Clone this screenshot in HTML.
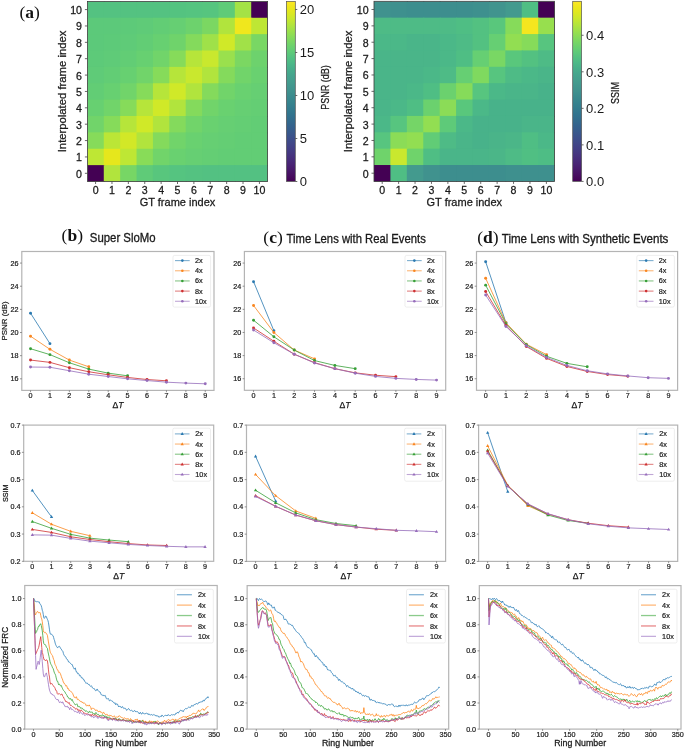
<!DOCTYPE html>
<html><head><meta charset="utf-8"><style>
html,body{margin:0;padding:0;background:#fff;width:685px;height:749px;overflow:hidden;}
svg{display:block;will-change:transform;}
</style></head><body>
<svg width="685" height="749" viewBox="0 0 685 749">
<rect width="685" height="749" fill="#fff"/>
<text x="19.4" y="17.7" font-size="17.5" font-family='"Liberation Serif", serif' fill="#111">(<tspan font-weight="bold">a</tspan>)</text>
<defs><clipPath id="c87"><rect x="87.400" y="1.400" width="180.200" height="180.100"/></clipPath></defs>
<g clip-path="url(#c87)">
<rect x="87.400" y="1.400" width="17.382" height="17.373" fill="#54c281"/>
<rect x="103.782" y="1.400" width="17.382" height="17.373" fill="#54c281"/>
<rect x="120.164" y="1.400" width="17.382" height="17.373" fill="#54c281"/>
<rect x="136.545" y="1.400" width="17.382" height="17.373" fill="#54c281"/>
<rect x="152.927" y="1.400" width="17.382" height="17.373" fill="#54c281"/>
<rect x="169.309" y="1.400" width="17.382" height="17.373" fill="#54c380"/>
<rect x="185.691" y="1.400" width="17.382" height="17.373" fill="#55c480"/>
<rect x="202.073" y="1.400" width="17.382" height="17.373" fill="#56c57f"/>
<rect x="218.455" y="1.400" width="17.382" height="17.373" fill="#5fcb78"/>
<rect x="234.836" y="1.400" width="17.382" height="17.373" fill="#a4e246"/>
<rect x="251.218" y="1.400" width="17.382" height="17.373" fill="#440154"/>
<rect x="87.400" y="17.773" width="17.382" height="17.373" fill="#5cc97a"/>
<rect x="103.782" y="17.773" width="17.382" height="17.373" fill="#5cc97a"/>
<rect x="120.164" y="17.773" width="17.382" height="17.373" fill="#5dca79"/>
<rect x="136.545" y="17.773" width="17.382" height="17.373" fill="#5fcb78"/>
<rect x="152.927" y="17.773" width="17.382" height="17.373" fill="#62cd75"/>
<rect x="169.309" y="17.773" width="17.382" height="17.373" fill="#66cf73"/>
<rect x="185.691" y="17.773" width="17.382" height="17.373" fill="#6dd26d"/>
<rect x="202.073" y="17.773" width="17.382" height="17.373" fill="#7bd762"/>
<rect x="218.455" y="17.773" width="17.382" height="17.373" fill="#b1e43d"/>
<rect x="234.836" y="17.773" width="17.382" height="17.373" fill="#f0e71d"/>
<rect x="251.218" y="17.773" width="17.382" height="17.373" fill="#bee734"/>
<rect x="87.400" y="34.145" width="17.382" height="17.373" fill="#5cc97a"/>
<rect x="103.782" y="34.145" width="17.382" height="17.373" fill="#5dca79"/>
<rect x="120.164" y="34.145" width="17.382" height="17.373" fill="#5fcb78"/>
<rect x="136.545" y="34.145" width="17.382" height="17.373" fill="#62cd75"/>
<rect x="152.927" y="34.145" width="17.382" height="17.373" fill="#67d071"/>
<rect x="169.309" y="34.145" width="17.382" height="17.373" fill="#6fd36b"/>
<rect x="185.691" y="34.145" width="17.382" height="17.373" fill="#84da5c"/>
<rect x="202.073" y="34.145" width="17.382" height="17.373" fill="#9fe149"/>
<rect x="218.455" y="34.145" width="17.382" height="17.373" fill="#d0e928"/>
<rect x="234.836" y="34.145" width="17.382" height="17.373" fill="#a1e148"/>
<rect x="251.218" y="34.145" width="17.382" height="17.373" fill="#79d764"/>
<rect x="87.400" y="50.518" width="17.382" height="17.373" fill="#5dca79"/>
<rect x="103.782" y="50.518" width="17.382" height="17.373" fill="#5fcb78"/>
<rect x="120.164" y="50.518" width="17.382" height="17.373" fill="#62cd75"/>
<rect x="136.545" y="50.518" width="17.382" height="17.373" fill="#67d071"/>
<rect x="152.927" y="50.518" width="17.382" height="17.373" fill="#71d46a"/>
<rect x="169.309" y="50.518" width="17.382" height="17.373" fill="#86db5a"/>
<rect x="185.691" y="50.518" width="17.382" height="17.373" fill="#b6e53a"/>
<rect x="202.073" y="50.518" width="17.382" height="17.373" fill="#c9e82e"/>
<rect x="218.455" y="50.518" width="17.382" height="17.373" fill="#9ae04d"/>
<rect x="234.836" y="50.518" width="17.382" height="17.373" fill="#7bd762"/>
<rect x="251.218" y="50.518" width="17.382" height="17.373" fill="#6dd26d"/>
<rect x="87.400" y="66.891" width="17.382" height="17.373" fill="#5fcb78"/>
<rect x="103.782" y="66.891" width="17.382" height="17.373" fill="#62cd75"/>
<rect x="120.164" y="66.891" width="17.382" height="17.373" fill="#67d071"/>
<rect x="136.545" y="66.891" width="17.382" height="17.373" fill="#71d46a"/>
<rect x="152.927" y="66.891" width="17.382" height="17.373" fill="#86db5a"/>
<rect x="169.309" y="66.891" width="17.382" height="17.373" fill="#b6e53a"/>
<rect x="185.691" y="66.891" width="17.382" height="17.373" fill="#c9e82e"/>
<rect x="202.073" y="66.891" width="17.382" height="17.373" fill="#b1e43d"/>
<rect x="218.455" y="66.891" width="17.382" height="17.373" fill="#84da5c"/>
<rect x="234.836" y="66.891" width="17.382" height="17.373" fill="#71d46a"/>
<rect x="251.218" y="66.891" width="17.382" height="17.373" fill="#69d170"/>
<rect x="87.400" y="83.264" width="17.382" height="17.373" fill="#62cd75"/>
<rect x="103.782" y="83.264" width="17.382" height="17.373" fill="#67d071"/>
<rect x="120.164" y="83.264" width="17.382" height="17.373" fill="#71d46a"/>
<rect x="136.545" y="83.264" width="17.382" height="17.373" fill="#86db5a"/>
<rect x="152.927" y="83.264" width="17.382" height="17.373" fill="#b6e53a"/>
<rect x="169.309" y="83.264" width="17.382" height="17.373" fill="#d0e928"/>
<rect x="185.691" y="83.264" width="17.382" height="17.373" fill="#b1e43d"/>
<rect x="202.073" y="83.264" width="17.382" height="17.373" fill="#84da5c"/>
<rect x="218.455" y="83.264" width="17.382" height="17.373" fill="#71d46a"/>
<rect x="234.836" y="83.264" width="17.382" height="17.373" fill="#69d170"/>
<rect x="251.218" y="83.264" width="17.382" height="17.373" fill="#66cf73"/>
<rect x="87.400" y="99.636" width="17.382" height="17.373" fill="#67d071"/>
<rect x="103.782" y="99.636" width="17.382" height="17.373" fill="#71d46a"/>
<rect x="120.164" y="99.636" width="17.382" height="17.373" fill="#86db5a"/>
<rect x="136.545" y="99.636" width="17.382" height="17.373" fill="#b6e53a"/>
<rect x="152.927" y="99.636" width="17.382" height="17.373" fill="#d0e928"/>
<rect x="169.309" y="99.636" width="17.382" height="17.373" fill="#b1e43d"/>
<rect x="185.691" y="99.636" width="17.382" height="17.373" fill="#84da5c"/>
<rect x="202.073" y="99.636" width="17.382" height="17.373" fill="#71d46a"/>
<rect x="218.455" y="99.636" width="17.382" height="17.373" fill="#69d170"/>
<rect x="234.836" y="99.636" width="17.382" height="17.373" fill="#66cf73"/>
<rect x="251.218" y="99.636" width="17.382" height="17.373" fill="#64ce74"/>
<rect x="87.400" y="116.009" width="17.382" height="17.373" fill="#71d46a"/>
<rect x="103.782" y="116.009" width="17.382" height="17.373" fill="#86db5a"/>
<rect x="120.164" y="116.009" width="17.382" height="17.373" fill="#b6e53a"/>
<rect x="136.545" y="116.009" width="17.382" height="17.373" fill="#d0e928"/>
<rect x="152.927" y="116.009" width="17.382" height="17.373" fill="#b1e43d"/>
<rect x="169.309" y="116.009" width="17.382" height="17.373" fill="#84da5c"/>
<rect x="185.691" y="116.009" width="17.382" height="17.373" fill="#71d46a"/>
<rect x="202.073" y="116.009" width="17.382" height="17.373" fill="#69d170"/>
<rect x="218.455" y="116.009" width="17.382" height="17.373" fill="#66cf73"/>
<rect x="234.836" y="116.009" width="17.382" height="17.373" fill="#64ce74"/>
<rect x="251.218" y="116.009" width="17.382" height="17.373" fill="#62cd75"/>
<rect x="87.400" y="132.382" width="17.382" height="17.373" fill="#86db5a"/>
<rect x="103.782" y="132.382" width="17.382" height="17.373" fill="#bbe636"/>
<rect x="120.164" y="132.382" width="17.382" height="17.373" fill="#d2e827"/>
<rect x="136.545" y="132.382" width="17.382" height="17.373" fill="#b1e43d"/>
<rect x="152.927" y="132.382" width="17.382" height="17.373" fill="#84da5c"/>
<rect x="169.309" y="132.382" width="17.382" height="17.373" fill="#71d46a"/>
<rect x="185.691" y="132.382" width="17.382" height="17.373" fill="#69d170"/>
<rect x="202.073" y="132.382" width="17.382" height="17.373" fill="#66cf73"/>
<rect x="218.455" y="132.382" width="17.382" height="17.373" fill="#64ce74"/>
<rect x="234.836" y="132.382" width="17.382" height="17.373" fill="#62cd75"/>
<rect x="251.218" y="132.382" width="17.382" height="17.373" fill="#62cd75"/>
<rect x="87.400" y="148.755" width="17.382" height="17.373" fill="#bee734"/>
<rect x="103.782" y="148.755" width="17.382" height="17.373" fill="#e6e71c"/>
<rect x="120.164" y="148.755" width="17.382" height="17.373" fill="#bee734"/>
<rect x="136.545" y="148.755" width="17.382" height="17.373" fill="#88dc58"/>
<rect x="152.927" y="148.755" width="17.382" height="17.373" fill="#71d46a"/>
<rect x="169.309" y="148.755" width="17.382" height="17.373" fill="#69d170"/>
<rect x="185.691" y="148.755" width="17.382" height="17.373" fill="#66cf73"/>
<rect x="202.073" y="148.755" width="17.382" height="17.373" fill="#64ce74"/>
<rect x="218.455" y="148.755" width="17.382" height="17.373" fill="#62cd75"/>
<rect x="234.836" y="148.755" width="17.382" height="17.373" fill="#62cd75"/>
<rect x="251.218" y="148.755" width="17.382" height="17.373" fill="#62cd75"/>
<rect x="87.400" y="165.127" width="17.382" height="17.373" fill="#440154"/>
<rect x="103.782" y="165.127" width="17.382" height="17.373" fill="#b1e43d"/>
<rect x="120.164" y="165.127" width="17.382" height="17.373" fill="#77d665"/>
<rect x="136.545" y="165.127" width="17.382" height="17.373" fill="#5fcb78"/>
<rect x="152.927" y="165.127" width="17.382" height="17.373" fill="#58c67d"/>
<rect x="169.309" y="165.127" width="17.382" height="17.373" fill="#55c480"/>
<rect x="185.691" y="165.127" width="17.382" height="17.373" fill="#54c281"/>
<rect x="202.073" y="165.127" width="17.382" height="17.373" fill="#53c182"/>
<rect x="218.455" y="165.127" width="17.382" height="17.373" fill="#53c182"/>
<rect x="234.836" y="165.127" width="17.382" height="17.373" fill="#53c182"/>
<rect x="251.218" y="165.127" width="17.382" height="17.373" fill="#53c182"/>
</g>
<rect x="87.40" y="1.40" width="180.20" height="180.10" fill="none" stroke="#3a3a3a" stroke-width="0.8"/>
<line x1="95.59" y1="181.50" x2="95.59" y2="184.00" stroke="#444" stroke-width="0.8"/>
<text x="95.59" y="194.10" font-size="10.60" text-anchor="middle" fill="#1a1a1a" font-weight="normal" font-family='"Liberation Sans", sans-serif' stroke="#1a1a1a" stroke-width="0.26">0</text>
<line x1="84.90" y1="173.31" x2="87.40" y2="173.31" stroke="#444" stroke-width="0.8"/>
<text x="82.00" y="177.81" font-size="10.60" text-anchor="end" fill="#1a1a1a" font-weight="normal" font-family='"Liberation Sans", sans-serif' stroke="#1a1a1a" stroke-width="0.26">0</text>
<line x1="111.97" y1="181.50" x2="111.97" y2="184.00" stroke="#444" stroke-width="0.8"/>
<text x="111.97" y="194.10" font-size="10.60" text-anchor="middle" fill="#1a1a1a" font-weight="normal" font-family='"Liberation Sans", sans-serif' stroke="#1a1a1a" stroke-width="0.26">1</text>
<line x1="84.90" y1="156.94" x2="87.40" y2="156.94" stroke="#444" stroke-width="0.8"/>
<text x="82.00" y="161.44" font-size="10.60" text-anchor="end" fill="#1a1a1a" font-weight="normal" font-family='"Liberation Sans", sans-serif' stroke="#1a1a1a" stroke-width="0.26">1</text>
<line x1="128.35" y1="181.50" x2="128.35" y2="184.00" stroke="#444" stroke-width="0.8"/>
<text x="128.35" y="194.10" font-size="10.60" text-anchor="middle" fill="#1a1a1a" font-weight="normal" font-family='"Liberation Sans", sans-serif' stroke="#1a1a1a" stroke-width="0.26">2</text>
<line x1="84.90" y1="140.57" x2="87.40" y2="140.57" stroke="#444" stroke-width="0.8"/>
<text x="82.00" y="145.07" font-size="10.60" text-anchor="end" fill="#1a1a1a" font-weight="normal" font-family='"Liberation Sans", sans-serif' stroke="#1a1a1a" stroke-width="0.26">2</text>
<line x1="144.74" y1="181.50" x2="144.74" y2="184.00" stroke="#444" stroke-width="0.8"/>
<text x="144.74" y="194.10" font-size="10.60" text-anchor="middle" fill="#1a1a1a" font-weight="normal" font-family='"Liberation Sans", sans-serif' stroke="#1a1a1a" stroke-width="0.26">3</text>
<line x1="84.90" y1="124.20" x2="87.40" y2="124.20" stroke="#444" stroke-width="0.8"/>
<text x="82.00" y="128.70" font-size="10.60" text-anchor="end" fill="#1a1a1a" font-weight="normal" font-family='"Liberation Sans", sans-serif' stroke="#1a1a1a" stroke-width="0.26">3</text>
<line x1="161.12" y1="181.50" x2="161.12" y2="184.00" stroke="#444" stroke-width="0.8"/>
<text x="161.12" y="194.10" font-size="10.60" text-anchor="middle" fill="#1a1a1a" font-weight="normal" font-family='"Liberation Sans", sans-serif' stroke="#1a1a1a" stroke-width="0.26">4</text>
<line x1="84.90" y1="107.82" x2="87.40" y2="107.82" stroke="#444" stroke-width="0.8"/>
<text x="82.00" y="112.32" font-size="10.60" text-anchor="end" fill="#1a1a1a" font-weight="normal" font-family='"Liberation Sans", sans-serif' stroke="#1a1a1a" stroke-width="0.26">4</text>
<line x1="177.50" y1="181.50" x2="177.50" y2="184.00" stroke="#444" stroke-width="0.8"/>
<text x="177.50" y="194.10" font-size="10.60" text-anchor="middle" fill="#1a1a1a" font-weight="normal" font-family='"Liberation Sans", sans-serif' stroke="#1a1a1a" stroke-width="0.26">5</text>
<line x1="84.90" y1="91.45" x2="87.40" y2="91.45" stroke="#444" stroke-width="0.8"/>
<text x="82.00" y="95.95" font-size="10.60" text-anchor="end" fill="#1a1a1a" font-weight="normal" font-family='"Liberation Sans", sans-serif' stroke="#1a1a1a" stroke-width="0.26">5</text>
<line x1="193.88" y1="181.50" x2="193.88" y2="184.00" stroke="#444" stroke-width="0.8"/>
<text x="193.88" y="194.10" font-size="10.60" text-anchor="middle" fill="#1a1a1a" font-weight="normal" font-family='"Liberation Sans", sans-serif' stroke="#1a1a1a" stroke-width="0.26">6</text>
<line x1="84.90" y1="75.08" x2="87.40" y2="75.08" stroke="#444" stroke-width="0.8"/>
<text x="82.00" y="79.58" font-size="10.60" text-anchor="end" fill="#1a1a1a" font-weight="normal" font-family='"Liberation Sans", sans-serif' stroke="#1a1a1a" stroke-width="0.26">6</text>
<line x1="210.26" y1="181.50" x2="210.26" y2="184.00" stroke="#444" stroke-width="0.8"/>
<text x="210.26" y="194.10" font-size="10.60" text-anchor="middle" fill="#1a1a1a" font-weight="normal" font-family='"Liberation Sans", sans-serif' stroke="#1a1a1a" stroke-width="0.26">7</text>
<line x1="84.90" y1="58.70" x2="87.40" y2="58.70" stroke="#444" stroke-width="0.8"/>
<text x="82.00" y="63.20" font-size="10.60" text-anchor="end" fill="#1a1a1a" font-weight="normal" font-family='"Liberation Sans", sans-serif' stroke="#1a1a1a" stroke-width="0.26">7</text>
<line x1="226.65" y1="181.50" x2="226.65" y2="184.00" stroke="#444" stroke-width="0.8"/>
<text x="226.65" y="194.10" font-size="10.60" text-anchor="middle" fill="#1a1a1a" font-weight="normal" font-family='"Liberation Sans", sans-serif' stroke="#1a1a1a" stroke-width="0.26">8</text>
<line x1="84.90" y1="42.33" x2="87.40" y2="42.33" stroke="#444" stroke-width="0.8"/>
<text x="82.00" y="46.83" font-size="10.60" text-anchor="end" fill="#1a1a1a" font-weight="normal" font-family='"Liberation Sans", sans-serif' stroke="#1a1a1a" stroke-width="0.26">8</text>
<line x1="243.03" y1="181.50" x2="243.03" y2="184.00" stroke="#444" stroke-width="0.8"/>
<text x="243.03" y="194.10" font-size="10.60" text-anchor="middle" fill="#1a1a1a" font-weight="normal" font-family='"Liberation Sans", sans-serif' stroke="#1a1a1a" stroke-width="0.26">9</text>
<line x1="84.90" y1="25.96" x2="87.40" y2="25.96" stroke="#444" stroke-width="0.8"/>
<text x="82.00" y="30.46" font-size="10.60" text-anchor="end" fill="#1a1a1a" font-weight="normal" font-family='"Liberation Sans", sans-serif' stroke="#1a1a1a" stroke-width="0.26">9</text>
<line x1="259.41" y1="181.50" x2="259.41" y2="184.00" stroke="#444" stroke-width="0.8"/>
<text x="259.41" y="194.10" font-size="10.60" text-anchor="middle" fill="#1a1a1a" font-weight="normal" font-family='"Liberation Sans", sans-serif' stroke="#1a1a1a" stroke-width="0.26">10</text>
<line x1="84.90" y1="9.59" x2="87.40" y2="9.59" stroke="#444" stroke-width="0.8"/>
<text x="82.00" y="14.09" font-size="10.60" text-anchor="end" fill="#1a1a1a" font-weight="normal" font-family='"Liberation Sans", sans-serif' stroke="#1a1a1a" stroke-width="0.26">10</text>
<text x="177.50" y="205.80" font-size="11.15" text-anchor="middle" fill="#1a1a1a" font-weight="normal" font-family='"Liberation Sans", sans-serif' textLength="75.60" lengthAdjust="spacingAndGlyphs" stroke="#1a1a1a" stroke-width="0.26">GT frame index</text>
<text x="65.67" y="91.45" font-size="11.30" text-anchor="middle" fill="#1a1a1a" font-weight="normal" font-family='"Liberation Sans", sans-serif' transform="rotate(-90 65.668 91.45)" textLength="121.60" lengthAdjust="spacingAndGlyphs" stroke="#1a1a1a" stroke-width="0.26">Interpolated frame index</text>
<defs><linearGradient id="g87" x1="0" y1="1" x2="0" y2="0">
<stop offset="0.0000" stop-color="#440154"/>
<stop offset="0.0312" stop-color="#470d60"/>
<stop offset="0.0625" stop-color="#48186a"/>
<stop offset="0.0938" stop-color="#482374"/>
<stop offset="0.1250" stop-color="#472d7b"/>
<stop offset="0.1562" stop-color="#453781"/>
<stop offset="0.1875" stop-color="#424086"/>
<stop offset="0.2188" stop-color="#3f4989"/>
<stop offset="0.2500" stop-color="#3b528b"/>
<stop offset="0.2812" stop-color="#375b8c"/>
<stop offset="0.3125" stop-color="#34638d"/>
<stop offset="0.3438" stop-color="#326c8d"/>
<stop offset="0.3750" stop-color="#31748e"/>
<stop offset="0.4062" stop-color="#337c8e"/>
<stop offset="0.4375" stop-color="#36838e"/>
<stop offset="0.4688" stop-color="#3a8a8e"/>
<stop offset="0.5000" stop-color="#3f918e"/>
<stop offset="0.5312" stop-color="#42978e"/>
<stop offset="0.5625" stop-color="#449e8e"/>
<stop offset="0.5938" stop-color="#45a58d"/>
<stop offset="0.6250" stop-color="#47ae8b"/>
<stop offset="0.6562" stop-color="#4cb888"/>
<stop offset="0.6875" stop-color="#53c182"/>
<stop offset="0.7188" stop-color="#5eca79"/>
<stop offset="0.7500" stop-color="#6bd16e"/>
<stop offset="0.7812" stop-color="#7bd762"/>
<stop offset="0.8125" stop-color="#8ddd55"/>
<stop offset="0.8438" stop-color="#a1e148"/>
<stop offset="0.8750" stop-color="#b6e53a"/>
<stop offset="0.9062" stop-color="#cbe82c"/>
<stop offset="0.9375" stop-color="#dee820"/>
<stop offset="0.9688" stop-color="#eee71d"/>
<stop offset="1.0000" stop-color="#fde725"/>
</linearGradient></defs>
<rect x="286.40" y="1.40" width="8.90" height="180.10" fill="url(#g87)" stroke="#555" stroke-width="0.7"/>
<line x1="295.30" y1="181.50" x2="297.30" y2="181.50" stroke="#444" stroke-width="0.8"/>
<text x="299.80" y="186.20" font-size="13.00" text-anchor="start" fill="#1a1a1a" font-weight="normal" font-family='"Liberation Sans", sans-serif'>0</text>
<line x1="295.30" y1="138.50" x2="297.30" y2="138.50" stroke="#444" stroke-width="0.8"/>
<text x="299.80" y="143.20" font-size="13.00" text-anchor="start" fill="#1a1a1a" font-weight="normal" font-family='"Liberation Sans", sans-serif'>5</text>
<line x1="295.30" y1="95.49" x2="297.30" y2="95.49" stroke="#444" stroke-width="0.8"/>
<text x="299.80" y="100.19" font-size="13.00" text-anchor="start" fill="#1a1a1a" font-weight="normal" font-family='"Liberation Sans", sans-serif'>10</text>
<line x1="295.30" y1="52.49" x2="297.30" y2="52.49" stroke="#444" stroke-width="0.8"/>
<text x="299.80" y="57.19" font-size="13.00" text-anchor="start" fill="#1a1a1a" font-weight="normal" font-family='"Liberation Sans", sans-serif'>15</text>
<line x1="295.30" y1="9.48" x2="297.30" y2="9.48" stroke="#444" stroke-width="0.8"/>
<text x="299.80" y="14.18" font-size="13.00" text-anchor="start" fill="#1a1a1a" font-weight="normal" font-family='"Liberation Sans", sans-serif'>20</text>
<text x="328.60" y="87.45" font-size="10.00" text-anchor="middle" fill="#1a1a1a" font-weight="normal" font-family='"Liberation Sans", sans-serif' transform="rotate(-90 328.6 87.45)" textLength="44.60" lengthAdjust="spacingAndGlyphs" stroke="#1a1a1a" stroke-width="0.26">PSNR (dB)</text>
<defs><clipPath id="c374"><rect x="374.000" y="1.300" width="180.600" height="180.100"/></clipPath></defs>
<g clip-path="url(#c374)">
<rect x="374.000" y="1.300" width="17.418" height="17.373" fill="#40928e"/>
<rect x="390.418" y="1.300" width="17.418" height="17.373" fill="#3e908e"/>
<rect x="406.836" y="1.300" width="17.418" height="17.373" fill="#3d8e8e"/>
<rect x="423.255" y="1.300" width="17.418" height="17.373" fill="#3d8e8e"/>
<rect x="439.673" y="1.300" width="17.418" height="17.373" fill="#3d8e8e"/>
<rect x="456.091" y="1.300" width="17.418" height="17.373" fill="#3d8e8e"/>
<rect x="472.509" y="1.300" width="17.418" height="17.373" fill="#3e908e"/>
<rect x="488.927" y="1.300" width="17.418" height="17.373" fill="#41948e"/>
<rect x="505.345" y="1.300" width="17.418" height="17.373" fill="#439a8e"/>
<rect x="521.764" y="1.300" width="17.418" height="17.373" fill="#4fbe84"/>
<rect x="538.182" y="1.300" width="17.418" height="17.373" fill="#440154"/>
<rect x="374.000" y="17.673" width="17.418" height="17.373" fill="#4ebb86"/>
<rect x="390.418" y="17.673" width="17.418" height="17.373" fill="#4ebb86"/>
<rect x="406.836" y="17.673" width="17.418" height="17.373" fill="#4ebb86"/>
<rect x="423.255" y="17.673" width="17.418" height="17.373" fill="#4ebb86"/>
<rect x="439.673" y="17.673" width="17.418" height="17.373" fill="#4ebb86"/>
<rect x="456.091" y="17.673" width="17.418" height="17.373" fill="#4fbe84"/>
<rect x="472.509" y="17.673" width="17.418" height="17.373" fill="#53c181"/>
<rect x="488.927" y="17.673" width="17.418" height="17.373" fill="#59c77c"/>
<rect x="505.345" y="17.673" width="17.418" height="17.373" fill="#86db5a"/>
<rect x="521.764" y="17.673" width="17.418" height="17.373" fill="#f4e61f"/>
<rect x="538.182" y="17.673" width="17.418" height="17.373" fill="#97df4e"/>
<rect x="374.000" y="34.045" width="17.418" height="17.373" fill="#4bb888"/>
<rect x="390.418" y="34.045" width="17.418" height="17.373" fill="#4bb888"/>
<rect x="406.836" y="34.045" width="17.418" height="17.373" fill="#4ab589"/>
<rect x="423.255" y="34.045" width="17.418" height="17.373" fill="#4ab589"/>
<rect x="439.673" y="34.045" width="17.418" height="17.373" fill="#4bb888"/>
<rect x="456.091" y="34.045" width="17.418" height="17.373" fill="#4ebb86"/>
<rect x="472.509" y="34.045" width="17.418" height="17.373" fill="#53c181"/>
<rect x="488.927" y="34.045" width="17.418" height="17.373" fill="#66cf73"/>
<rect x="505.345" y="34.045" width="17.418" height="17.373" fill="#92de52"/>
<rect x="521.764" y="34.045" width="17.418" height="17.373" fill="#86db5a"/>
<rect x="538.182" y="34.045" width="17.418" height="17.373" fill="#57c57f"/>
<rect x="374.000" y="50.418" width="17.418" height="17.373" fill="#4ab589"/>
<rect x="390.418" y="50.418" width="17.418" height="17.373" fill="#4ab589"/>
<rect x="406.836" y="50.418" width="17.418" height="17.373" fill="#4ab589"/>
<rect x="423.255" y="50.418" width="17.418" height="17.373" fill="#4ab589"/>
<rect x="439.673" y="50.418" width="17.418" height="17.373" fill="#4bb888"/>
<rect x="456.091" y="50.418" width="17.418" height="17.373" fill="#4fbe84"/>
<rect x="472.509" y="50.418" width="17.418" height="17.373" fill="#66cf73"/>
<rect x="488.927" y="50.418" width="17.418" height="17.373" fill="#79d764"/>
<rect x="505.345" y="50.418" width="17.418" height="17.373" fill="#59c77c"/>
<rect x="521.764" y="50.418" width="17.418" height="17.373" fill="#53c181"/>
<rect x="538.182" y="50.418" width="17.418" height="17.373" fill="#4ebb86"/>
<rect x="374.000" y="66.791" width="17.418" height="17.373" fill="#4ab589"/>
<rect x="390.418" y="66.791" width="17.418" height="17.373" fill="#4ab589"/>
<rect x="406.836" y="66.791" width="17.418" height="17.373" fill="#4ab589"/>
<rect x="423.255" y="66.791" width="17.418" height="17.373" fill="#4bb888"/>
<rect x="439.673" y="66.791" width="17.418" height="17.373" fill="#4ebb86"/>
<rect x="456.091" y="66.791" width="17.418" height="17.373" fill="#66cf73"/>
<rect x="472.509" y="66.791" width="17.418" height="17.373" fill="#7fd95f"/>
<rect x="488.927" y="66.791" width="17.418" height="17.373" fill="#57c57f"/>
<rect x="505.345" y="66.791" width="17.418" height="17.373" fill="#4ebb86"/>
<rect x="521.764" y="66.791" width="17.418" height="17.373" fill="#4bb888"/>
<rect x="538.182" y="66.791" width="17.418" height="17.373" fill="#4ab589"/>
<rect x="374.000" y="83.164" width="17.418" height="17.373" fill="#4ab589"/>
<rect x="390.418" y="83.164" width="17.418" height="17.373" fill="#4ab589"/>
<rect x="406.836" y="83.164" width="17.418" height="17.373" fill="#4bb888"/>
<rect x="423.255" y="83.164" width="17.418" height="17.373" fill="#4fbe84"/>
<rect x="439.673" y="83.164" width="17.418" height="17.373" fill="#6bd16e"/>
<rect x="456.091" y="83.164" width="17.418" height="17.373" fill="#86db5a"/>
<rect x="472.509" y="83.164" width="17.418" height="17.373" fill="#57c57f"/>
<rect x="488.927" y="83.164" width="17.418" height="17.373" fill="#4bb888"/>
<rect x="505.345" y="83.164" width="17.418" height="17.373" fill="#4ab589"/>
<rect x="521.764" y="83.164" width="17.418" height="17.373" fill="#4ab589"/>
<rect x="538.182" y="83.164" width="17.418" height="17.373" fill="#48b28a"/>
<rect x="374.000" y="99.536" width="17.418" height="17.373" fill="#4ab589"/>
<rect x="390.418" y="99.536" width="17.418" height="17.373" fill="#4bb888"/>
<rect x="406.836" y="99.536" width="17.418" height="17.373" fill="#4fbe84"/>
<rect x="423.255" y="99.536" width="17.418" height="17.373" fill="#6bd16e"/>
<rect x="439.673" y="99.536" width="17.418" height="17.373" fill="#8bdc57"/>
<rect x="456.091" y="99.536" width="17.418" height="17.373" fill="#59c77c"/>
<rect x="472.509" y="99.536" width="17.418" height="17.373" fill="#4bb888"/>
<rect x="488.927" y="99.536" width="17.418" height="17.373" fill="#48b28a"/>
<rect x="505.345" y="99.536" width="17.418" height="17.373" fill="#48b28a"/>
<rect x="521.764" y="99.536" width="17.418" height="17.373" fill="#48b28a"/>
<rect x="538.182" y="99.536" width="17.418" height="17.373" fill="#48b28a"/>
<rect x="374.000" y="115.909" width="17.418" height="17.373" fill="#4bb888"/>
<rect x="390.418" y="115.909" width="17.418" height="17.373" fill="#57c57f"/>
<rect x="406.836" y="115.909" width="17.418" height="17.373" fill="#75d567"/>
<rect x="423.255" y="115.909" width="17.418" height="17.373" fill="#92de52"/>
<rect x="439.673" y="115.909" width="17.418" height="17.373" fill="#5eca79"/>
<rect x="456.091" y="115.909" width="17.418" height="17.373" fill="#4bb888"/>
<rect x="472.509" y="115.909" width="17.418" height="17.373" fill="#48b28a"/>
<rect x="488.927" y="115.909" width="17.418" height="17.373" fill="#48b28a"/>
<rect x="505.345" y="115.909" width="17.418" height="17.373" fill="#48b28a"/>
<rect x="521.764" y="115.909" width="17.418" height="17.373" fill="#4ab589"/>
<rect x="538.182" y="115.909" width="17.418" height="17.373" fill="#4ab589"/>
<rect x="374.000" y="132.282" width="17.418" height="17.373" fill="#57c57f"/>
<rect x="390.418" y="132.282" width="17.418" height="17.373" fill="#8bdc57"/>
<rect x="406.836" y="132.282" width="17.418" height="17.373" fill="#92de52"/>
<rect x="423.255" y="132.282" width="17.418" height="17.373" fill="#61cc76"/>
<rect x="439.673" y="132.282" width="17.418" height="17.373" fill="#4ebb86"/>
<rect x="456.091" y="132.282" width="17.418" height="17.373" fill="#4ab589"/>
<rect x="472.509" y="132.282" width="17.418" height="17.373" fill="#48b28a"/>
<rect x="488.927" y="132.282" width="17.418" height="17.373" fill="#4ab489"/>
<rect x="505.345" y="132.282" width="17.418" height="17.373" fill="#4bb688"/>
<rect x="521.764" y="132.282" width="17.418" height="17.373" fill="#4fbe84"/>
<rect x="538.182" y="132.282" width="17.418" height="17.373" fill="#4bb888"/>
<rect x="374.000" y="148.655" width="17.418" height="17.373" fill="#6fd36b"/>
<rect x="390.418" y="148.655" width="17.418" height="17.373" fill="#c9e82e"/>
<rect x="406.836" y="148.655" width="17.418" height="17.373" fill="#6fd36b"/>
<rect x="423.255" y="148.655" width="17.418" height="17.373" fill="#4fbe84"/>
<rect x="439.673" y="148.655" width="17.418" height="17.373" fill="#4ab589"/>
<rect x="456.091" y="148.655" width="17.418" height="17.373" fill="#4ab589"/>
<rect x="472.509" y="148.655" width="17.418" height="17.373" fill="#4ab589"/>
<rect x="488.927" y="148.655" width="17.418" height="17.373" fill="#4bb688"/>
<rect x="505.345" y="148.655" width="17.418" height="17.373" fill="#4ebb86"/>
<rect x="521.764" y="148.655" width="17.418" height="17.373" fill="#50bf83"/>
<rect x="538.182" y="148.655" width="17.418" height="17.373" fill="#4ebd85"/>
<rect x="374.000" y="165.027" width="17.418" height="17.373" fill="#440154"/>
<rect x="390.418" y="165.027" width="17.418" height="17.373" fill="#4fbe84"/>
<rect x="406.836" y="165.027" width="17.418" height="17.373" fill="#439a8e"/>
<rect x="423.255" y="165.027" width="17.418" height="17.373" fill="#40928e"/>
<rect x="439.673" y="165.027" width="17.418" height="17.373" fill="#3d8e8e"/>
<rect x="456.091" y="165.027" width="17.418" height="17.373" fill="#3d8e8e"/>
<rect x="472.509" y="165.027" width="17.418" height="17.373" fill="#3d8e8e"/>
<rect x="488.927" y="165.027" width="17.418" height="17.373" fill="#3d8e8e"/>
<rect x="505.345" y="165.027" width="17.418" height="17.373" fill="#3e908e"/>
<rect x="521.764" y="165.027" width="17.418" height="17.373" fill="#3e908e"/>
<rect x="538.182" y="165.027" width="17.418" height="17.373" fill="#3e908e"/>
</g>
<rect x="374.00" y="1.30" width="180.60" height="180.10" fill="none" stroke="#3a3a3a" stroke-width="0.8"/>
<line x1="382.21" y1="181.40" x2="382.21" y2="183.90" stroke="#444" stroke-width="0.8"/>
<text x="382.21" y="194.00" font-size="10.60" text-anchor="middle" fill="#1a1a1a" font-weight="normal" font-family='"Liberation Sans", sans-serif' stroke="#1a1a1a" stroke-width="0.26">0</text>
<line x1="371.50" y1="173.21" x2="374.00" y2="173.21" stroke="#444" stroke-width="0.8"/>
<text x="368.60" y="177.71" font-size="10.60" text-anchor="end" fill="#1a1a1a" font-weight="normal" font-family='"Liberation Sans", sans-serif' stroke="#1a1a1a" stroke-width="0.26">0</text>
<line x1="398.63" y1="181.40" x2="398.63" y2="183.90" stroke="#444" stroke-width="0.8"/>
<text x="398.63" y="194.00" font-size="10.60" text-anchor="middle" fill="#1a1a1a" font-weight="normal" font-family='"Liberation Sans", sans-serif' stroke="#1a1a1a" stroke-width="0.26">1</text>
<line x1="371.50" y1="156.84" x2="374.00" y2="156.84" stroke="#444" stroke-width="0.8"/>
<text x="368.60" y="161.34" font-size="10.60" text-anchor="end" fill="#1a1a1a" font-weight="normal" font-family='"Liberation Sans", sans-serif' stroke="#1a1a1a" stroke-width="0.26">1</text>
<line x1="415.05" y1="181.40" x2="415.05" y2="183.90" stroke="#444" stroke-width="0.8"/>
<text x="415.05" y="194.00" font-size="10.60" text-anchor="middle" fill="#1a1a1a" font-weight="normal" font-family='"Liberation Sans", sans-serif' stroke="#1a1a1a" stroke-width="0.26">2</text>
<line x1="371.50" y1="140.47" x2="374.00" y2="140.47" stroke="#444" stroke-width="0.8"/>
<text x="368.60" y="144.97" font-size="10.60" text-anchor="end" fill="#1a1a1a" font-weight="normal" font-family='"Liberation Sans", sans-serif' stroke="#1a1a1a" stroke-width="0.26">2</text>
<line x1="431.46" y1="181.40" x2="431.46" y2="183.90" stroke="#444" stroke-width="0.8"/>
<text x="431.46" y="194.00" font-size="10.60" text-anchor="middle" fill="#1a1a1a" font-weight="normal" font-family='"Liberation Sans", sans-serif' stroke="#1a1a1a" stroke-width="0.26">3</text>
<line x1="371.50" y1="124.10" x2="374.00" y2="124.10" stroke="#444" stroke-width="0.8"/>
<text x="368.60" y="128.60" font-size="10.60" text-anchor="end" fill="#1a1a1a" font-weight="normal" font-family='"Liberation Sans", sans-serif' stroke="#1a1a1a" stroke-width="0.26">3</text>
<line x1="447.88" y1="181.40" x2="447.88" y2="183.90" stroke="#444" stroke-width="0.8"/>
<text x="447.88" y="194.00" font-size="10.60" text-anchor="middle" fill="#1a1a1a" font-weight="normal" font-family='"Liberation Sans", sans-serif' stroke="#1a1a1a" stroke-width="0.26">4</text>
<line x1="371.50" y1="107.72" x2="374.00" y2="107.72" stroke="#444" stroke-width="0.8"/>
<text x="368.60" y="112.22" font-size="10.60" text-anchor="end" fill="#1a1a1a" font-weight="normal" font-family='"Liberation Sans", sans-serif' stroke="#1a1a1a" stroke-width="0.26">4</text>
<line x1="464.30" y1="181.40" x2="464.30" y2="183.90" stroke="#444" stroke-width="0.8"/>
<text x="464.30" y="194.00" font-size="10.60" text-anchor="middle" fill="#1a1a1a" font-weight="normal" font-family='"Liberation Sans", sans-serif' stroke="#1a1a1a" stroke-width="0.26">5</text>
<line x1="371.50" y1="91.35" x2="374.00" y2="91.35" stroke="#444" stroke-width="0.8"/>
<text x="368.60" y="95.85" font-size="10.60" text-anchor="end" fill="#1a1a1a" font-weight="normal" font-family='"Liberation Sans", sans-serif' stroke="#1a1a1a" stroke-width="0.26">5</text>
<line x1="480.72" y1="181.40" x2="480.72" y2="183.90" stroke="#444" stroke-width="0.8"/>
<text x="480.72" y="194.00" font-size="10.60" text-anchor="middle" fill="#1a1a1a" font-weight="normal" font-family='"Liberation Sans", sans-serif' stroke="#1a1a1a" stroke-width="0.26">6</text>
<line x1="371.50" y1="74.98" x2="374.00" y2="74.98" stroke="#444" stroke-width="0.8"/>
<text x="368.60" y="79.48" font-size="10.60" text-anchor="end" fill="#1a1a1a" font-weight="normal" font-family='"Liberation Sans", sans-serif' stroke="#1a1a1a" stroke-width="0.26">6</text>
<line x1="497.14" y1="181.40" x2="497.14" y2="183.90" stroke="#444" stroke-width="0.8"/>
<text x="497.14" y="194.00" font-size="10.60" text-anchor="middle" fill="#1a1a1a" font-weight="normal" font-family='"Liberation Sans", sans-serif' stroke="#1a1a1a" stroke-width="0.26">7</text>
<line x1="371.50" y1="58.60" x2="374.00" y2="58.60" stroke="#444" stroke-width="0.8"/>
<text x="368.60" y="63.10" font-size="10.60" text-anchor="end" fill="#1a1a1a" font-weight="normal" font-family='"Liberation Sans", sans-serif' stroke="#1a1a1a" stroke-width="0.26">7</text>
<line x1="513.55" y1="181.40" x2="513.55" y2="183.90" stroke="#444" stroke-width="0.8"/>
<text x="513.55" y="194.00" font-size="10.60" text-anchor="middle" fill="#1a1a1a" font-weight="normal" font-family='"Liberation Sans", sans-serif' stroke="#1a1a1a" stroke-width="0.26">8</text>
<line x1="371.50" y1="42.23" x2="374.00" y2="42.23" stroke="#444" stroke-width="0.8"/>
<text x="368.60" y="46.73" font-size="10.60" text-anchor="end" fill="#1a1a1a" font-weight="normal" font-family='"Liberation Sans", sans-serif' stroke="#1a1a1a" stroke-width="0.26">8</text>
<line x1="529.97" y1="181.40" x2="529.97" y2="183.90" stroke="#444" stroke-width="0.8"/>
<text x="529.97" y="194.00" font-size="10.60" text-anchor="middle" fill="#1a1a1a" font-weight="normal" font-family='"Liberation Sans", sans-serif' stroke="#1a1a1a" stroke-width="0.26">9</text>
<line x1="371.50" y1="25.86" x2="374.00" y2="25.86" stroke="#444" stroke-width="0.8"/>
<text x="368.60" y="30.36" font-size="10.60" text-anchor="end" fill="#1a1a1a" font-weight="normal" font-family='"Liberation Sans", sans-serif' stroke="#1a1a1a" stroke-width="0.26">9</text>
<line x1="546.39" y1="181.40" x2="546.39" y2="183.90" stroke="#444" stroke-width="0.8"/>
<text x="546.39" y="194.00" font-size="10.60" text-anchor="middle" fill="#1a1a1a" font-weight="normal" font-family='"Liberation Sans", sans-serif' stroke="#1a1a1a" stroke-width="0.26">10</text>
<line x1="371.50" y1="9.49" x2="374.00" y2="9.49" stroke="#444" stroke-width="0.8"/>
<text x="368.60" y="13.99" font-size="10.60" text-anchor="end" fill="#1a1a1a" font-weight="normal" font-family='"Liberation Sans", sans-serif' stroke="#1a1a1a" stroke-width="0.26">10</text>
<text x="464.30" y="205.70" font-size="11.15" text-anchor="middle" fill="#1a1a1a" font-weight="normal" font-family='"Liberation Sans", sans-serif' textLength="75.60" lengthAdjust="spacingAndGlyphs" stroke="#1a1a1a" stroke-width="0.26">GT frame index</text>
<text x="351.57" y="91.35" font-size="11.30" text-anchor="middle" fill="#1a1a1a" font-weight="normal" font-family='"Liberation Sans", sans-serif' transform="rotate(-90 351.568 91.35)" textLength="121.60" lengthAdjust="spacingAndGlyphs" stroke="#1a1a1a" stroke-width="0.26">Interpolated frame index</text>
<defs><linearGradient id="g374" x1="0" y1="1" x2="0" y2="0">
<stop offset="0.0000" stop-color="#440154"/>
<stop offset="0.0312" stop-color="#470d60"/>
<stop offset="0.0625" stop-color="#48186a"/>
<stop offset="0.0938" stop-color="#482374"/>
<stop offset="0.1250" stop-color="#472d7b"/>
<stop offset="0.1562" stop-color="#453781"/>
<stop offset="0.1875" stop-color="#424086"/>
<stop offset="0.2188" stop-color="#3f4989"/>
<stop offset="0.2500" stop-color="#3b528b"/>
<stop offset="0.2812" stop-color="#375b8c"/>
<stop offset="0.3125" stop-color="#34638d"/>
<stop offset="0.3438" stop-color="#326c8d"/>
<stop offset="0.3750" stop-color="#31748e"/>
<stop offset="0.4062" stop-color="#337c8e"/>
<stop offset="0.4375" stop-color="#36838e"/>
<stop offset="0.4688" stop-color="#3a8a8e"/>
<stop offset="0.5000" stop-color="#3f918e"/>
<stop offset="0.5312" stop-color="#42978e"/>
<stop offset="0.5625" stop-color="#449e8e"/>
<stop offset="0.5938" stop-color="#45a58d"/>
<stop offset="0.6250" stop-color="#47ae8b"/>
<stop offset="0.6562" stop-color="#4cb888"/>
<stop offset="0.6875" stop-color="#53c182"/>
<stop offset="0.7188" stop-color="#5eca79"/>
<stop offset="0.7500" stop-color="#6bd16e"/>
<stop offset="0.7812" stop-color="#7bd762"/>
<stop offset="0.8125" stop-color="#8ddd55"/>
<stop offset="0.8438" stop-color="#a1e148"/>
<stop offset="0.8750" stop-color="#b6e53a"/>
<stop offset="0.9062" stop-color="#cbe82c"/>
<stop offset="0.9375" stop-color="#dee820"/>
<stop offset="0.9688" stop-color="#eee71d"/>
<stop offset="1.0000" stop-color="#fde725"/>
</linearGradient></defs>
<rect x="572.70" y="1.30" width="8.90" height="180.10" fill="url(#g374)" stroke="#555" stroke-width="0.7"/>
<line x1="581.60" y1="181.40" x2="583.60" y2="181.40" stroke="#444" stroke-width="0.8"/>
<text x="586.10" y="186.10" font-size="13.00" text-anchor="start" fill="#1a1a1a" font-weight="normal" font-family='"Liberation Sans", sans-serif'>0.0</text>
<line x1="581.60" y1="144.87" x2="583.60" y2="144.87" stroke="#444" stroke-width="0.8"/>
<text x="586.10" y="149.57" font-size="13.00" text-anchor="start" fill="#1a1a1a" font-weight="normal" font-family='"Liberation Sans", sans-serif'>0.1</text>
<line x1="581.60" y1="108.34" x2="583.60" y2="108.34" stroke="#444" stroke-width="0.8"/>
<text x="586.10" y="113.04" font-size="13.00" text-anchor="start" fill="#1a1a1a" font-weight="normal" font-family='"Liberation Sans", sans-serif'>0.2</text>
<line x1="581.60" y1="71.81" x2="583.60" y2="71.81" stroke="#444" stroke-width="0.8"/>
<text x="586.10" y="76.51" font-size="13.00" text-anchor="start" fill="#1a1a1a" font-weight="normal" font-family='"Liberation Sans", sans-serif'>0.3</text>
<line x1="581.60" y1="35.27" x2="583.60" y2="35.27" stroke="#444" stroke-width="0.8"/>
<text x="586.10" y="39.97" font-size="13.00" text-anchor="start" fill="#1a1a1a" font-weight="normal" font-family='"Liberation Sans", sans-serif'>0.4</text>
<text x="619.10" y="93.10" font-size="10.00" text-anchor="middle" fill="#1a1a1a" font-weight="normal" font-family='"Liberation Sans", sans-serif' transform="rotate(-90 619.1 93.1)" textLength="22.00" lengthAdjust="spacingAndGlyphs" stroke="#1a1a1a" stroke-width="0.26">SSIM</text>
<text x="61.60" y="241.00" font-size="17.5" font-family='"Liberation Serif", serif' fill="#111">(<tspan font-weight="bold">b</tspan>)</text>
<text x="89.80" y="241.60" font-size="12.20" text-anchor="start" fill="#1a1a1a" font-weight="normal" font-family='"Liberation Sans", sans-serif' stroke="#1a1a1a" stroke-width="0.3" textLength="65.80" lengthAdjust="spacingAndGlyphs">Super SloMo</text>
<text x="263.30" y="242.60" font-size="17.5" font-family='"Liberation Serif", serif' fill="#111">(<tspan font-weight="bold">c</tspan>)</text>
<text x="286.60" y="242.80" font-size="12.20" text-anchor="start" fill="#1a1a1a" font-weight="normal" font-family='"Liberation Sans", sans-serif' stroke="#1a1a1a" stroke-width="0.3" textLength="139.20" lengthAdjust="spacingAndGlyphs">Time Lens with Real Events</text>
<text x="477.20" y="242.80" font-size="17.5" font-family='"Liberation Serif", serif' fill="#111">(<tspan font-weight="bold">d</tspan>)</text>
<text x="501.80" y="242.80" font-size="12.20" text-anchor="start" fill="#1a1a1a" font-weight="normal" font-family='"Liberation Sans", sans-serif' stroke="#1a1a1a" stroke-width="0.3" textLength="166.60" lengthAdjust="spacingAndGlyphs">Time Lens with Synthetic Events</text>
<rect x="21.80" y="251.50" width="192.20" height="138.90" fill="none" stroke="#b4b4b4" stroke-width="1.2"/>
<line x1="30.54" y1="390.40" x2="30.54" y2="392.20" stroke="#666" stroke-width="0.7"/>
<text x="30.54" y="398.30" font-size="7.20" text-anchor="middle" fill="#1a1a1a" font-weight="normal" font-family='"Liberation Sans", sans-serif' stroke="#1a1a1a" stroke-width="0.20">0</text>
<line x1="49.95" y1="390.40" x2="49.95" y2="392.20" stroke="#666" stroke-width="0.7"/>
<text x="49.95" y="398.30" font-size="7.20" text-anchor="middle" fill="#1a1a1a" font-weight="normal" font-family='"Liberation Sans", sans-serif' stroke="#1a1a1a" stroke-width="0.20">1</text>
<line x1="69.36" y1="390.40" x2="69.36" y2="392.20" stroke="#666" stroke-width="0.7"/>
<text x="69.36" y="398.30" font-size="7.20" text-anchor="middle" fill="#1a1a1a" font-weight="normal" font-family='"Liberation Sans", sans-serif' stroke="#1a1a1a" stroke-width="0.20">2</text>
<line x1="88.78" y1="390.40" x2="88.78" y2="392.20" stroke="#666" stroke-width="0.7"/>
<text x="88.78" y="398.30" font-size="7.20" text-anchor="middle" fill="#1a1a1a" font-weight="normal" font-family='"Liberation Sans", sans-serif' stroke="#1a1a1a" stroke-width="0.20">3</text>
<line x1="108.19" y1="390.40" x2="108.19" y2="392.20" stroke="#666" stroke-width="0.7"/>
<text x="108.19" y="398.30" font-size="7.20" text-anchor="middle" fill="#1a1a1a" font-weight="normal" font-family='"Liberation Sans", sans-serif' stroke="#1a1a1a" stroke-width="0.20">4</text>
<line x1="127.61" y1="390.40" x2="127.61" y2="392.20" stroke="#666" stroke-width="0.7"/>
<text x="127.61" y="398.30" font-size="7.20" text-anchor="middle" fill="#1a1a1a" font-weight="normal" font-family='"Liberation Sans", sans-serif' stroke="#1a1a1a" stroke-width="0.20">5</text>
<line x1="147.02" y1="390.40" x2="147.02" y2="392.20" stroke="#666" stroke-width="0.7"/>
<text x="147.02" y="398.30" font-size="7.20" text-anchor="middle" fill="#1a1a1a" font-weight="normal" font-family='"Liberation Sans", sans-serif' stroke="#1a1a1a" stroke-width="0.20">6</text>
<line x1="166.44" y1="390.40" x2="166.44" y2="392.20" stroke="#666" stroke-width="0.7"/>
<text x="166.44" y="398.30" font-size="7.20" text-anchor="middle" fill="#1a1a1a" font-weight="normal" font-family='"Liberation Sans", sans-serif' stroke="#1a1a1a" stroke-width="0.20">7</text>
<line x1="185.85" y1="390.40" x2="185.85" y2="392.20" stroke="#666" stroke-width="0.7"/>
<text x="185.85" y="398.30" font-size="7.20" text-anchor="middle" fill="#1a1a1a" font-weight="normal" font-family='"Liberation Sans", sans-serif' stroke="#1a1a1a" stroke-width="0.20">8</text>
<line x1="205.26" y1="390.40" x2="205.26" y2="392.20" stroke="#666" stroke-width="0.7"/>
<text x="205.26" y="398.30" font-size="7.20" text-anchor="middle" fill="#1a1a1a" font-weight="normal" font-family='"Liberation Sans", sans-serif' stroke="#1a1a1a" stroke-width="0.20">9</text>
<line x1="20.00" y1="378.82" x2="21.80" y2="378.82" stroke="#666" stroke-width="0.7"/>
<text x="18.60" y="381.38" font-size="7.20" text-anchor="end" fill="#1a1a1a" font-weight="normal" font-family='"Liberation Sans", sans-serif' stroke="#1a1a1a" stroke-width="0.20">16</text>
<line x1="20.00" y1="355.67" x2="21.80" y2="355.67" stroke="#666" stroke-width="0.7"/>
<text x="18.60" y="358.22" font-size="7.20" text-anchor="end" fill="#1a1a1a" font-weight="normal" font-family='"Liberation Sans", sans-serif' stroke="#1a1a1a" stroke-width="0.20">18</text>
<line x1="20.00" y1="332.52" x2="21.80" y2="332.52" stroke="#666" stroke-width="0.7"/>
<text x="18.60" y="335.07" font-size="7.20" text-anchor="end" fill="#1a1a1a" font-weight="normal" font-family='"Liberation Sans", sans-serif' stroke="#1a1a1a" stroke-width="0.20">20</text>
<line x1="20.00" y1="309.38" x2="21.80" y2="309.38" stroke="#666" stroke-width="0.7"/>
<text x="18.60" y="311.93" font-size="7.20" text-anchor="end" fill="#1a1a1a" font-weight="normal" font-family='"Liberation Sans", sans-serif' stroke="#1a1a1a" stroke-width="0.20">22</text>
<line x1="20.00" y1="286.23" x2="21.80" y2="286.23" stroke="#666" stroke-width="0.7"/>
<text x="18.60" y="288.78" font-size="7.20" text-anchor="end" fill="#1a1a1a" font-weight="normal" font-family='"Liberation Sans", sans-serif' stroke="#1a1a1a" stroke-width="0.20">24</text>
<line x1="20.00" y1="263.07" x2="21.80" y2="263.07" stroke="#666" stroke-width="0.7"/>
<text x="18.60" y="265.62" font-size="7.20" text-anchor="end" fill="#1a1a1a" font-weight="normal" font-family='"Liberation Sans", sans-serif' stroke="#1a1a1a" stroke-width="0.20">26</text>
<polyline points="30.54,313.19 49.95,343.64" fill="none" stroke="#2a79b0" stroke-width="0.8" stroke-linejoin="round"/>
<circle cx="30.54" cy="313.19" r="1.45" fill="#2a79b0"/>
<circle cx="49.95" cy="343.64" r="1.45" fill="#2a79b0"/>
<polyline points="30.54,336.23 49.95,349.31 69.36,360.07 88.78,366.79" fill="none" stroke="#f98620" stroke-width="0.8" stroke-linejoin="round"/>
<circle cx="30.54" cy="336.23" r="1.45" fill="#f98620"/>
<circle cx="49.95" cy="349.31" r="1.45" fill="#f98620"/>
<circle cx="69.36" cy="360.07" r="1.45" fill="#f98620"/>
<circle cx="88.78" cy="366.79" r="1.45" fill="#f98620"/>
<polyline points="30.54,348.73 49.95,354.63 69.36,362.74 88.78,369.10 108.19,373.15 127.61,375.82" fill="none" stroke="#379f37" stroke-width="0.8" stroke-linejoin="round"/>
<circle cx="30.54" cy="348.73" r="1.45" fill="#379f37"/>
<circle cx="49.95" cy="354.63" r="1.45" fill="#379f37"/>
<circle cx="69.36" cy="362.74" r="1.45" fill="#379f37"/>
<circle cx="88.78" cy="369.10" r="1.45" fill="#379f37"/>
<circle cx="108.19" cy="373.15" r="1.45" fill="#379f37"/>
<circle cx="127.61" cy="375.82" r="1.45" fill="#379f37"/>
<polyline points="30.54,360.07 49.95,362.39 69.36,367.71 88.78,371.76 108.19,374.77 127.61,377.44 147.02,379.52 166.44,380.79" fill="none" stroke="#ce3031" stroke-width="0.8" stroke-linejoin="round"/>
<circle cx="30.54" cy="360.07" r="1.45" fill="#ce3031"/>
<circle cx="49.95" cy="362.39" r="1.45" fill="#ce3031"/>
<circle cx="69.36" cy="367.71" r="1.45" fill="#ce3031"/>
<circle cx="88.78" cy="371.76" r="1.45" fill="#ce3031"/>
<circle cx="108.19" cy="374.77" r="1.45" fill="#ce3031"/>
<circle cx="127.61" cy="377.44" r="1.45" fill="#ce3031"/>
<circle cx="147.02" cy="379.52" r="1.45" fill="#ce3031"/>
<circle cx="166.44" cy="380.79" r="1.45" fill="#ce3031"/>
<polyline points="30.54,367.02 49.95,367.25 69.36,370.72 88.78,374.19 108.19,376.51 127.61,378.82 147.02,380.56 166.44,382.18 185.85,383.11 205.26,383.80" fill="none" stroke="#966dbb" stroke-width="0.8" stroke-linejoin="round"/>
<circle cx="30.54" cy="367.02" r="1.45" fill="#966dbb"/>
<circle cx="49.95" cy="367.25" r="1.45" fill="#966dbb"/>
<circle cx="69.36" cy="370.72" r="1.45" fill="#966dbb"/>
<circle cx="88.78" cy="374.19" r="1.45" fill="#966dbb"/>
<circle cx="108.19" cy="376.51" r="1.45" fill="#966dbb"/>
<circle cx="127.61" cy="378.82" r="1.45" fill="#966dbb"/>
<circle cx="147.02" cy="380.56" r="1.45" fill="#966dbb"/>
<circle cx="166.44" cy="382.18" r="1.45" fill="#966dbb"/>
<circle cx="185.85" cy="383.11" r="1.45" fill="#966dbb"/>
<circle cx="205.26" cy="383.80" r="1.45" fill="#966dbb"/>
<text x="117.90" y="407.60" font-size="8.6" text-anchor="middle" fill="#1a1a1a" stroke="#1a1a1a" stroke-width="0.25" font-family='"Liberation Sans", sans-serif'>&#916;<tspan font-style="italic">T</tspan></text>
<text x="6.84" y="320.95" font-size="7.90" text-anchor="middle" fill="#1a1a1a" font-weight="normal" font-family='"Liberation Sans", sans-serif' transform="rotate(-90 6.844 320.95)" stroke="#1a1a1a" stroke-width="0.20">PSNR (dB)</text>
<rect x="173.00" y="255.40" width="37.60" height="51.70" rx="1.6" fill="#fff" fill-opacity="0.85" stroke="#e2e2e2" stroke-width="0.6"/>
<line x1="175.00" y1="260.60" x2="189.70" y2="260.60" stroke="#2a79b0" stroke-width="1.1" stroke-opacity="0.6"/>
<circle cx="182.35" cy="260.60" r="1.3" fill="#2a79b0"/>
<text x="195.00" y="263.15" font-size="7.30" text-anchor="start" fill="#1a1a1a" font-weight="normal" font-family='"Liberation Sans", sans-serif' stroke="#1a1a1a" stroke-width="0.20">2x</text>
<line x1="175.00" y1="270.77" x2="189.70" y2="270.77" stroke="#f98620" stroke-width="1.1" stroke-opacity="0.6"/>
<circle cx="182.35" cy="270.77" r="1.3" fill="#f98620"/>
<text x="195.00" y="273.32" font-size="7.30" text-anchor="start" fill="#1a1a1a" font-weight="normal" font-family='"Liberation Sans", sans-serif' stroke="#1a1a1a" stroke-width="0.20">4x</text>
<line x1="175.00" y1="280.94" x2="189.70" y2="280.94" stroke="#379f37" stroke-width="1.1" stroke-opacity="0.6"/>
<circle cx="182.35" cy="280.94" r="1.3" fill="#379f37"/>
<text x="195.00" y="283.49" font-size="7.30" text-anchor="start" fill="#1a1a1a" font-weight="normal" font-family='"Liberation Sans", sans-serif' stroke="#1a1a1a" stroke-width="0.20">6x</text>
<line x1="175.00" y1="291.11" x2="189.70" y2="291.11" stroke="#ce3031" stroke-width="1.1" stroke-opacity="0.6"/>
<circle cx="182.35" cy="291.11" r="1.3" fill="#ce3031"/>
<text x="195.00" y="293.66" font-size="7.30" text-anchor="start" fill="#1a1a1a" font-weight="normal" font-family='"Liberation Sans", sans-serif' stroke="#1a1a1a" stroke-width="0.20">8x</text>
<line x1="175.00" y1="301.28" x2="189.70" y2="301.28" stroke="#966dbb" stroke-width="1.1" stroke-opacity="0.6"/>
<circle cx="182.35" cy="301.28" r="1.3" fill="#966dbb"/>
<text x="195.00" y="303.83" font-size="7.30" text-anchor="start" fill="#1a1a1a" font-weight="normal" font-family='"Liberation Sans", sans-serif' stroke="#1a1a1a" stroke-width="0.20">10x</text>
<rect x="244.40" y="251.50" width="201.30" height="138.80" fill="none" stroke="#b4b4b4" stroke-width="1.2"/>
<line x1="253.55" y1="390.30" x2="253.55" y2="392.10" stroke="#666" stroke-width="0.7"/>
<text x="253.55" y="398.20" font-size="7.20" text-anchor="middle" fill="#1a1a1a" font-weight="normal" font-family='"Liberation Sans", sans-serif' stroke="#1a1a1a" stroke-width="0.20">0</text>
<line x1="273.88" y1="390.30" x2="273.88" y2="392.10" stroke="#666" stroke-width="0.7"/>
<text x="273.88" y="398.20" font-size="7.20" text-anchor="middle" fill="#1a1a1a" font-weight="normal" font-family='"Liberation Sans", sans-serif' stroke="#1a1a1a" stroke-width="0.20">1</text>
<line x1="294.22" y1="390.30" x2="294.22" y2="392.10" stroke="#666" stroke-width="0.7"/>
<text x="294.22" y="398.20" font-size="7.20" text-anchor="middle" fill="#1a1a1a" font-weight="normal" font-family='"Liberation Sans", sans-serif' stroke="#1a1a1a" stroke-width="0.20">2</text>
<line x1="314.55" y1="390.30" x2="314.55" y2="392.10" stroke="#666" stroke-width="0.7"/>
<text x="314.55" y="398.20" font-size="7.20" text-anchor="middle" fill="#1a1a1a" font-weight="normal" font-family='"Liberation Sans", sans-serif' stroke="#1a1a1a" stroke-width="0.20">3</text>
<line x1="334.88" y1="390.30" x2="334.88" y2="392.10" stroke="#666" stroke-width="0.7"/>
<text x="334.88" y="398.20" font-size="7.20" text-anchor="middle" fill="#1a1a1a" font-weight="normal" font-family='"Liberation Sans", sans-serif' stroke="#1a1a1a" stroke-width="0.20">4</text>
<line x1="355.22" y1="390.30" x2="355.22" y2="392.10" stroke="#666" stroke-width="0.7"/>
<text x="355.22" y="398.20" font-size="7.20" text-anchor="middle" fill="#1a1a1a" font-weight="normal" font-family='"Liberation Sans", sans-serif' stroke="#1a1a1a" stroke-width="0.20">5</text>
<line x1="375.55" y1="390.30" x2="375.55" y2="392.10" stroke="#666" stroke-width="0.7"/>
<text x="375.55" y="398.20" font-size="7.20" text-anchor="middle" fill="#1a1a1a" font-weight="normal" font-family='"Liberation Sans", sans-serif' stroke="#1a1a1a" stroke-width="0.20">6</text>
<line x1="395.88" y1="390.30" x2="395.88" y2="392.10" stroke="#666" stroke-width="0.7"/>
<text x="395.88" y="398.20" font-size="7.20" text-anchor="middle" fill="#1a1a1a" font-weight="normal" font-family='"Liberation Sans", sans-serif' stroke="#1a1a1a" stroke-width="0.20">7</text>
<line x1="416.22" y1="390.30" x2="416.22" y2="392.10" stroke="#666" stroke-width="0.7"/>
<text x="416.22" y="398.20" font-size="7.20" text-anchor="middle" fill="#1a1a1a" font-weight="normal" font-family='"Liberation Sans", sans-serif' stroke="#1a1a1a" stroke-width="0.20">8</text>
<line x1="436.55" y1="390.30" x2="436.55" y2="392.10" stroke="#666" stroke-width="0.7"/>
<text x="436.55" y="398.20" font-size="7.20" text-anchor="middle" fill="#1a1a1a" font-weight="normal" font-family='"Liberation Sans", sans-serif' stroke="#1a1a1a" stroke-width="0.20">9</text>
<line x1="242.60" y1="378.73" x2="244.40" y2="378.73" stroke="#666" stroke-width="0.7"/>
<text x="241.20" y="381.28" font-size="7.20" text-anchor="end" fill="#1a1a1a" font-weight="normal" font-family='"Liberation Sans", sans-serif' stroke="#1a1a1a" stroke-width="0.20">16</text>
<line x1="242.60" y1="355.60" x2="244.40" y2="355.60" stroke="#666" stroke-width="0.7"/>
<text x="241.20" y="358.15" font-size="7.20" text-anchor="end" fill="#1a1a1a" font-weight="normal" font-family='"Liberation Sans", sans-serif' stroke="#1a1a1a" stroke-width="0.20">18</text>
<line x1="242.60" y1="332.47" x2="244.40" y2="332.47" stroke="#666" stroke-width="0.7"/>
<text x="241.20" y="335.02" font-size="7.20" text-anchor="end" fill="#1a1a1a" font-weight="normal" font-family='"Liberation Sans", sans-serif' stroke="#1a1a1a" stroke-width="0.20">20</text>
<line x1="242.60" y1="309.33" x2="244.40" y2="309.33" stroke="#666" stroke-width="0.7"/>
<text x="241.20" y="311.88" font-size="7.20" text-anchor="end" fill="#1a1a1a" font-weight="normal" font-family='"Liberation Sans", sans-serif' stroke="#1a1a1a" stroke-width="0.20">22</text>
<line x1="242.60" y1="286.20" x2="244.40" y2="286.20" stroke="#666" stroke-width="0.7"/>
<text x="241.20" y="288.75" font-size="7.20" text-anchor="end" fill="#1a1a1a" font-weight="normal" font-family='"Liberation Sans", sans-serif' stroke="#1a1a1a" stroke-width="0.20">24</text>
<line x1="242.60" y1="263.07" x2="244.40" y2="263.07" stroke="#666" stroke-width="0.7"/>
<text x="241.20" y="265.62" font-size="7.20" text-anchor="end" fill="#1a1a1a" font-weight="normal" font-family='"Liberation Sans", sans-serif' stroke="#1a1a1a" stroke-width="0.20">26</text>
<polyline points="253.55,281.69 273.88,330.73" fill="none" stroke="#2a79b0" stroke-width="0.8" stroke-linejoin="round"/>
<circle cx="253.55" cy="281.69" r="1.45" fill="#2a79b0"/>
<circle cx="273.88" cy="330.73" r="1.45" fill="#2a79b0"/>
<polyline points="253.55,305.52 273.88,332.47 294.22,350.05 314.55,358.84" fill="none" stroke="#f98620" stroke-width="0.8" stroke-linejoin="round"/>
<circle cx="253.55" cy="305.52" r="1.45" fill="#f98620"/>
<circle cx="273.88" cy="332.47" r="1.45" fill="#f98620"/>
<circle cx="294.22" cy="350.05" r="1.45" fill="#f98620"/>
<circle cx="314.55" cy="358.84" r="1.45" fill="#f98620"/>
<polyline points="253.55,320.21 273.88,336.75 294.22,350.05 314.55,360.57 334.88,365.43 355.22,368.67" fill="none" stroke="#379f37" stroke-width="0.8" stroke-linejoin="round"/>
<circle cx="253.55" cy="320.21" r="1.45" fill="#379f37"/>
<circle cx="273.88" cy="336.75" r="1.45" fill="#379f37"/>
<circle cx="294.22" cy="350.05" r="1.45" fill="#379f37"/>
<circle cx="314.55" cy="360.57" r="1.45" fill="#379f37"/>
<circle cx="334.88" cy="365.43" r="1.45" fill="#379f37"/>
<circle cx="355.22" cy="368.67" r="1.45" fill="#379f37"/>
<polyline points="253.55,327.96 273.88,341.26 294.22,354.21 314.55,362.66 334.88,368.67 355.22,372.83 375.55,375.26 395.88,376.65" fill="none" stroke="#ce3031" stroke-width="0.8" stroke-linejoin="round"/>
<circle cx="253.55" cy="327.96" r="1.45" fill="#ce3031"/>
<circle cx="273.88" cy="341.26" r="1.45" fill="#ce3031"/>
<circle cx="294.22" cy="354.21" r="1.45" fill="#ce3031"/>
<circle cx="314.55" cy="362.66" r="1.45" fill="#ce3031"/>
<circle cx="334.88" cy="368.67" r="1.45" fill="#ce3031"/>
<circle cx="355.22" cy="372.83" r="1.45" fill="#ce3031"/>
<circle cx="375.55" cy="375.26" r="1.45" fill="#ce3031"/>
<circle cx="395.88" cy="376.65" r="1.45" fill="#ce3031"/>
<polyline points="253.55,330.04 273.88,342.76 294.22,354.21 314.55,363.00 334.88,368.67 355.22,373.18 375.55,376.42 395.88,378.39 416.22,379.43 436.55,380.12" fill="none" stroke="#966dbb" stroke-width="0.8" stroke-linejoin="round"/>
<circle cx="253.55" cy="330.04" r="1.45" fill="#966dbb"/>
<circle cx="273.88" cy="342.76" r="1.45" fill="#966dbb"/>
<circle cx="294.22" cy="354.21" r="1.45" fill="#966dbb"/>
<circle cx="314.55" cy="363.00" r="1.45" fill="#966dbb"/>
<circle cx="334.88" cy="368.67" r="1.45" fill="#966dbb"/>
<circle cx="355.22" cy="373.18" r="1.45" fill="#966dbb"/>
<circle cx="375.55" cy="376.42" r="1.45" fill="#966dbb"/>
<circle cx="395.88" cy="378.39" r="1.45" fill="#966dbb"/>
<circle cx="416.22" cy="379.43" r="1.45" fill="#966dbb"/>
<circle cx="436.55" cy="380.12" r="1.45" fill="#966dbb"/>
<text x="345.05" y="407.50" font-size="8.6" text-anchor="middle" fill="#1a1a1a" stroke="#1a1a1a" stroke-width="0.25" font-family='"Liberation Sans", sans-serif'>&#916;<tspan font-style="italic">T</tspan></text>
<rect x="405.00" y="255.40" width="37.60" height="51.70" rx="1.6" fill="#fff" fill-opacity="0.85" stroke="#e2e2e2" stroke-width="0.6"/>
<line x1="407.00" y1="260.60" x2="421.70" y2="260.60" stroke="#2a79b0" stroke-width="1.1" stroke-opacity="0.6"/>
<circle cx="414.35" cy="260.60" r="1.3" fill="#2a79b0"/>
<text x="427.00" y="263.15" font-size="7.30" text-anchor="start" fill="#1a1a1a" font-weight="normal" font-family='"Liberation Sans", sans-serif' stroke="#1a1a1a" stroke-width="0.20">2x</text>
<line x1="407.00" y1="270.77" x2="421.70" y2="270.77" stroke="#f98620" stroke-width="1.1" stroke-opacity="0.6"/>
<circle cx="414.35" cy="270.77" r="1.3" fill="#f98620"/>
<text x="427.00" y="273.32" font-size="7.30" text-anchor="start" fill="#1a1a1a" font-weight="normal" font-family='"Liberation Sans", sans-serif' stroke="#1a1a1a" stroke-width="0.20">4x</text>
<line x1="407.00" y1="280.94" x2="421.70" y2="280.94" stroke="#379f37" stroke-width="1.1" stroke-opacity="0.6"/>
<circle cx="414.35" cy="280.94" r="1.3" fill="#379f37"/>
<text x="427.00" y="283.49" font-size="7.30" text-anchor="start" fill="#1a1a1a" font-weight="normal" font-family='"Liberation Sans", sans-serif' stroke="#1a1a1a" stroke-width="0.20">6x</text>
<line x1="407.00" y1="291.11" x2="421.70" y2="291.11" stroke="#ce3031" stroke-width="1.1" stroke-opacity="0.6"/>
<circle cx="414.35" cy="291.11" r="1.3" fill="#ce3031"/>
<text x="427.00" y="293.66" font-size="7.30" text-anchor="start" fill="#1a1a1a" font-weight="normal" font-family='"Liberation Sans", sans-serif' stroke="#1a1a1a" stroke-width="0.20">8x</text>
<line x1="407.00" y1="301.28" x2="421.70" y2="301.28" stroke="#966dbb" stroke-width="1.1" stroke-opacity="0.6"/>
<circle cx="414.35" cy="301.28" r="1.3" fill="#966dbb"/>
<text x="427.00" y="303.83" font-size="7.30" text-anchor="start" fill="#1a1a1a" font-weight="normal" font-family='"Liberation Sans", sans-serif' stroke="#1a1a1a" stroke-width="0.20">10x</text>
<rect x="476.50" y="251.50" width="201.10" height="138.80" fill="none" stroke="#b4b4b4" stroke-width="1.2"/>
<line x1="485.64" y1="390.30" x2="485.64" y2="392.10" stroke="#666" stroke-width="0.7"/>
<text x="485.64" y="398.20" font-size="7.20" text-anchor="middle" fill="#1a1a1a" font-weight="normal" font-family='"Liberation Sans", sans-serif' stroke="#1a1a1a" stroke-width="0.20">0</text>
<line x1="505.95" y1="390.30" x2="505.95" y2="392.10" stroke="#666" stroke-width="0.7"/>
<text x="505.95" y="398.20" font-size="7.20" text-anchor="middle" fill="#1a1a1a" font-weight="normal" font-family='"Liberation Sans", sans-serif' stroke="#1a1a1a" stroke-width="0.20">1</text>
<line x1="526.27" y1="390.30" x2="526.27" y2="392.10" stroke="#666" stroke-width="0.7"/>
<text x="526.27" y="398.20" font-size="7.20" text-anchor="middle" fill="#1a1a1a" font-weight="normal" font-family='"Liberation Sans", sans-serif' stroke="#1a1a1a" stroke-width="0.20">2</text>
<line x1="546.58" y1="390.30" x2="546.58" y2="392.10" stroke="#666" stroke-width="0.7"/>
<text x="546.58" y="398.20" font-size="7.20" text-anchor="middle" fill="#1a1a1a" font-weight="normal" font-family='"Liberation Sans", sans-serif' stroke="#1a1a1a" stroke-width="0.20">3</text>
<line x1="566.89" y1="390.30" x2="566.89" y2="392.10" stroke="#666" stroke-width="0.7"/>
<text x="566.89" y="398.20" font-size="7.20" text-anchor="middle" fill="#1a1a1a" font-weight="normal" font-family='"Liberation Sans", sans-serif' stroke="#1a1a1a" stroke-width="0.20">4</text>
<line x1="587.21" y1="390.30" x2="587.21" y2="392.10" stroke="#666" stroke-width="0.7"/>
<text x="587.21" y="398.20" font-size="7.20" text-anchor="middle" fill="#1a1a1a" font-weight="normal" font-family='"Liberation Sans", sans-serif' stroke="#1a1a1a" stroke-width="0.20">5</text>
<line x1="607.52" y1="390.30" x2="607.52" y2="392.10" stroke="#666" stroke-width="0.7"/>
<text x="607.52" y="398.20" font-size="7.20" text-anchor="middle" fill="#1a1a1a" font-weight="normal" font-family='"Liberation Sans", sans-serif' stroke="#1a1a1a" stroke-width="0.20">6</text>
<line x1="627.83" y1="390.30" x2="627.83" y2="392.10" stroke="#666" stroke-width="0.7"/>
<text x="627.83" y="398.20" font-size="7.20" text-anchor="middle" fill="#1a1a1a" font-weight="normal" font-family='"Liberation Sans", sans-serif' stroke="#1a1a1a" stroke-width="0.20">7</text>
<line x1="648.15" y1="390.30" x2="648.15" y2="392.10" stroke="#666" stroke-width="0.7"/>
<text x="648.15" y="398.20" font-size="7.20" text-anchor="middle" fill="#1a1a1a" font-weight="normal" font-family='"Liberation Sans", sans-serif' stroke="#1a1a1a" stroke-width="0.20">8</text>
<line x1="668.46" y1="390.30" x2="668.46" y2="392.10" stroke="#666" stroke-width="0.7"/>
<text x="668.46" y="398.20" font-size="7.20" text-anchor="middle" fill="#1a1a1a" font-weight="normal" font-family='"Liberation Sans", sans-serif' stroke="#1a1a1a" stroke-width="0.20">9</text>
<line x1="474.70" y1="378.73" x2="476.50" y2="378.73" stroke="#666" stroke-width="0.7"/>
<text x="473.30" y="381.28" font-size="7.20" text-anchor="end" fill="#1a1a1a" font-weight="normal" font-family='"Liberation Sans", sans-serif' stroke="#1a1a1a" stroke-width="0.20">16</text>
<line x1="474.70" y1="355.60" x2="476.50" y2="355.60" stroke="#666" stroke-width="0.7"/>
<text x="473.30" y="358.15" font-size="7.20" text-anchor="end" fill="#1a1a1a" font-weight="normal" font-family='"Liberation Sans", sans-serif' stroke="#1a1a1a" stroke-width="0.20">18</text>
<line x1="474.70" y1="332.47" x2="476.50" y2="332.47" stroke="#666" stroke-width="0.7"/>
<text x="473.30" y="335.02" font-size="7.20" text-anchor="end" fill="#1a1a1a" font-weight="normal" font-family='"Liberation Sans", sans-serif' stroke="#1a1a1a" stroke-width="0.20">20</text>
<line x1="474.70" y1="309.33" x2="476.50" y2="309.33" stroke="#666" stroke-width="0.7"/>
<text x="473.30" y="311.88" font-size="7.20" text-anchor="end" fill="#1a1a1a" font-weight="normal" font-family='"Liberation Sans", sans-serif' stroke="#1a1a1a" stroke-width="0.20">22</text>
<line x1="474.70" y1="286.20" x2="476.50" y2="286.20" stroke="#666" stroke-width="0.7"/>
<text x="473.30" y="288.75" font-size="7.20" text-anchor="end" fill="#1a1a1a" font-weight="normal" font-family='"Liberation Sans", sans-serif' stroke="#1a1a1a" stroke-width="0.20">24</text>
<line x1="474.70" y1="263.07" x2="476.50" y2="263.07" stroke="#666" stroke-width="0.7"/>
<text x="473.30" y="265.62" font-size="7.20" text-anchor="end" fill="#1a1a1a" font-weight="normal" font-family='"Liberation Sans", sans-serif' stroke="#1a1a1a" stroke-width="0.20">26</text>
<polyline points="485.64,261.68 505.95,322.75" fill="none" stroke="#2a79b0" stroke-width="0.8" stroke-linejoin="round"/>
<circle cx="485.64" cy="261.68" r="1.45" fill="#2a79b0"/>
<circle cx="505.95" cy="322.75" r="1.45" fill="#2a79b0"/>
<polyline points="485.64,278.22 505.95,322.75 526.27,344.15 546.58,354.67" fill="none" stroke="#f98620" stroke-width="0.8" stroke-linejoin="round"/>
<circle cx="485.64" cy="278.22" r="1.45" fill="#f98620"/>
<circle cx="505.95" cy="322.75" r="1.45" fill="#f98620"/>
<circle cx="526.27" cy="344.15" r="1.45" fill="#f98620"/>
<circle cx="546.58" cy="354.67" r="1.45" fill="#f98620"/>
<polyline points="485.64,285.16 505.95,323.68 526.27,344.61 546.58,356.29 566.89,363.35 587.21,366.82" fill="none" stroke="#379f37" stroke-width="0.8" stroke-linejoin="round"/>
<circle cx="485.64" cy="285.16" r="1.45" fill="#379f37"/>
<circle cx="505.95" cy="323.68" r="1.45" fill="#379f37"/>
<circle cx="526.27" cy="344.61" r="1.45" fill="#379f37"/>
<circle cx="546.58" cy="356.29" r="1.45" fill="#379f37"/>
<circle cx="566.89" cy="363.35" r="1.45" fill="#379f37"/>
<circle cx="587.21" cy="366.82" r="1.45" fill="#379f37"/>
<polyline points="485.64,291.52 505.95,325.53 526.27,346.46 546.58,358.38 566.89,366.47 587.21,371.45 607.52,374.57 627.83,376.30" fill="none" stroke="#ce3031" stroke-width="0.8" stroke-linejoin="round"/>
<circle cx="485.64" cy="291.52" r="1.45" fill="#ce3031"/>
<circle cx="505.95" cy="325.53" r="1.45" fill="#ce3031"/>
<circle cx="526.27" cy="346.46" r="1.45" fill="#ce3031"/>
<circle cx="546.58" cy="358.38" r="1.45" fill="#ce3031"/>
<circle cx="566.89" cy="366.47" r="1.45" fill="#ce3031"/>
<circle cx="587.21" cy="371.45" r="1.45" fill="#ce3031"/>
<circle cx="607.52" cy="374.57" r="1.45" fill="#ce3031"/>
<circle cx="627.83" cy="376.30" r="1.45" fill="#ce3031"/>
<polyline points="485.64,294.99 505.95,326.45 526.27,345.77 546.58,357.45 566.89,365.43 587.21,370.75 607.52,373.88 627.83,375.96 648.15,377.69 668.46,378.39" fill="none" stroke="#966dbb" stroke-width="0.8" stroke-linejoin="round"/>
<circle cx="485.64" cy="294.99" r="1.45" fill="#966dbb"/>
<circle cx="505.95" cy="326.45" r="1.45" fill="#966dbb"/>
<circle cx="526.27" cy="345.77" r="1.45" fill="#966dbb"/>
<circle cx="546.58" cy="357.45" r="1.45" fill="#966dbb"/>
<circle cx="566.89" cy="365.43" r="1.45" fill="#966dbb"/>
<circle cx="587.21" cy="370.75" r="1.45" fill="#966dbb"/>
<circle cx="607.52" cy="373.88" r="1.45" fill="#966dbb"/>
<circle cx="627.83" cy="375.96" r="1.45" fill="#966dbb"/>
<circle cx="648.15" cy="377.69" r="1.45" fill="#966dbb"/>
<circle cx="668.46" cy="378.39" r="1.45" fill="#966dbb"/>
<text x="577.05" y="407.50" font-size="8.6" text-anchor="middle" fill="#1a1a1a" stroke="#1a1a1a" stroke-width="0.25" font-family='"Liberation Sans", sans-serif'>&#916;<tspan font-style="italic">T</tspan></text>
<rect x="636.80" y="255.40" width="37.60" height="51.70" rx="1.6" fill="#fff" fill-opacity="0.85" stroke="#e2e2e2" stroke-width="0.6"/>
<line x1="638.80" y1="260.60" x2="653.50" y2="260.60" stroke="#2a79b0" stroke-width="1.1" stroke-opacity="0.6"/>
<circle cx="646.15" cy="260.60" r="1.3" fill="#2a79b0"/>
<text x="658.80" y="263.15" font-size="7.30" text-anchor="start" fill="#1a1a1a" font-weight="normal" font-family='"Liberation Sans", sans-serif' stroke="#1a1a1a" stroke-width="0.20">2x</text>
<line x1="638.80" y1="270.77" x2="653.50" y2="270.77" stroke="#f98620" stroke-width="1.1" stroke-opacity="0.6"/>
<circle cx="646.15" cy="270.77" r="1.3" fill="#f98620"/>
<text x="658.80" y="273.32" font-size="7.30" text-anchor="start" fill="#1a1a1a" font-weight="normal" font-family='"Liberation Sans", sans-serif' stroke="#1a1a1a" stroke-width="0.20">4x</text>
<line x1="638.80" y1="280.94" x2="653.50" y2="280.94" stroke="#379f37" stroke-width="1.1" stroke-opacity="0.6"/>
<circle cx="646.15" cy="280.94" r="1.3" fill="#379f37"/>
<text x="658.80" y="283.49" font-size="7.30" text-anchor="start" fill="#1a1a1a" font-weight="normal" font-family='"Liberation Sans", sans-serif' stroke="#1a1a1a" stroke-width="0.20">6x</text>
<line x1="638.80" y1="291.11" x2="653.50" y2="291.11" stroke="#ce3031" stroke-width="1.1" stroke-opacity="0.6"/>
<circle cx="646.15" cy="291.11" r="1.3" fill="#ce3031"/>
<text x="658.80" y="293.66" font-size="7.30" text-anchor="start" fill="#1a1a1a" font-weight="normal" font-family='"Liberation Sans", sans-serif' stroke="#1a1a1a" stroke-width="0.20">8x</text>
<line x1="638.80" y1="301.28" x2="653.50" y2="301.28" stroke="#966dbb" stroke-width="1.1" stroke-opacity="0.6"/>
<circle cx="646.15" cy="301.28" r="1.3" fill="#966dbb"/>
<text x="658.80" y="303.83" font-size="7.30" text-anchor="start" fill="#1a1a1a" font-weight="normal" font-family='"Liberation Sans", sans-serif' stroke="#1a1a1a" stroke-width="0.20">10x</text>
<rect x="23.70" y="425.10" width="190.00" height="136.20" fill="none" stroke="#b4b4b4" stroke-width="1.2"/>
<line x1="32.34" y1="561.30" x2="32.34" y2="563.10" stroke="#666" stroke-width="0.7"/>
<text x="32.34" y="569.20" font-size="7.20" text-anchor="middle" fill="#1a1a1a" font-weight="normal" font-family='"Liberation Sans", sans-serif' stroke="#1a1a1a" stroke-width="0.20">0</text>
<line x1="51.53" y1="561.30" x2="51.53" y2="563.10" stroke="#666" stroke-width="0.7"/>
<text x="51.53" y="569.20" font-size="7.20" text-anchor="middle" fill="#1a1a1a" font-weight="normal" font-family='"Liberation Sans", sans-serif' stroke="#1a1a1a" stroke-width="0.20">1</text>
<line x1="70.72" y1="561.30" x2="70.72" y2="563.10" stroke="#666" stroke-width="0.7"/>
<text x="70.72" y="569.20" font-size="7.20" text-anchor="middle" fill="#1a1a1a" font-weight="normal" font-family='"Liberation Sans", sans-serif' stroke="#1a1a1a" stroke-width="0.20">2</text>
<line x1="89.91" y1="561.30" x2="89.91" y2="563.10" stroke="#666" stroke-width="0.7"/>
<text x="89.91" y="569.20" font-size="7.20" text-anchor="middle" fill="#1a1a1a" font-weight="normal" font-family='"Liberation Sans", sans-serif' stroke="#1a1a1a" stroke-width="0.20">3</text>
<line x1="109.10" y1="561.30" x2="109.10" y2="563.10" stroke="#666" stroke-width="0.7"/>
<text x="109.10" y="569.20" font-size="7.20" text-anchor="middle" fill="#1a1a1a" font-weight="normal" font-family='"Liberation Sans", sans-serif' stroke="#1a1a1a" stroke-width="0.20">4</text>
<line x1="128.30" y1="561.30" x2="128.30" y2="563.10" stroke="#666" stroke-width="0.7"/>
<text x="128.30" y="569.20" font-size="7.20" text-anchor="middle" fill="#1a1a1a" font-weight="normal" font-family='"Liberation Sans", sans-serif' stroke="#1a1a1a" stroke-width="0.20">5</text>
<line x1="147.49" y1="561.30" x2="147.49" y2="563.10" stroke="#666" stroke-width="0.7"/>
<text x="147.49" y="569.20" font-size="7.20" text-anchor="middle" fill="#1a1a1a" font-weight="normal" font-family='"Liberation Sans", sans-serif' stroke="#1a1a1a" stroke-width="0.20">6</text>
<line x1="166.68" y1="561.30" x2="166.68" y2="563.10" stroke="#666" stroke-width="0.7"/>
<text x="166.68" y="569.20" font-size="7.20" text-anchor="middle" fill="#1a1a1a" font-weight="normal" font-family='"Liberation Sans", sans-serif' stroke="#1a1a1a" stroke-width="0.20">7</text>
<line x1="185.87" y1="561.30" x2="185.87" y2="563.10" stroke="#666" stroke-width="0.7"/>
<text x="185.87" y="569.20" font-size="7.20" text-anchor="middle" fill="#1a1a1a" font-weight="normal" font-family='"Liberation Sans", sans-serif' stroke="#1a1a1a" stroke-width="0.20">8</text>
<line x1="205.06" y1="561.30" x2="205.06" y2="563.10" stroke="#666" stroke-width="0.7"/>
<text x="205.06" y="569.20" font-size="7.20" text-anchor="middle" fill="#1a1a1a" font-weight="normal" font-family='"Liberation Sans", sans-serif' stroke="#1a1a1a" stroke-width="0.20">9</text>
<line x1="21.90" y1="561.30" x2="23.70" y2="561.30" stroke="#666" stroke-width="0.7"/>
<text x="20.50" y="563.85" font-size="7.20" text-anchor="end" fill="#1a1a1a" font-weight="normal" font-family='"Liberation Sans", sans-serif' stroke="#1a1a1a" stroke-width="0.20">0.2</text>
<line x1="21.90" y1="534.06" x2="23.70" y2="534.06" stroke="#666" stroke-width="0.7"/>
<text x="20.50" y="536.61" font-size="7.20" text-anchor="end" fill="#1a1a1a" font-weight="normal" font-family='"Liberation Sans", sans-serif' stroke="#1a1a1a" stroke-width="0.20">0.3</text>
<line x1="21.90" y1="506.82" x2="23.70" y2="506.82" stroke="#666" stroke-width="0.7"/>
<text x="20.50" y="509.37" font-size="7.20" text-anchor="end" fill="#1a1a1a" font-weight="normal" font-family='"Liberation Sans", sans-serif' stroke="#1a1a1a" stroke-width="0.20">0.4</text>
<line x1="21.90" y1="479.58" x2="23.70" y2="479.58" stroke="#666" stroke-width="0.7"/>
<text x="20.50" y="482.13" font-size="7.20" text-anchor="end" fill="#1a1a1a" font-weight="normal" font-family='"Liberation Sans", sans-serif' stroke="#1a1a1a" stroke-width="0.20">0.5</text>
<line x1="21.90" y1="452.34" x2="23.70" y2="452.34" stroke="#666" stroke-width="0.7"/>
<text x="20.50" y="454.89" font-size="7.20" text-anchor="end" fill="#1a1a1a" font-weight="normal" font-family='"Liberation Sans", sans-serif' stroke="#1a1a1a" stroke-width="0.20">0.6</text>
<line x1="21.90" y1="425.10" x2="23.70" y2="425.10" stroke="#666" stroke-width="0.7"/>
<text x="20.50" y="427.65" font-size="7.20" text-anchor="end" fill="#1a1a1a" font-weight="normal" font-family='"Liberation Sans", sans-serif' stroke="#1a1a1a" stroke-width="0.20">0.7</text>
<polyline points="32.34,490.48 51.53,516.90" fill="none" stroke="#2a79b0" stroke-width="0.8" stroke-linejoin="round"/>
<path d="M32.34 488.68L33.99 491.58L30.69 491.58Z" fill="#2a79b0"/>
<path d="M51.53 515.10L53.18 518.00L49.88 518.00Z" fill="#2a79b0"/>
<polyline points="32.34,512.81 51.53,524.25 70.72,531.34 89.91,535.69" fill="none" stroke="#f98620" stroke-width="0.8" stroke-linejoin="round"/>
<path d="M32.34 511.01L33.99 513.91L30.69 513.91Z" fill="#f98620"/>
<path d="M51.53 522.45L53.18 525.35L49.88 525.35Z" fill="#f98620"/>
<path d="M70.72 529.54L72.37 532.44L69.07 532.44Z" fill="#f98620"/>
<path d="M89.91 533.89L91.56 536.79L88.26 536.79Z" fill="#f98620"/>
<polyline points="32.34,521.53 51.53,528.34 70.72,534.33 89.91,538.15 109.10,540.05 128.30,541.69" fill="none" stroke="#379f37" stroke-width="0.8" stroke-linejoin="round"/>
<path d="M32.34 519.73L33.99 522.63L30.69 522.63Z" fill="#379f37"/>
<path d="M51.53 526.54L53.18 529.44L49.88 529.44Z" fill="#379f37"/>
<path d="M70.72 532.53L72.37 535.43L69.07 535.43Z" fill="#379f37"/>
<path d="M89.91 536.35L91.56 539.25L88.26 539.25Z" fill="#379f37"/>
<path d="M109.10 538.25L110.75 541.15L107.45 541.15Z" fill="#379f37"/>
<path d="M128.30 539.89L129.95 542.79L126.65 542.79Z" fill="#379f37"/>
<polyline points="32.34,529.43 51.53,532.43 70.72,536.78 89.91,539.51 109.10,541.69 128.30,543.59 147.49,544.96 166.68,545.50" fill="none" stroke="#ce3031" stroke-width="0.8" stroke-linejoin="round"/>
<path d="M32.34 527.63L33.99 530.53L30.69 530.53Z" fill="#ce3031"/>
<path d="M51.53 530.63L53.18 533.53L49.88 533.53Z" fill="#ce3031"/>
<path d="M70.72 534.98L72.37 537.88L69.07 537.88Z" fill="#ce3031"/>
<path d="M89.91 537.71L91.56 540.61L88.26 540.61Z" fill="#ce3031"/>
<path d="M109.10 539.89L110.75 542.79L107.45 542.79Z" fill="#ce3031"/>
<path d="M128.30 541.79L129.95 544.69L126.65 544.69Z" fill="#ce3031"/>
<path d="M147.49 543.16L149.14 546.06L145.84 546.06Z" fill="#ce3031"/>
<path d="M166.68 543.70L168.33 546.60L165.03 546.60Z" fill="#ce3031"/>
<polyline points="32.34,534.88 51.53,535.15 70.72,538.42 89.91,541.14 109.10,542.78 128.30,544.41 147.49,545.50 166.68,546.32 185.87,546.86 205.06,546.86" fill="none" stroke="#966dbb" stroke-width="0.8" stroke-linejoin="round"/>
<path d="M32.34 533.08L33.99 535.98L30.69 535.98Z" fill="#966dbb"/>
<path d="M51.53 533.35L53.18 536.25L49.88 536.25Z" fill="#966dbb"/>
<path d="M70.72 536.62L72.37 539.52L69.07 539.52Z" fill="#966dbb"/>
<path d="M89.91 539.34L91.56 542.24L88.26 542.24Z" fill="#966dbb"/>
<path d="M109.10 540.98L110.75 543.88L107.45 543.88Z" fill="#966dbb"/>
<path d="M128.30 542.61L129.95 545.51L126.65 545.51Z" fill="#966dbb"/>
<path d="M147.49 543.70L149.14 546.60L145.84 546.60Z" fill="#966dbb"/>
<path d="M166.68 544.52L168.33 547.42L165.03 547.42Z" fill="#966dbb"/>
<path d="M185.87 545.06L187.52 547.96L184.22 547.96Z" fill="#966dbb"/>
<path d="M205.06 545.06L206.71 547.96L203.41 547.96Z" fill="#966dbb"/>
<text x="118.70" y="578.50" font-size="8.6" text-anchor="middle" fill="#1a1a1a" stroke="#1a1a1a" stroke-width="0.25" font-family='"Liberation Sans", sans-serif'>&#916;<tspan font-style="italic">T</tspan></text>
<text x="7.88" y="493.20" font-size="8.00" text-anchor="middle" fill="#1a1a1a" font-weight="normal" font-family='"Liberation Sans", sans-serif' transform="rotate(-90 7.88 493.2)" textLength="17.60" lengthAdjust="spacingAndGlyphs" stroke="#1a1a1a" stroke-width="0.26">SSIM</text>
<rect x="172.80" y="428.20" width="37.70" height="53.00" rx="1.6" fill="#fff" fill-opacity="0.85" stroke="#e2e2e2" stroke-width="0.6"/>
<line x1="174.90" y1="433.90" x2="189.50" y2="433.90" stroke="#2a79b0" stroke-width="1.1" stroke-opacity="0.6"/>
<path d="M182.20 432.10L183.85 435.00L180.55 435.00Z" fill="#2a79b0"/>
<text x="195.30" y="436.45" font-size="7.30" text-anchor="start" fill="#1a1a1a" font-weight="normal" font-family='"Liberation Sans", sans-serif' stroke="#1a1a1a" stroke-width="0.20">2x</text>
<line x1="174.90" y1="444.05" x2="189.50" y2="444.05" stroke="#f98620" stroke-width="1.1" stroke-opacity="0.6"/>
<path d="M182.20 442.25L183.85 445.15L180.55 445.15Z" fill="#f98620"/>
<text x="195.30" y="446.60" font-size="7.30" text-anchor="start" fill="#1a1a1a" font-weight="normal" font-family='"Liberation Sans", sans-serif' stroke="#1a1a1a" stroke-width="0.20">4x</text>
<line x1="174.90" y1="454.20" x2="189.50" y2="454.20" stroke="#379f37" stroke-width="1.1" stroke-opacity="0.6"/>
<path d="M182.20 452.40L183.85 455.30L180.55 455.30Z" fill="#379f37"/>
<text x="195.30" y="456.75" font-size="7.30" text-anchor="start" fill="#1a1a1a" font-weight="normal" font-family='"Liberation Sans", sans-serif' stroke="#1a1a1a" stroke-width="0.20">6x</text>
<line x1="174.90" y1="464.35" x2="189.50" y2="464.35" stroke="#ce3031" stroke-width="1.1" stroke-opacity="0.6"/>
<path d="M182.20 462.55L183.85 465.45L180.55 465.45Z" fill="#ce3031"/>
<text x="195.30" y="466.90" font-size="7.30" text-anchor="start" fill="#1a1a1a" font-weight="normal" font-family='"Liberation Sans", sans-serif' stroke="#1a1a1a" stroke-width="0.20">8x</text>
<line x1="174.90" y1="474.50" x2="189.50" y2="474.50" stroke="#966dbb" stroke-width="1.1" stroke-opacity="0.6"/>
<path d="M182.20 472.70L183.85 475.60L180.55 475.60Z" fill="#966dbb"/>
<text x="195.30" y="477.05" font-size="7.30" text-anchor="start" fill="#1a1a1a" font-weight="normal" font-family='"Liberation Sans", sans-serif' stroke="#1a1a1a" stroke-width="0.20">10x</text>
<rect x="246.50" y="425.10" width="199.10" height="136.30" fill="none" stroke="#b4b4b4" stroke-width="1.2"/>
<line x1="255.55" y1="561.40" x2="255.55" y2="563.20" stroke="#666" stroke-width="0.7"/>
<text x="255.55" y="569.30" font-size="7.20" text-anchor="middle" fill="#1a1a1a" font-weight="normal" font-family='"Liberation Sans", sans-serif' stroke="#1a1a1a" stroke-width="0.20">0</text>
<line x1="275.66" y1="561.40" x2="275.66" y2="563.20" stroke="#666" stroke-width="0.7"/>
<text x="275.66" y="569.30" font-size="7.20" text-anchor="middle" fill="#1a1a1a" font-weight="normal" font-family='"Liberation Sans", sans-serif' stroke="#1a1a1a" stroke-width="0.20">1</text>
<line x1="295.77" y1="561.40" x2="295.77" y2="563.20" stroke="#666" stroke-width="0.7"/>
<text x="295.77" y="569.30" font-size="7.20" text-anchor="middle" fill="#1a1a1a" font-weight="normal" font-family='"Liberation Sans", sans-serif' stroke="#1a1a1a" stroke-width="0.20">2</text>
<line x1="315.88" y1="561.40" x2="315.88" y2="563.20" stroke="#666" stroke-width="0.7"/>
<text x="315.88" y="569.30" font-size="7.20" text-anchor="middle" fill="#1a1a1a" font-weight="normal" font-family='"Liberation Sans", sans-serif' stroke="#1a1a1a" stroke-width="0.20">3</text>
<line x1="335.99" y1="561.40" x2="335.99" y2="563.20" stroke="#666" stroke-width="0.7"/>
<text x="335.99" y="569.30" font-size="7.20" text-anchor="middle" fill="#1a1a1a" font-weight="normal" font-family='"Liberation Sans", sans-serif' stroke="#1a1a1a" stroke-width="0.20">4</text>
<line x1="356.11" y1="561.40" x2="356.11" y2="563.20" stroke="#666" stroke-width="0.7"/>
<text x="356.11" y="569.30" font-size="7.20" text-anchor="middle" fill="#1a1a1a" font-weight="normal" font-family='"Liberation Sans", sans-serif' stroke="#1a1a1a" stroke-width="0.20">5</text>
<line x1="376.22" y1="561.40" x2="376.22" y2="563.20" stroke="#666" stroke-width="0.7"/>
<text x="376.22" y="569.30" font-size="7.20" text-anchor="middle" fill="#1a1a1a" font-weight="normal" font-family='"Liberation Sans", sans-serif' stroke="#1a1a1a" stroke-width="0.20">6</text>
<line x1="396.33" y1="561.40" x2="396.33" y2="563.20" stroke="#666" stroke-width="0.7"/>
<text x="396.33" y="569.30" font-size="7.20" text-anchor="middle" fill="#1a1a1a" font-weight="normal" font-family='"Liberation Sans", sans-serif' stroke="#1a1a1a" stroke-width="0.20">7</text>
<line x1="416.44" y1="561.40" x2="416.44" y2="563.20" stroke="#666" stroke-width="0.7"/>
<text x="416.44" y="569.30" font-size="7.20" text-anchor="middle" fill="#1a1a1a" font-weight="normal" font-family='"Liberation Sans", sans-serif' stroke="#1a1a1a" stroke-width="0.20">8</text>
<line x1="436.55" y1="561.40" x2="436.55" y2="563.20" stroke="#666" stroke-width="0.7"/>
<text x="436.55" y="569.30" font-size="7.20" text-anchor="middle" fill="#1a1a1a" font-weight="normal" font-family='"Liberation Sans", sans-serif' stroke="#1a1a1a" stroke-width="0.20">9</text>
<line x1="244.70" y1="561.40" x2="246.50" y2="561.40" stroke="#666" stroke-width="0.7"/>
<text x="243.30" y="563.95" font-size="7.20" text-anchor="end" fill="#1a1a1a" font-weight="normal" font-family='"Liberation Sans", sans-serif' stroke="#1a1a1a" stroke-width="0.20">0.2</text>
<line x1="244.70" y1="534.14" x2="246.50" y2="534.14" stroke="#666" stroke-width="0.7"/>
<text x="243.30" y="536.69" font-size="7.20" text-anchor="end" fill="#1a1a1a" font-weight="normal" font-family='"Liberation Sans", sans-serif' stroke="#1a1a1a" stroke-width="0.20">0.3</text>
<line x1="244.70" y1="506.88" x2="246.50" y2="506.88" stroke="#666" stroke-width="0.7"/>
<text x="243.30" y="509.43" font-size="7.20" text-anchor="end" fill="#1a1a1a" font-weight="normal" font-family='"Liberation Sans", sans-serif' stroke="#1a1a1a" stroke-width="0.20">0.4</text>
<line x1="244.70" y1="479.62" x2="246.50" y2="479.62" stroke="#666" stroke-width="0.7"/>
<text x="243.30" y="482.17" font-size="7.20" text-anchor="end" fill="#1a1a1a" font-weight="normal" font-family='"Liberation Sans", sans-serif' stroke="#1a1a1a" stroke-width="0.20">0.5</text>
<line x1="244.70" y1="452.36" x2="246.50" y2="452.36" stroke="#666" stroke-width="0.7"/>
<text x="243.30" y="454.91" font-size="7.20" text-anchor="end" fill="#1a1a1a" font-weight="normal" font-family='"Liberation Sans", sans-serif' stroke="#1a1a1a" stroke-width="0.20">0.6</text>
<line x1="244.70" y1="425.10" x2="246.50" y2="425.10" stroke="#666" stroke-width="0.7"/>
<text x="243.30" y="427.65" font-size="7.20" text-anchor="end" fill="#1a1a1a" font-weight="normal" font-family='"Liberation Sans", sans-serif' stroke="#1a1a1a" stroke-width="0.20">0.7</text>
<polyline points="255.55,456.31 275.66,501.16" fill="none" stroke="#2a79b0" stroke-width="0.8" stroke-linejoin="round"/>
<path d="M255.55 454.51L257.20 457.41L253.90 457.41Z" fill="#2a79b0"/>
<path d="M275.66 499.36L277.31 502.26L274.01 502.26Z" fill="#2a79b0"/>
<polyline points="255.55,474.44 275.66,495.70 295.77,510.97 315.88,518.33" fill="none" stroke="#f98620" stroke-width="0.8" stroke-linejoin="round"/>
<path d="M255.55 472.64L257.20 475.54L253.90 475.54Z" fill="#f98620"/>
<path d="M275.66 493.90L277.31 496.80L274.01 496.80Z" fill="#f98620"/>
<path d="M295.77 509.17L297.42 512.07L294.12 512.07Z" fill="#f98620"/>
<path d="M315.88 516.53L317.53 519.43L314.23 519.43Z" fill="#f98620"/>
<polyline points="255.55,490.25 275.66,502.79 295.77,512.88 315.88,519.69 335.99,523.51 356.11,525.69" fill="none" stroke="#379f37" stroke-width="0.8" stroke-linejoin="round"/>
<path d="M255.55 488.45L257.20 491.35L253.90 491.35Z" fill="#379f37"/>
<path d="M275.66 500.99L277.31 503.89L274.01 503.89Z" fill="#379f37"/>
<path d="M295.77 511.08L297.42 513.98L294.12 513.98Z" fill="#379f37"/>
<path d="M315.88 517.89L317.53 520.79L314.23 520.79Z" fill="#379f37"/>
<path d="M335.99 521.71L337.64 524.61L334.34 524.61Z" fill="#379f37"/>
<path d="M356.11 523.89L357.76 526.79L354.46 526.79Z" fill="#379f37"/>
<polyline points="255.55,495.70 275.66,506.33 295.77,515.06 315.88,520.78 335.99,524.60 356.11,527.05 376.22,529.23 396.33,530.32" fill="none" stroke="#ce3031" stroke-width="0.8" stroke-linejoin="round"/>
<path d="M255.55 493.90L257.20 496.80L253.90 496.80Z" fill="#ce3031"/>
<path d="M275.66 504.53L277.31 507.43L274.01 507.43Z" fill="#ce3031"/>
<path d="M295.77 513.26L297.42 516.16L294.12 516.16Z" fill="#ce3031"/>
<path d="M315.88 518.98L317.53 521.88L314.23 521.88Z" fill="#ce3031"/>
<path d="M335.99 522.80L337.64 525.70L334.34 525.70Z" fill="#ce3031"/>
<path d="M356.11 525.25L357.76 528.15L354.46 528.15Z" fill="#ce3031"/>
<path d="M376.22 527.43L377.87 530.33L374.57 530.33Z" fill="#ce3031"/>
<path d="M396.33 528.52L397.98 531.42L394.68 531.42Z" fill="#ce3031"/>
<polyline points="255.55,496.52 275.66,506.33 295.77,515.06 315.88,520.78 335.99,524.60 356.11,527.05 376.22,528.69 396.33,530.32 416.44,530.87 436.55,531.69" fill="none" stroke="#966dbb" stroke-width="0.8" stroke-linejoin="round"/>
<path d="M255.55 494.72L257.20 497.62L253.90 497.62Z" fill="#966dbb"/>
<path d="M275.66 504.53L277.31 507.43L274.01 507.43Z" fill="#966dbb"/>
<path d="M295.77 513.26L297.42 516.16L294.12 516.16Z" fill="#966dbb"/>
<path d="M315.88 518.98L317.53 521.88L314.23 521.88Z" fill="#966dbb"/>
<path d="M335.99 522.80L337.64 525.70L334.34 525.70Z" fill="#966dbb"/>
<path d="M356.11 525.25L357.76 528.15L354.46 528.15Z" fill="#966dbb"/>
<path d="M376.22 526.89L377.87 529.79L374.57 529.79Z" fill="#966dbb"/>
<path d="M396.33 528.52L397.98 531.42L394.68 531.42Z" fill="#966dbb"/>
<path d="M416.44 529.07L418.09 531.97L414.79 531.97Z" fill="#966dbb"/>
<path d="M436.55 529.89L438.20 532.79L434.90 532.79Z" fill="#966dbb"/>
<text x="346.05" y="578.60" font-size="8.6" text-anchor="middle" fill="#1a1a1a" stroke="#1a1a1a" stroke-width="0.25" font-family='"Liberation Sans", sans-serif'>&#916;<tspan font-style="italic">T</tspan></text>
<rect x="404.60" y="428.20" width="37.70" height="53.00" rx="1.6" fill="#fff" fill-opacity="0.85" stroke="#e2e2e2" stroke-width="0.6"/>
<line x1="406.70" y1="433.90" x2="421.30" y2="433.90" stroke="#2a79b0" stroke-width="1.1" stroke-opacity="0.6"/>
<path d="M414.00 432.10L415.65 435.00L412.35 435.00Z" fill="#2a79b0"/>
<text x="427.10" y="436.45" font-size="7.30" text-anchor="start" fill="#1a1a1a" font-weight="normal" font-family='"Liberation Sans", sans-serif' stroke="#1a1a1a" stroke-width="0.20">2x</text>
<line x1="406.70" y1="444.05" x2="421.30" y2="444.05" stroke="#f98620" stroke-width="1.1" stroke-opacity="0.6"/>
<path d="M414.00 442.25L415.65 445.15L412.35 445.15Z" fill="#f98620"/>
<text x="427.10" y="446.60" font-size="7.30" text-anchor="start" fill="#1a1a1a" font-weight="normal" font-family='"Liberation Sans", sans-serif' stroke="#1a1a1a" stroke-width="0.20">4x</text>
<line x1="406.70" y1="454.20" x2="421.30" y2="454.20" stroke="#379f37" stroke-width="1.1" stroke-opacity="0.6"/>
<path d="M414.00 452.40L415.65 455.30L412.35 455.30Z" fill="#379f37"/>
<text x="427.10" y="456.75" font-size="7.30" text-anchor="start" fill="#1a1a1a" font-weight="normal" font-family='"Liberation Sans", sans-serif' stroke="#1a1a1a" stroke-width="0.20">6x</text>
<line x1="406.70" y1="464.35" x2="421.30" y2="464.35" stroke="#ce3031" stroke-width="1.1" stroke-opacity="0.6"/>
<path d="M414.00 462.55L415.65 465.45L412.35 465.45Z" fill="#ce3031"/>
<text x="427.10" y="466.90" font-size="7.30" text-anchor="start" fill="#1a1a1a" font-weight="normal" font-family='"Liberation Sans", sans-serif' stroke="#1a1a1a" stroke-width="0.20">8x</text>
<line x1="406.70" y1="474.50" x2="421.30" y2="474.50" stroke="#966dbb" stroke-width="1.1" stroke-opacity="0.6"/>
<path d="M414.00 472.70L415.65 475.60L412.35 475.60Z" fill="#966dbb"/>
<text x="427.10" y="477.05" font-size="7.30" text-anchor="start" fill="#1a1a1a" font-weight="normal" font-family='"Liberation Sans", sans-serif' stroke="#1a1a1a" stroke-width="0.20">10x</text>
<rect x="478.60" y="425.10" width="199.10" height="136.30" fill="none" stroke="#b4b4b4" stroke-width="1.2"/>
<line x1="487.65" y1="561.40" x2="487.65" y2="563.20" stroke="#666" stroke-width="0.7"/>
<text x="487.65" y="569.30" font-size="7.20" text-anchor="middle" fill="#1a1a1a" font-weight="normal" font-family='"Liberation Sans", sans-serif' stroke="#1a1a1a" stroke-width="0.20">0</text>
<line x1="507.76" y1="561.40" x2="507.76" y2="563.20" stroke="#666" stroke-width="0.7"/>
<text x="507.76" y="569.30" font-size="7.20" text-anchor="middle" fill="#1a1a1a" font-weight="normal" font-family='"Liberation Sans", sans-serif' stroke="#1a1a1a" stroke-width="0.20">1</text>
<line x1="527.87" y1="561.40" x2="527.87" y2="563.20" stroke="#666" stroke-width="0.7"/>
<text x="527.87" y="569.30" font-size="7.20" text-anchor="middle" fill="#1a1a1a" font-weight="normal" font-family='"Liberation Sans", sans-serif' stroke="#1a1a1a" stroke-width="0.20">2</text>
<line x1="547.98" y1="561.40" x2="547.98" y2="563.20" stroke="#666" stroke-width="0.7"/>
<text x="547.98" y="569.30" font-size="7.20" text-anchor="middle" fill="#1a1a1a" font-weight="normal" font-family='"Liberation Sans", sans-serif' stroke="#1a1a1a" stroke-width="0.20">3</text>
<line x1="568.09" y1="561.40" x2="568.09" y2="563.20" stroke="#666" stroke-width="0.7"/>
<text x="568.09" y="569.30" font-size="7.20" text-anchor="middle" fill="#1a1a1a" font-weight="normal" font-family='"Liberation Sans", sans-serif' stroke="#1a1a1a" stroke-width="0.20">4</text>
<line x1="588.21" y1="561.40" x2="588.21" y2="563.20" stroke="#666" stroke-width="0.7"/>
<text x="588.21" y="569.30" font-size="7.20" text-anchor="middle" fill="#1a1a1a" font-weight="normal" font-family='"Liberation Sans", sans-serif' stroke="#1a1a1a" stroke-width="0.20">5</text>
<line x1="608.32" y1="561.40" x2="608.32" y2="563.20" stroke="#666" stroke-width="0.7"/>
<text x="608.32" y="569.30" font-size="7.20" text-anchor="middle" fill="#1a1a1a" font-weight="normal" font-family='"Liberation Sans", sans-serif' stroke="#1a1a1a" stroke-width="0.20">6</text>
<line x1="628.43" y1="561.40" x2="628.43" y2="563.20" stroke="#666" stroke-width="0.7"/>
<text x="628.43" y="569.30" font-size="7.20" text-anchor="middle" fill="#1a1a1a" font-weight="normal" font-family='"Liberation Sans", sans-serif' stroke="#1a1a1a" stroke-width="0.20">7</text>
<line x1="648.54" y1="561.40" x2="648.54" y2="563.20" stroke="#666" stroke-width="0.7"/>
<text x="648.54" y="569.30" font-size="7.20" text-anchor="middle" fill="#1a1a1a" font-weight="normal" font-family='"Liberation Sans", sans-serif' stroke="#1a1a1a" stroke-width="0.20">8</text>
<line x1="668.65" y1="561.40" x2="668.65" y2="563.20" stroke="#666" stroke-width="0.7"/>
<text x="668.65" y="569.30" font-size="7.20" text-anchor="middle" fill="#1a1a1a" font-weight="normal" font-family='"Liberation Sans", sans-serif' stroke="#1a1a1a" stroke-width="0.20">9</text>
<line x1="476.80" y1="561.40" x2="478.60" y2="561.40" stroke="#666" stroke-width="0.7"/>
<text x="475.40" y="563.95" font-size="7.20" text-anchor="end" fill="#1a1a1a" font-weight="normal" font-family='"Liberation Sans", sans-serif' stroke="#1a1a1a" stroke-width="0.20">0.2</text>
<line x1="476.80" y1="534.14" x2="478.60" y2="534.14" stroke="#666" stroke-width="0.7"/>
<text x="475.40" y="536.69" font-size="7.20" text-anchor="end" fill="#1a1a1a" font-weight="normal" font-family='"Liberation Sans", sans-serif' stroke="#1a1a1a" stroke-width="0.20">0.3</text>
<line x1="476.80" y1="506.88" x2="478.60" y2="506.88" stroke="#666" stroke-width="0.7"/>
<text x="475.40" y="509.43" font-size="7.20" text-anchor="end" fill="#1a1a1a" font-weight="normal" font-family='"Liberation Sans", sans-serif' stroke="#1a1a1a" stroke-width="0.20">0.4</text>
<line x1="476.80" y1="479.62" x2="478.60" y2="479.62" stroke="#666" stroke-width="0.7"/>
<text x="475.40" y="482.17" font-size="7.20" text-anchor="end" fill="#1a1a1a" font-weight="normal" font-family='"Liberation Sans", sans-serif' stroke="#1a1a1a" stroke-width="0.20">0.5</text>
<line x1="476.80" y1="452.36" x2="478.60" y2="452.36" stroke="#666" stroke-width="0.7"/>
<text x="475.40" y="454.91" font-size="7.20" text-anchor="end" fill="#1a1a1a" font-weight="normal" font-family='"Liberation Sans", sans-serif' stroke="#1a1a1a" stroke-width="0.20">0.6</text>
<line x1="476.80" y1="425.10" x2="478.60" y2="425.10" stroke="#666" stroke-width="0.7"/>
<text x="475.40" y="427.65" font-size="7.20" text-anchor="end" fill="#1a1a1a" font-weight="normal" font-family='"Liberation Sans", sans-serif' stroke="#1a1a1a" stroke-width="0.20">0.7</text>
<polyline points="487.65,432.73 507.76,491.61" fill="none" stroke="#2a79b0" stroke-width="0.8" stroke-linejoin="round"/>
<path d="M487.65 430.93L489.30 433.83L486.00 433.83Z" fill="#2a79b0"/>
<path d="M507.76 489.81L509.41 492.71L506.11 492.71Z" fill="#2a79b0"/>
<polyline points="487.65,445.82 507.76,485.34 527.87,505.79 547.98,514.51" fill="none" stroke="#f98620" stroke-width="0.8" stroke-linejoin="round"/>
<path d="M487.65 444.02L489.30 446.92L486.00 446.92Z" fill="#f98620"/>
<path d="M507.76 483.54L509.41 486.44L506.11 486.44Z" fill="#f98620"/>
<path d="M527.87 503.99L529.52 506.89L526.22 506.89Z" fill="#f98620"/>
<path d="M547.98 512.71L549.63 515.61L546.33 515.61Z" fill="#f98620"/>
<polyline points="487.65,450.18 507.76,485.89 527.87,504.70 547.98,515.06 568.09,520.51 588.21,523.24" fill="none" stroke="#379f37" stroke-width="0.8" stroke-linejoin="round"/>
<path d="M487.65 448.38L489.30 451.28L486.00 451.28Z" fill="#379f37"/>
<path d="M507.76 484.09L509.41 486.99L506.11 486.99Z" fill="#379f37"/>
<path d="M527.87 502.90L529.52 505.80L526.22 505.80Z" fill="#379f37"/>
<path d="M547.98 513.26L549.63 516.16L546.33 516.16Z" fill="#379f37"/>
<path d="M568.09 518.71L569.74 521.61L566.44 521.61Z" fill="#379f37"/>
<path d="M588.21 521.44L589.86 524.34L586.56 524.34Z" fill="#379f37"/>
<polyline points="487.65,451.27 507.76,485.89 527.87,504.15 547.98,513.97 568.09,519.69 588.21,523.24 608.32,525.69 628.43,527.05" fill="none" stroke="#ce3031" stroke-width="0.8" stroke-linejoin="round"/>
<path d="M487.65 449.47L489.30 452.37L486.00 452.37Z" fill="#ce3031"/>
<path d="M507.76 484.09L509.41 486.99L506.11 486.99Z" fill="#ce3031"/>
<path d="M527.87 502.35L529.52 505.25L526.22 505.25Z" fill="#ce3031"/>
<path d="M547.98 512.17L549.63 515.07L546.33 515.07Z" fill="#ce3031"/>
<path d="M568.09 517.89L569.74 520.79L566.44 520.79Z" fill="#ce3031"/>
<path d="M588.21 521.44L589.86 524.34L586.56 524.34Z" fill="#ce3031"/>
<path d="M608.32 523.89L609.97 526.79L606.67 526.79Z" fill="#ce3031"/>
<path d="M628.43 525.25L630.08 528.15L626.78 528.15Z" fill="#ce3031"/>
<polyline points="487.65,453.18 507.76,486.44 527.87,503.88 547.98,513.69 568.09,519.69 588.21,523.78 608.32,526.23 628.43,527.87 648.54,528.69 668.65,529.51" fill="none" stroke="#966dbb" stroke-width="0.8" stroke-linejoin="round"/>
<path d="M487.65 451.38L489.30 454.28L486.00 454.28Z" fill="#966dbb"/>
<path d="M507.76 484.63L509.41 487.54L506.11 487.54Z" fill="#966dbb"/>
<path d="M527.87 502.08L529.52 504.98L526.22 504.98Z" fill="#966dbb"/>
<path d="M547.98 511.89L549.63 514.79L546.33 514.79Z" fill="#966dbb"/>
<path d="M568.09 517.89L569.74 520.79L566.44 520.79Z" fill="#966dbb"/>
<path d="M588.21 521.98L589.86 524.88L586.56 524.88Z" fill="#966dbb"/>
<path d="M608.32 524.43L609.97 527.33L606.67 527.33Z" fill="#966dbb"/>
<path d="M628.43 526.07L630.08 528.97L626.78 528.97Z" fill="#966dbb"/>
<path d="M648.54 526.89L650.19 529.79L646.89 529.79Z" fill="#966dbb"/>
<path d="M668.65 527.71L670.30 530.61L667.00 530.61Z" fill="#966dbb"/>
<text x="578.15" y="578.60" font-size="8.6" text-anchor="middle" fill="#1a1a1a" stroke="#1a1a1a" stroke-width="0.25" font-family='"Liberation Sans", sans-serif'>&#916;<tspan font-style="italic">T</tspan></text>
<rect x="636.70" y="428.20" width="37.70" height="53.00" rx="1.6" fill="#fff" fill-opacity="0.85" stroke="#e2e2e2" stroke-width="0.6"/>
<line x1="638.80" y1="433.90" x2="653.40" y2="433.90" stroke="#2a79b0" stroke-width="1.1" stroke-opacity="0.6"/>
<path d="M646.10 432.10L647.75 435.00L644.45 435.00Z" fill="#2a79b0"/>
<text x="659.20" y="436.45" font-size="7.30" text-anchor="start" fill="#1a1a1a" font-weight="normal" font-family='"Liberation Sans", sans-serif' stroke="#1a1a1a" stroke-width="0.20">2x</text>
<line x1="638.80" y1="444.05" x2="653.40" y2="444.05" stroke="#f98620" stroke-width="1.1" stroke-opacity="0.6"/>
<path d="M646.10 442.25L647.75 445.15L644.45 445.15Z" fill="#f98620"/>
<text x="659.20" y="446.60" font-size="7.30" text-anchor="start" fill="#1a1a1a" font-weight="normal" font-family='"Liberation Sans", sans-serif' stroke="#1a1a1a" stroke-width="0.20">4x</text>
<line x1="638.80" y1="454.20" x2="653.40" y2="454.20" stroke="#379f37" stroke-width="1.1" stroke-opacity="0.6"/>
<path d="M646.10 452.40L647.75 455.30L644.45 455.30Z" fill="#379f37"/>
<text x="659.20" y="456.75" font-size="7.30" text-anchor="start" fill="#1a1a1a" font-weight="normal" font-family='"Liberation Sans", sans-serif' stroke="#1a1a1a" stroke-width="0.20">6x</text>
<line x1="638.80" y1="464.35" x2="653.40" y2="464.35" stroke="#ce3031" stroke-width="1.1" stroke-opacity="0.6"/>
<path d="M646.10 462.55L647.75 465.45L644.45 465.45Z" fill="#ce3031"/>
<text x="659.20" y="466.90" font-size="7.30" text-anchor="start" fill="#1a1a1a" font-weight="normal" font-family='"Liberation Sans", sans-serif' stroke="#1a1a1a" stroke-width="0.20">8x</text>
<line x1="638.80" y1="474.50" x2="653.40" y2="474.50" stroke="#966dbb" stroke-width="1.1" stroke-opacity="0.6"/>
<path d="M646.10 472.70L647.75 475.60L644.45 475.60Z" fill="#966dbb"/>
<text x="659.20" y="477.05" font-size="7.30" text-anchor="start" fill="#1a1a1a" font-weight="normal" font-family='"Liberation Sans", sans-serif' stroke="#1a1a1a" stroke-width="0.20">10x</text>
<rect x="24.75" y="585.50" width="192.45" height="143.60" fill="none" stroke="#b4b4b4" stroke-width="1.2"/>
<line x1="33.50" y1="729.10" x2="33.50" y2="730.90" stroke="#666" stroke-width="0.7"/>
<text x="33.50" y="737.00" font-size="7.20" text-anchor="middle" fill="#1a1a1a" font-weight="normal" font-family='"Liberation Sans", sans-serif' stroke="#1a1a1a" stroke-width="0.20">0</text>
<line x1="59.30" y1="729.10" x2="59.30" y2="730.90" stroke="#666" stroke-width="0.7"/>
<text x="59.30" y="737.00" font-size="7.20" text-anchor="middle" fill="#1a1a1a" font-weight="normal" font-family='"Liberation Sans", sans-serif' stroke="#1a1a1a" stroke-width="0.20">50</text>
<line x1="85.11" y1="729.10" x2="85.11" y2="730.90" stroke="#666" stroke-width="0.7"/>
<text x="85.11" y="737.00" font-size="7.20" text-anchor="middle" fill="#1a1a1a" font-weight="normal" font-family='"Liberation Sans", sans-serif' stroke="#1a1a1a" stroke-width="0.20">100</text>
<line x1="110.91" y1="729.10" x2="110.91" y2="730.90" stroke="#666" stroke-width="0.7"/>
<text x="110.91" y="737.00" font-size="7.20" text-anchor="middle" fill="#1a1a1a" font-weight="normal" font-family='"Liberation Sans", sans-serif' stroke="#1a1a1a" stroke-width="0.20">150</text>
<line x1="136.72" y1="729.10" x2="136.72" y2="730.90" stroke="#666" stroke-width="0.7"/>
<text x="136.72" y="737.00" font-size="7.20" text-anchor="middle" fill="#1a1a1a" font-weight="normal" font-family='"Liberation Sans", sans-serif' stroke="#1a1a1a" stroke-width="0.20">200</text>
<line x1="162.52" y1="729.10" x2="162.52" y2="730.90" stroke="#666" stroke-width="0.7"/>
<text x="162.52" y="737.00" font-size="7.20" text-anchor="middle" fill="#1a1a1a" font-weight="normal" font-family='"Liberation Sans", sans-serif' stroke="#1a1a1a" stroke-width="0.20">250</text>
<line x1="188.32" y1="729.10" x2="188.32" y2="730.90" stroke="#666" stroke-width="0.7"/>
<text x="188.32" y="737.00" font-size="7.20" text-anchor="middle" fill="#1a1a1a" font-weight="normal" font-family='"Liberation Sans", sans-serif' stroke="#1a1a1a" stroke-width="0.20">300</text>
<line x1="214.13" y1="729.10" x2="214.13" y2="730.90" stroke="#666" stroke-width="0.7"/>
<text x="214.13" y="737.00" font-size="7.20" text-anchor="middle" fill="#1a1a1a" font-weight="normal" font-family='"Liberation Sans", sans-serif' stroke="#1a1a1a" stroke-width="0.20">350</text>
<line x1="22.95" y1="729.10" x2="24.75" y2="729.10" stroke="#666" stroke-width="0.7"/>
<text x="21.55" y="731.65" font-size="7.20" text-anchor="end" fill="#1a1a1a" font-weight="normal" font-family='"Liberation Sans", sans-serif' stroke="#1a1a1a" stroke-width="0.20">0.0</text>
<line x1="22.95" y1="702.99" x2="24.75" y2="702.99" stroke="#666" stroke-width="0.7"/>
<text x="21.55" y="705.54" font-size="7.20" text-anchor="end" fill="#1a1a1a" font-weight="normal" font-family='"Liberation Sans", sans-serif' stroke="#1a1a1a" stroke-width="0.20">0.2</text>
<line x1="22.95" y1="676.88" x2="24.75" y2="676.88" stroke="#666" stroke-width="0.7"/>
<text x="21.55" y="679.43" font-size="7.20" text-anchor="end" fill="#1a1a1a" font-weight="normal" font-family='"Liberation Sans", sans-serif' stroke="#1a1a1a" stroke-width="0.20">0.4</text>
<line x1="22.95" y1="650.77" x2="24.75" y2="650.77" stroke="#666" stroke-width="0.7"/>
<text x="21.55" y="653.32" font-size="7.20" text-anchor="end" fill="#1a1a1a" font-weight="normal" font-family='"Liberation Sans", sans-serif' stroke="#1a1a1a" stroke-width="0.20">0.6</text>
<line x1="22.95" y1="624.66" x2="24.75" y2="624.66" stroke="#666" stroke-width="0.7"/>
<text x="21.55" y="627.21" font-size="7.20" text-anchor="end" fill="#1a1a1a" font-weight="normal" font-family='"Liberation Sans", sans-serif' stroke="#1a1a1a" stroke-width="0.20">0.8</text>
<line x1="22.95" y1="598.55" x2="24.75" y2="598.55" stroke="#666" stroke-width="0.7"/>
<text x="21.55" y="601.10" font-size="7.20" text-anchor="end" fill="#1a1a1a" font-weight="normal" font-family='"Liberation Sans", sans-serif' stroke="#1a1a1a" stroke-width="0.20">1.0</text>
<polyline points="33.50,598.55 34.01,598.41 34.53,600.52 35.05,601.64 35.56,600.97 36.08,601.43 36.59,601.72 37.11,601.46 37.63,601.71 38.14,601.97 38.66,601.90 39.17,601.78 39.69,603.30 40.21,604.27 40.72,604.61 41.24,605.76 41.76,607.60 42.27,610.28 42.79,611.63 43.30,614.72 43.82,617.74 44.34,618.38 44.85,617.68 45.37,616.13 45.88,616.07 46.40,616.73 46.92,618.22 47.43,619.37 47.95,620.56 48.46,622.64 48.98,625.97 49.50,629.84 50.01,632.99 50.53,634.21 51.04,634.04 51.56,634.09 52.08,634.87 52.59,635.48 53.11,635.81 53.63,637.56 54.14,639.41 54.66,640.80 55.17,643.11 55.69,644.74 56.21,645.78 56.72,646.69 57.24,647.53 57.75,647.72 58.27,646.81 58.79,646.52 59.30,646.30 59.82,646.68 60.33,647.94 60.85,648.79 61.37,649.19 61.88,650.45 62.40,650.78 62.91,651.48 63.43,653.53 63.95,654.88 64.46,655.71 64.98,656.54 65.50,656.69 66.01,657.55 66.53,658.87 67.04,659.54 67.56,659.67 68.08,660.72 68.59,662.02 69.11,662.07 69.62,662.41 70.14,662.79 70.66,663.68 71.17,664.09 71.69,664.50 72.20,664.47 72.72,665.95 73.24,667.44 73.75,667.88 74.27,669.17 74.78,668.44 75.30,667.94 75.82,670.35 76.33,671.91 76.85,671.75 77.37,673.28 77.88,673.93 78.40,673.43 78.91,673.97 79.43,675.71 79.95,675.97 80.46,675.60 80.98,676.79 81.49,677.90 82.01,678.15 82.53,677.88 83.04,678.93 83.56,679.81 84.07,679.71 84.59,681.15 85.11,681.97 85.62,682.45 86.14,683.43 86.66,682.84 87.17,682.99 87.69,683.88 88.20,684.45 88.72,684.38 89.24,684.43 89.75,685.57 90.27,686.13 90.78,686.35 91.30,685.76 91.82,686.25 92.33,687.86 92.85,688.05 93.36,688.48 93.88,688.63 94.40,688.67 94.91,689.85 95.43,690.60 95.94,690.84 96.46,690.38 96.98,689.02 97.49,689.32 98.01,690.66 98.53,691.20 99.04,691.67 99.56,691.78 100.07,691.95 100.59,693.21 101.11,694.43 101.62,695.01 102.14,694.75 102.65,695.41 103.17,696.06 103.69,695.28 104.20,695.57 104.72,695.67 105.23,695.42 105.75,696.86 106.27,698.54 106.78,698.82 107.30,698.82 107.81,699.02 108.33,698.46 108.85,699.55 109.36,700.86 109.88,700.50 110.40,700.09 110.91,700.30 111.43,700.91 111.94,700.82 112.46,701.07 112.98,702.07 113.49,702.56 114.01,703.06 114.52,703.12 115.04,702.65 115.56,704.55 116.07,704.71 116.59,703.66 117.10,704.29 117.62,704.25 118.14,705.79 118.65,706.93 119.17,706.31 119.68,706.41 120.20,706.42 120.72,706.58 121.23,707.77 121.75,707.54 122.27,706.55 122.78,706.85 123.30,707.97 123.81,708.63 124.33,708.34 124.85,708.23 125.36,708.31 125.88,708.89 126.39,710.13 126.91,710.43 127.43,709.66 127.94,709.14 128.46,708.49 128.97,708.91 129.49,709.94 130.01,710.20 130.52,710.62 131.04,710.31 131.55,710.09 132.07,710.67 132.59,711.45 133.10,711.54 133.62,711.35 134.14,710.85 134.65,710.36 135.17,711.53 135.68,711.56 136.20,711.48 136.72,712.08 137.23,711.39 137.75,712.05 138.26,712.65 138.78,712.83 139.30,713.91 139.81,713.07 140.33,712.30 140.84,713.25 141.36,714.12 141.88,714.02 142.39,712.76 142.91,712.48 143.42,713.35 143.94,713.92 144.46,713.79 144.97,714.27 145.49,713.79 146.01,712.94 146.52,713.09 147.04,713.66 147.55,713.90 148.07,713.41 148.59,714.59 149.10,714.92 149.62,714.16 150.13,714.57 150.65,714.97 151.17,714.59 151.68,714.53 152.20,715.27 152.71,715.07 153.23,714.59 153.75,714.83 154.26,714.97 154.78,714.96 155.29,715.22 155.81,715.91 156.33,716.20 156.84,715.38 157.36,716.05 157.88,716.39 158.39,716.21 158.91,717.28 159.42,717.17 159.94,716.63 160.46,715.92 160.97,716.66 161.49,716.32 162.00,714.94 162.52,715.70 163.04,716.30 163.55,716.61 164.07,716.14 164.58,715.60 165.10,715.16 165.62,715.44 166.13,715.76 166.65,715.40 167.17,715.97 167.68,715.02 168.20,714.44 168.71,714.95 169.23,715.50 169.75,716.05 170.26,715.46 170.78,715.32 171.29,715.02 171.81,714.49 172.33,715.05 172.84,715.10 173.36,714.67 173.87,714.65 174.39,714.94 174.91,715.01 175.42,714.16 175.94,713.08 176.45,713.38 176.97,713.05 177.49,712.29 178.00,713.19 178.52,712.89 179.04,711.67 179.55,711.46 180.07,710.57 180.58,710.32 181.10,710.74 181.62,710.64 182.13,710.36 182.65,711.23 183.16,711.83 183.68,710.67 184.20,709.81 184.71,709.32 185.23,708.82 185.74,708.51 186.26,708.68 186.78,708.67 187.29,708.46 187.81,707.77 188.32,707.27 188.84,707.01 189.36,707.23 189.87,707.71 190.39,707.56 190.91,706.83 191.42,705.63 191.94,705.42 192.45,705.69 192.97,706.30 193.49,705.05 194.00,704.54 194.52,704.68 195.03,704.18 195.55,704.32 196.07,703.44 196.58,703.60 197.10,703.79 197.61,704.00 198.13,703.70 198.65,702.51 199.16,702.04 199.68,702.67 200.19,702.04 200.71,701.91 201.23,702.07 201.74,701.65 202.26,701.83 202.78,700.65 203.29,700.23 203.81,701.14 204.32,700.90 204.84,699.58 205.36,699.40 205.87,698.91 206.39,697.84 206.90,698.09 207.42,697.74 207.94,696.64 208.45,698.09" fill="none" stroke="#1f77b4" stroke-width="0.75" stroke-linejoin="round"/>
<polyline points="33.50,598.55 34.01,602.63 34.53,608.40 35.05,614.23 35.56,614.94 36.08,613.17 36.59,612.71 37.11,611.71 37.63,611.42 38.14,612.19 38.66,612.94 39.17,612.81 39.69,612.24 40.21,612.81 40.72,615.37 41.24,617.79 41.76,618.94 42.27,621.52 42.79,625.68 43.30,630.53 43.82,632.10 44.34,632.31 44.85,632.85 45.37,632.38 45.88,632.80 46.40,633.85 46.92,634.18 47.43,635.42 47.95,638.90 48.46,641.93 48.98,645.00 49.50,648.02 50.01,651.08 50.53,652.67 51.04,653.59 51.56,654.42 52.08,655.37 52.59,655.80 53.11,657.83 53.63,659.44 54.14,660.40 54.66,663.12 55.17,664.65 55.69,665.60 56.21,666.59 56.72,668.59 57.24,669.66 57.75,669.80 58.27,671.34 58.79,672.61 59.30,672.25 59.82,672.50 60.33,673.59 60.85,674.97 61.37,676.59 61.88,678.08 62.40,679.01 62.91,680.76 63.43,682.42 63.95,682.62 64.46,684.05 64.98,684.39 65.50,684.81 66.01,686.21 66.53,685.63 67.04,686.72 67.56,688.58 68.08,688.13 68.59,689.02 69.11,690.57 69.62,690.48 70.14,690.71 70.66,691.32 71.17,692.00 71.69,692.29 72.20,692.64 72.72,693.62 73.24,695.03 73.75,696.27 74.27,697.47 74.78,697.30 75.30,697.65 75.82,697.95 76.33,696.67 76.85,697.95 77.37,699.50 77.88,699.62 78.40,699.32 78.91,699.89 79.43,700.73 79.95,700.96 80.46,701.41 80.98,700.97 81.49,701.69 82.01,702.61 82.53,702.37 83.04,702.33 83.56,703.36 84.07,703.56 84.59,703.11 85.11,703.54 85.62,704.03 86.14,705.50 86.66,706.15 87.17,705.35 87.69,705.36 88.20,706.07 88.72,705.59 89.24,704.89 89.75,706.00 90.27,706.38 90.78,707.54 91.30,709.62 91.82,708.57 92.33,708.01 92.85,708.41 93.36,708.31 93.88,708.88 94.40,709.06 94.91,709.22 95.43,710.49 95.94,710.72 96.46,710.19 96.98,709.72 97.49,710.58 98.01,711.67 98.53,711.61 99.04,711.89 99.56,711.13 100.07,711.08 100.59,712.25 101.11,712.54 101.62,712.17 102.14,712.89 102.65,713.55 103.17,712.59 103.69,712.27 104.20,713.19 104.72,713.99 105.23,714.23 105.75,714.91 106.27,714.61 106.78,713.93 107.30,714.49 107.81,715.44 108.33,716.02 108.85,715.38 109.36,715.13 109.88,715.70 110.40,715.68 110.91,715.12 111.43,715.75 111.94,716.51 112.46,716.69 112.98,717.06 113.49,716.39 114.01,715.72 114.52,716.02 115.04,716.88 115.56,717.61 116.07,717.19 116.59,716.99 117.10,717.00 117.62,717.22 118.14,717.06 118.65,716.01 119.17,715.70 119.68,715.87 120.20,716.64 120.72,717.04 121.23,717.34 121.75,717.43 122.27,717.52 122.78,718.26 123.30,718.47 123.81,718.02 124.33,717.69 124.85,718.01 125.36,718.75 125.88,718.86 126.39,719.09 126.91,718.57 127.43,718.06 127.94,718.74 128.46,718.81 128.97,719.72 129.49,720.39 130.01,719.77 130.52,718.55 131.04,719.14 131.55,720.23 132.07,719.83 132.59,720.37 133.10,721.22 133.62,720.72 134.14,720.06 134.65,720.14 135.17,719.51 135.68,719.50 136.20,720.12 136.72,719.41 137.23,718.89 137.75,720.43 138.26,721.47 138.78,720.31 139.30,720.86 139.81,721.90 140.33,721.95 140.84,722.24 141.36,722.26 141.88,721.59 142.39,720.52 142.91,719.92 143.42,720.52 143.94,722.14 144.46,722.20 144.97,721.48 145.49,721.31 146.01,721.24 146.52,722.25 147.04,722.02 147.55,722.17 148.07,722.70 148.59,721.63 149.10,721.18 149.62,720.63 150.13,721.89 150.65,722.48 151.17,721.11 151.68,721.44 152.20,721.48 152.71,721.86 153.23,721.88 153.75,721.15 154.26,721.92 154.78,722.50 155.29,722.16 155.81,722.18 156.33,721.64 156.84,721.28 157.36,721.18 157.88,720.75 158.39,721.34 158.91,721.99 159.42,722.48 159.94,722.78 160.46,722.74 160.97,722.23 161.49,722.30 162.00,722.33 162.52,721.75 163.04,721.92 163.55,722.01 164.07,721.03 164.58,720.12 165.10,721.05 165.62,721.79 166.13,721.51 166.65,721.46 167.17,720.50 167.68,719.97 168.20,720.01 168.71,719.42 169.23,720.11 169.75,720.92 170.26,720.61 170.78,719.97 171.29,719.94 171.81,720.03 172.33,719.36 172.84,719.04 173.36,719.28 173.87,720.08 174.39,720.91 174.91,719.95 175.42,718.94 175.94,719.79 176.45,720.14 176.97,719.80 177.49,720.17 178.00,719.70 178.52,719.13 179.04,719.23 179.55,718.37 180.07,718.12 180.58,718.06 181.10,717.66 181.62,717.74 182.13,717.75 182.65,716.76 183.16,716.70 183.68,716.65 184.20,716.83 184.71,717.09 185.23,716.43 185.74,716.94 186.26,718.07 186.78,716.85 187.29,716.01 187.81,717.03 188.32,716.28 188.84,715.66 189.36,715.43 189.87,715.37 190.39,715.94 190.91,715.19 191.42,714.68 191.94,714.74 192.45,713.82 192.97,713.15 193.49,713.27 194.00,713.71 194.52,713.48 195.03,713.95 195.55,713.95 196.07,713.32 196.58,713.27 197.10,712.49 197.61,711.87 198.13,710.98 198.65,709.92 199.16,711.27 199.68,711.66 200.19,711.01 200.71,710.58 201.23,709.81 201.74,709.40 202.26,709.09 202.78,708.93 203.29,708.97 203.81,710.23 204.32,710.39 204.84,709.40 205.36,708.84 205.87,708.68 206.39,707.47 206.90,706.85 207.42,706.76 207.94,706.60 208.45,706.44" fill="none" stroke="#ff7f0e" stroke-width="0.75" stroke-linejoin="round"/>
<polyline points="33.50,598.55 34.01,607.27 34.53,615.99 35.05,625.07 35.56,633.45 36.08,632.38 36.59,631.72 37.11,630.07 37.63,629.44 38.14,627.11 38.66,626.15 39.17,626.37 39.69,624.73 40.21,624.63 40.72,623.65 41.24,625.35 41.76,628.04 42.27,630.94 42.79,635.23 43.30,640.86 43.82,643.60 44.34,644.36 44.85,644.56 45.37,644.65 45.88,645.74 46.40,647.26 46.92,647.77 47.43,648.38 47.95,651.59 48.46,654.04 48.98,656.24 49.50,658.92 50.01,661.55 50.53,663.28 51.04,664.46 51.56,665.22 52.08,666.52 52.59,667.85 53.11,668.54 53.63,670.13 54.14,672.03 54.66,673.38 55.17,674.12 55.69,675.54 56.21,677.92 56.72,679.94 57.24,681.46 57.75,681.39 58.27,683.43 58.79,684.86 59.30,683.97 59.82,684.47 60.33,685.76 60.85,685.84 61.37,685.51 61.88,687.15 62.40,688.27 62.91,689.42 63.43,690.33 63.95,690.92 64.46,691.36 64.98,691.98 65.50,693.30 66.01,694.01 66.53,694.57 67.04,695.55 67.56,697.00 68.08,697.13 68.59,697.46 69.11,698.88 69.62,698.90 70.14,698.70 70.66,698.50 71.17,700.00 71.69,700.47 72.20,699.44 72.72,700.82 73.24,702.15 73.75,702.70 74.27,703.38 74.78,704.13 75.30,705.00 75.82,704.84 76.33,704.32 76.85,703.75 77.37,704.69 77.88,706.85 78.40,706.69 78.91,706.31 79.43,706.58 79.95,706.92 80.46,708.02 80.98,708.52 81.49,707.94 82.01,707.84 82.53,708.93 83.04,708.94 83.56,709.45 84.07,710.38 84.59,709.91 85.11,710.58 85.62,711.50 86.14,711.15 86.66,710.93 87.17,711.34 87.69,711.85 88.20,712.52 88.72,712.91 89.24,711.30 89.75,711.37 90.27,712.18 90.78,712.28 91.30,712.45 91.82,711.73 92.33,712.25 92.85,713.22 93.36,714.16 93.88,713.54 94.40,713.60 94.91,714.73 95.43,713.56 95.94,712.42 96.46,713.21 96.98,714.10 97.49,714.53 98.01,714.36 98.53,714.39 99.04,715.40 99.56,715.70 100.07,715.07 100.59,715.62 101.11,716.36 101.62,715.75 102.14,714.70 102.65,714.85 103.17,715.78 103.69,715.16 104.20,715.83 104.72,717.22 105.23,716.53 105.75,715.87 106.27,716.22 106.78,718.09 107.30,718.13 107.81,716.80 108.33,717.29 108.85,717.47 109.36,717.02 109.88,717.39 110.40,718.53 110.91,719.46 111.43,719.07 111.94,718.62 112.46,718.97 112.98,719.23 113.49,718.92 114.01,718.13 114.52,718.12 115.04,719.04 115.56,718.90 116.07,718.31 116.59,719.92 117.10,719.86 117.62,719.72 118.14,720.58 118.65,719.23 119.17,718.48 119.68,719.32 120.20,720.09 120.72,719.70 121.23,720.19 121.75,720.23 122.27,719.60 122.78,719.52 123.30,719.51 123.81,720.41 124.33,720.33 124.85,720.06 125.36,720.87 125.88,721.31 126.39,721.18 126.91,720.70 127.43,719.95 127.94,720.06 128.46,721.02 128.97,721.25 129.49,720.51 130.01,719.91 130.52,720.66 131.04,721.09 131.55,720.91 132.07,722.09 132.59,722.57 133.10,721.91 133.62,721.62 134.14,721.61 134.65,721.72 135.17,721.44 135.68,721.67 136.20,722.63 136.72,722.03 137.23,721.61 137.75,721.52 138.26,721.65 138.78,721.45 139.30,721.67 139.81,722.86 140.33,722.01 140.84,720.68 141.36,721.40 141.88,721.53 142.39,720.50 142.91,720.90 143.42,721.73 143.94,723.12 144.46,723.77 144.97,723.18 145.49,722.27 146.01,722.02 146.52,722.59 147.04,722.50 147.55,722.99 148.07,722.89 148.59,722.60 149.10,722.23 149.62,721.76 150.13,722.73 150.65,723.08 151.17,723.50 151.68,723.21 152.20,722.98 152.71,723.14 153.23,722.19 153.75,722.02 154.26,722.36 154.78,721.34 155.29,721.28 155.81,722.01 156.33,722.48 156.84,723.57 157.36,723.39 157.88,723.41 158.39,724.92 158.91,724.16 159.42,722.66 159.94,723.46 160.46,723.06 160.97,722.64 161.49,723.48 162.00,723.84 162.52,723.04 163.04,722.76 163.55,723.47 164.07,723.43 164.58,723.51 165.10,724.02 165.62,723.95 166.13,723.53 166.65,722.83 167.17,722.98 167.68,722.94 168.20,722.52 168.71,723.16 169.23,722.96 169.75,722.52 170.26,722.34 170.78,722.05 171.29,721.95 171.81,722.87 172.33,723.24 172.84,721.74 173.36,721.43 173.87,723.19 174.39,723.01 174.91,721.12 175.42,720.61 175.94,721.24 176.45,721.56 176.97,721.17 177.49,721.22 178.00,721.62 178.52,720.68 179.04,720.52 179.55,720.69 180.07,721.11 180.58,721.81 181.10,721.50 181.62,720.83 182.13,720.47 182.65,720.84 183.16,720.85 183.68,720.37 184.20,719.38 184.71,719.60 185.23,719.65 185.74,719.27 186.26,719.71 186.78,719.43 187.29,718.41 187.81,719.64 188.32,719.81 188.84,717.70 189.36,717.98 189.87,718.29 190.39,717.59 190.91,717.53 191.42,717.70 191.94,717.17 192.45,716.61 192.97,716.95 193.49,716.99 194.00,717.32 194.52,717.52 195.03,716.88 195.55,716.66 196.07,716.86 196.58,716.09 197.10,715.46 197.61,715.53 198.13,716.11 198.65,716.52 199.16,716.07 199.68,715.75 200.19,714.50 200.71,713.09 201.23,713.59 201.74,714.41 202.26,714.42 202.78,714.67 203.29,714.01 203.81,713.78 204.32,714.49 204.84,713.85 205.36,713.27 205.87,713.25 206.39,712.86 206.90,712.39 207.42,712.08 207.94,711.93 208.45,712.26" fill="none" stroke="#2ca02c" stroke-width="0.75" stroke-linejoin="round"/>
<polyline points="33.50,598.55 34.01,612.73 34.53,626.62 35.05,640.96 35.56,654.52 36.08,653.29 36.59,652.09 37.11,650.75 37.63,649.50 38.14,648.81 38.66,647.42 39.17,645.11 39.69,642.07 40.21,639.19 40.72,636.61 41.24,641.34 41.76,647.50 42.27,652.47 42.79,653.91 43.30,656.56 43.82,658.94 44.34,660.03 44.85,659.80 45.37,660.50 45.88,660.66 46.40,659.71 46.92,660.04 47.43,660.99 47.95,664.55 48.46,669.88 48.98,674.46 49.50,677.03 50.01,681.71 50.53,684.13 51.04,683.89 51.56,683.60 52.08,683.66 52.59,684.73 53.11,685.68 53.63,686.00 54.14,686.85 54.66,687.43 55.17,688.49 55.69,690.24 56.21,690.30 56.72,691.22 57.24,693.57 57.75,694.22 58.27,694.00 58.79,693.80 59.30,693.62 59.82,694.22 60.33,694.73 60.85,694.94 61.37,694.33 61.88,693.85 62.40,695.18 62.91,696.52 63.43,697.01 63.95,698.19 64.46,699.27 64.98,699.94 65.50,701.26 66.01,702.07 66.53,701.67 67.04,701.53 67.56,702.23 68.08,703.22 68.59,703.22 69.11,702.51 69.62,703.62 70.14,705.31 70.66,705.48 71.17,705.27 71.69,705.86 72.20,706.30 72.72,706.63 73.24,706.98 73.75,707.19 74.27,708.04 74.78,707.82 75.30,708.42 75.82,709.40 76.33,708.78 76.85,708.34 77.37,708.83 77.88,710.44 78.40,710.46 78.91,709.56 79.43,710.30 79.95,711.60 80.46,711.32 80.98,709.89 81.49,710.29 82.01,710.72 82.53,711.44 83.04,712.16 83.56,712.36 84.07,713.15 84.59,713.21 85.11,713.31 85.62,713.69 86.14,713.82 86.66,713.87 87.17,713.84 87.69,713.79 88.20,714.43 88.72,714.54 89.24,714.99 89.75,715.23 90.27,714.47 90.78,715.66 91.30,715.95 91.82,714.49 92.33,714.23 92.85,715.06 93.36,715.62 93.88,715.36 94.40,715.14 94.91,715.00 95.43,715.11 95.94,715.17 96.46,715.15 96.98,716.02 97.49,716.77 98.01,716.76 98.53,716.21 99.04,716.48 99.56,716.38 100.07,716.80 100.59,717.45 101.11,717.29 101.62,717.14 102.14,716.77 102.65,717.10 103.17,717.85 103.69,718.30 104.20,718.16 104.72,717.42 105.23,717.53 105.75,717.87 106.27,717.27 106.78,718.01 107.30,718.78 107.81,719.52 108.33,719.59 108.85,718.37 109.36,718.74 109.88,718.98 110.40,718.24 110.91,718.30 111.43,718.92 111.94,719.04 112.46,719.20 112.98,719.56 113.49,718.22 114.01,718.32 114.52,719.78 115.04,719.54 115.56,719.16 116.07,718.94 116.59,719.48 117.10,720.36 117.62,720.52 118.14,719.76 118.65,718.88 119.17,719.63 119.68,720.41 120.20,720.14 120.72,720.40 121.23,720.68 121.75,719.87 122.27,720.26 122.78,720.58 123.30,719.54 123.81,720.26 124.33,720.36 124.85,719.92 125.36,720.73 125.88,720.39 126.39,720.17 126.91,720.74 127.43,721.10 127.94,721.43 128.46,721.48 128.97,721.26 129.49,720.72 130.01,720.79 130.52,721.06 131.04,721.18 131.55,721.16 132.07,721.07 132.59,720.77 133.10,720.68 133.62,722.08 134.14,722.31 134.65,721.81 135.17,721.38 135.68,721.23 136.20,721.33 136.72,721.06 137.23,721.78 137.75,722.29 138.26,722.00 138.78,722.38 139.30,720.87 139.81,720.17 140.33,722.34 140.84,723.26 141.36,722.65 141.88,722.21 142.39,723.00 142.91,723.64 143.42,722.96 143.94,722.41 144.46,722.27 144.97,722.14 145.49,721.85 146.01,722.66 146.52,722.92 147.04,722.48 147.55,723.22 148.07,722.44 148.59,722.92 149.10,723.43 149.62,722.74 150.13,722.19 150.65,722.72 151.17,723.13 151.68,722.28 152.20,722.48 152.71,722.68 153.23,722.77 153.75,723.52 154.26,723.72 154.78,723.96 155.29,723.32 155.81,722.03 156.33,723.14 156.84,723.05 157.36,722.52 157.88,723.79 158.39,724.08 158.91,723.15 159.42,722.89 159.94,723.68 160.46,723.36 160.97,723.00 161.49,723.56 162.00,724.00 162.52,723.49 163.04,722.50 163.55,723.17 164.07,723.66 164.58,723.26 165.10,723.02 165.62,723.35 166.13,722.47 166.65,721.81 167.17,722.28 167.68,722.51 168.20,721.92 168.71,721.53 169.23,723.27 169.75,722.98 170.26,722.14 170.78,723.04 171.29,723.01 171.81,722.89 172.33,722.51 172.84,721.78 173.36,722.69 173.87,722.63 174.39,721.48 174.91,722.88 175.42,722.73 175.94,721.16 176.45,721.27 176.97,720.80 177.49,721.08 178.00,722.00 178.52,721.69 179.04,721.25 179.55,721.10 180.07,721.97 180.58,722.24 181.10,719.88 181.62,719.40 182.13,720.00 182.65,719.90 183.16,720.40 183.68,720.05 184.20,719.43 184.71,719.86 185.23,720.17 185.74,719.58 186.26,719.74 186.78,720.31 187.29,719.29 187.81,718.26 188.32,718.77 188.84,718.46 189.36,717.86 189.87,718.24 190.39,718.69 190.91,718.36 191.42,718.20 191.94,718.42 192.45,718.29 192.97,717.53 193.49,717.02 194.00,717.39 194.52,716.98 195.03,715.68 195.55,715.34 196.07,717.01 196.58,717.32 197.10,716.39 197.61,716.49 198.13,716.81 198.65,715.60 199.16,714.64 199.68,714.82 200.19,714.83 200.71,714.70 201.23,714.47 201.74,714.61 202.26,714.75 202.78,715.11 203.29,715.19 203.81,714.60 204.32,714.51 204.84,714.17 205.36,714.00 205.87,713.63 206.39,713.69 206.90,713.73 207.42,712.35 207.94,711.93 208.45,712.75" fill="none" stroke="#d62728" stroke-width="0.75" stroke-linejoin="round"/>
<polyline points="33.50,598.55 34.01,611.80 34.53,626.43 35.05,640.49 35.56,655.48 36.08,669.38 36.59,667.10 37.11,665.02 37.63,662.55 38.14,661.17 38.66,662.51 39.17,664.52 39.69,661.98 40.21,657.64 40.72,653.17 41.24,650.13 41.76,655.75 42.27,661.75 42.79,668.29 43.30,673.95 43.82,676.36 44.34,677.09 44.85,676.26 45.37,674.41 45.88,673.48 46.40,672.88 46.92,675.28 47.43,677.50 47.95,680.98 48.46,684.30 48.98,687.50 49.50,690.17 50.01,691.52 50.53,692.80 51.04,693.88 51.56,693.79 52.08,693.98 52.59,694.99 53.11,695.33 53.63,695.02 54.14,695.65 54.66,696.59 55.17,697.47 55.69,698.76 56.21,699.01 56.72,699.63 57.24,699.87 57.75,699.18 58.27,699.92 58.79,701.26 59.30,702.43 59.82,702.72 60.33,701.99 60.85,701.66 61.37,702.32 61.88,703.07 62.40,701.92 62.91,702.00 63.43,704.22 63.95,704.52 64.46,704.85 64.98,706.67 65.50,706.60 66.01,706.29 66.53,706.79 67.04,706.02 67.56,706.26 68.08,707.74 68.59,707.30 69.11,708.14 69.62,709.68 70.14,708.33 70.66,707.36 71.17,708.39 71.69,709.69 72.20,709.68 72.72,709.48 73.24,709.82 73.75,710.45 74.27,711.38 74.78,711.71 75.30,711.51 75.82,711.57 76.33,711.89 76.85,711.97 77.37,712.69 77.88,712.41 78.40,711.16 78.91,712.05 79.43,713.50 79.95,713.26 80.46,712.58 80.98,713.00 81.49,712.98 82.01,713.33 82.53,714.40 83.04,713.57 83.56,713.42 84.07,714.42 84.59,715.38 85.11,715.48 85.62,714.83 86.14,714.80 86.66,714.32 87.17,714.35 87.69,715.32 88.20,715.05 88.72,714.47 89.24,714.82 89.75,715.13 90.27,715.45 90.78,716.15 91.30,717.00 91.82,716.78 92.33,716.50 92.85,716.21 93.36,717.51 93.88,717.98 94.40,716.96 94.91,716.30 95.43,716.29 95.94,717.14 96.46,716.96 96.98,716.62 97.49,717.65 98.01,718.54 98.53,717.45 99.04,716.85 99.56,717.25 100.07,716.80 100.59,717.62 101.11,718.39 101.62,718.01 102.14,718.03 102.65,718.23 103.17,718.34 103.69,716.92 104.20,716.86 104.72,718.03 105.23,717.67 105.75,717.56 106.27,717.39 106.78,718.19 107.30,719.78 107.81,720.42 108.33,720.46 108.85,720.51 109.36,719.49 109.88,718.61 110.40,719.11 110.91,719.14 111.43,719.45 111.94,719.70 112.46,720.44 112.98,719.69 113.49,719.23 114.01,719.17 114.52,718.74 115.04,720.25 115.56,720.81 116.07,720.44 116.59,720.59 117.10,720.75 117.62,720.59 118.14,720.67 118.65,721.05 119.17,720.78 119.68,720.49 120.20,720.83 120.72,720.71 121.23,720.73 121.75,720.80 122.27,720.66 122.78,720.37 123.30,721.26 123.81,721.05 124.33,720.48 124.85,720.78 125.36,720.91 125.88,721.61 126.39,721.20 126.91,721.37 127.43,721.88 127.94,721.85 128.46,720.98 128.97,721.76 129.49,722.54 130.01,721.13 130.52,721.30 131.04,721.29 131.55,722.26 132.07,723.66 132.59,722.93 133.10,722.76 133.62,722.92 134.14,722.31 134.65,722.56 135.17,722.76 135.68,722.17 136.20,722.46 136.72,721.64 137.23,721.75 137.75,721.78 138.26,721.93 138.78,722.69 139.30,722.26 139.81,722.88 140.33,722.72 140.84,721.78 141.36,721.82 141.88,722.40 142.39,722.11 142.91,721.82 143.42,722.30 143.94,724.03 144.46,724.34 144.97,722.62 145.49,723.12 146.01,724.98 146.52,724.89 147.04,723.61 147.55,724.03 148.07,724.19 148.59,723.29 149.10,723.56 149.62,724.01 150.13,722.95 150.65,722.75 151.17,723.93 151.68,723.70 152.20,722.90 152.71,723.08 153.23,723.42 153.75,723.83 154.26,722.51 154.78,722.61 155.29,723.85 155.81,723.17 156.33,722.72 156.84,723.15 157.36,723.54 157.88,723.65 158.39,723.63 158.91,724.25 159.42,723.87 159.94,722.87 160.46,723.14 160.97,723.41 161.49,724.74 162.00,725.08 162.52,724.24 163.04,723.09 163.55,722.96 164.07,723.09 164.58,722.97 165.10,723.78 165.62,723.97 166.13,723.33 166.65,722.78 167.17,723.36 167.68,723.59 168.20,723.10 168.71,722.76 169.23,722.19 169.75,723.10 170.26,724.04 170.78,724.27 171.29,723.01 171.81,722.04 172.33,723.56 172.84,722.58 173.36,721.92 173.87,722.82 174.39,722.55 174.91,722.21 175.42,723.20 175.94,723.52 176.45,722.15 176.97,721.78 177.49,722.09 178.00,722.44 178.52,723.00 179.04,724.05 179.55,724.07 180.07,722.34 180.58,721.30 181.10,721.67 181.62,721.58 182.13,720.31 182.65,720.24 183.16,721.20 183.68,719.71 184.20,719.30 184.71,720.85 185.23,720.17 185.74,720.10 186.26,720.59 186.78,720.00 187.29,719.22 187.81,719.58 188.32,719.79 188.84,720.03 189.36,720.33 189.87,719.46 190.39,719.09 190.91,718.00 191.42,718.07 191.94,718.97 192.45,718.91 192.97,718.83 193.49,718.28 194.00,717.87 194.52,717.40 195.03,717.55 195.55,717.60 196.07,716.99 196.58,717.10 197.10,716.99 197.61,716.79 198.13,716.92 198.65,716.96 199.16,717.46 199.68,717.77 200.19,716.99 200.71,716.12 201.23,715.68 201.74,715.87 202.26,716.33 202.78,715.96 203.29,715.48 203.81,715.93 204.32,715.42 204.84,714.28 205.36,714.47 205.87,715.48 206.39,715.33 206.90,714.45 207.42,714.88 207.94,714.53 208.45,713.90" fill="none" stroke="#9467bd" stroke-width="0.75" stroke-linejoin="round"/>
<text x="120.97" y="745.70" font-size="8.80" text-anchor="middle" fill="#1a1a1a" font-weight="normal" font-family='"Liberation Sans", sans-serif' stroke="#1a1a1a" stroke-width="0.26">Ring Number</text>
<text x="8.37" y="657.30" font-size="8.25" text-anchor="middle" fill="#1a1a1a" font-weight="normal" font-family='"Liberation Sans", sans-serif' transform="rotate(-90 8.37 657.3)" stroke="#1a1a1a" stroke-width="0.26">Normalized FRC</text>
<rect x="174.50" y="589.25" width="38.80" height="53.75" rx="1.6" fill="#fff" fill-opacity="0.85" stroke="#e2e2e2" stroke-width="0.6"/>
<line x1="176.90" y1="594.70" x2="191.90" y2="594.70" stroke="#1f77b4" stroke-width="1.3" stroke-opacity="0.55"/>
<text x="198.00" y="597.25" font-size="7.30" text-anchor="start" fill="#1a1a1a" font-weight="normal" font-family='"Liberation Sans", sans-serif' stroke="#1a1a1a" stroke-width="0.20">2x</text>
<line x1="176.90" y1="605.12" x2="191.90" y2="605.12" stroke="#ff7f0e" stroke-width="1.3" stroke-opacity="0.55"/>
<text x="198.00" y="607.67" font-size="7.30" text-anchor="start" fill="#1a1a1a" font-weight="normal" font-family='"Liberation Sans", sans-serif' stroke="#1a1a1a" stroke-width="0.20">4x</text>
<line x1="176.90" y1="615.54" x2="191.90" y2="615.54" stroke="#2ca02c" stroke-width="1.3" stroke-opacity="0.55"/>
<text x="198.00" y="618.09" font-size="7.30" text-anchor="start" fill="#1a1a1a" font-weight="normal" font-family='"Liberation Sans", sans-serif' stroke="#1a1a1a" stroke-width="0.20">6x</text>
<line x1="176.90" y1="625.96" x2="191.90" y2="625.96" stroke="#d62728" stroke-width="1.3" stroke-opacity="0.55"/>
<text x="198.00" y="628.51" font-size="7.30" text-anchor="start" fill="#1a1a1a" font-weight="normal" font-family='"Liberation Sans", sans-serif' stroke="#1a1a1a" stroke-width="0.20">8x</text>
<line x1="176.90" y1="636.38" x2="191.90" y2="636.38" stroke="#9467bd" stroke-width="1.3" stroke-opacity="0.55"/>
<text x="198.00" y="638.93" font-size="7.30" text-anchor="start" fill="#1a1a1a" font-weight="normal" font-family='"Liberation Sans", sans-serif' stroke="#1a1a1a" stroke-width="0.20">10x</text>
<rect x="247.14" y="585.60" width="201.56" height="143.50" fill="none" stroke="#b4b4b4" stroke-width="1.2"/>
<line x1="256.30" y1="729.10" x2="256.30" y2="730.90" stroke="#666" stroke-width="0.7"/>
<text x="256.30" y="737.00" font-size="7.20" text-anchor="middle" fill="#1a1a1a" font-weight="normal" font-family='"Liberation Sans", sans-serif' stroke="#1a1a1a" stroke-width="0.20">0</text>
<line x1="283.33" y1="729.10" x2="283.33" y2="730.90" stroke="#666" stroke-width="0.7"/>
<text x="283.33" y="737.00" font-size="7.20" text-anchor="middle" fill="#1a1a1a" font-weight="normal" font-family='"Liberation Sans", sans-serif' stroke="#1a1a1a" stroke-width="0.20">50</text>
<line x1="310.35" y1="729.10" x2="310.35" y2="730.90" stroke="#666" stroke-width="0.7"/>
<text x="310.35" y="737.00" font-size="7.20" text-anchor="middle" fill="#1a1a1a" font-weight="normal" font-family='"Liberation Sans", sans-serif' stroke="#1a1a1a" stroke-width="0.20">100</text>
<line x1="337.38" y1="729.10" x2="337.38" y2="730.90" stroke="#666" stroke-width="0.7"/>
<text x="337.38" y="737.00" font-size="7.20" text-anchor="middle" fill="#1a1a1a" font-weight="normal" font-family='"Liberation Sans", sans-serif' stroke="#1a1a1a" stroke-width="0.20">150</text>
<line x1="364.41" y1="729.10" x2="364.41" y2="730.90" stroke="#666" stroke-width="0.7"/>
<text x="364.41" y="737.00" font-size="7.20" text-anchor="middle" fill="#1a1a1a" font-weight="normal" font-family='"Liberation Sans", sans-serif' stroke="#1a1a1a" stroke-width="0.20">200</text>
<line x1="391.43" y1="729.10" x2="391.43" y2="730.90" stroke="#666" stroke-width="0.7"/>
<text x="391.43" y="737.00" font-size="7.20" text-anchor="middle" fill="#1a1a1a" font-weight="normal" font-family='"Liberation Sans", sans-serif' stroke="#1a1a1a" stroke-width="0.20">250</text>
<line x1="418.46" y1="729.10" x2="418.46" y2="730.90" stroke="#666" stroke-width="0.7"/>
<text x="418.46" y="737.00" font-size="7.20" text-anchor="middle" fill="#1a1a1a" font-weight="normal" font-family='"Liberation Sans", sans-serif' stroke="#1a1a1a" stroke-width="0.20">300</text>
<line x1="445.48" y1="729.10" x2="445.48" y2="730.90" stroke="#666" stroke-width="0.7"/>
<text x="445.48" y="737.00" font-size="7.20" text-anchor="middle" fill="#1a1a1a" font-weight="normal" font-family='"Liberation Sans", sans-serif' stroke="#1a1a1a" stroke-width="0.20">350</text>
<line x1="245.34" y1="729.10" x2="247.14" y2="729.10" stroke="#666" stroke-width="0.7"/>
<text x="243.94" y="731.65" font-size="7.20" text-anchor="end" fill="#1a1a1a" font-weight="normal" font-family='"Liberation Sans", sans-serif' stroke="#1a1a1a" stroke-width="0.20">0.0</text>
<line x1="245.34" y1="703.01" x2="247.14" y2="703.01" stroke="#666" stroke-width="0.7"/>
<text x="243.94" y="705.56" font-size="7.20" text-anchor="end" fill="#1a1a1a" font-weight="normal" font-family='"Liberation Sans", sans-serif' stroke="#1a1a1a" stroke-width="0.20">0.2</text>
<line x1="245.34" y1="676.92" x2="247.14" y2="676.92" stroke="#666" stroke-width="0.7"/>
<text x="243.94" y="679.47" font-size="7.20" text-anchor="end" fill="#1a1a1a" font-weight="normal" font-family='"Liberation Sans", sans-serif' stroke="#1a1a1a" stroke-width="0.20">0.4</text>
<line x1="245.34" y1="650.83" x2="247.14" y2="650.83" stroke="#666" stroke-width="0.7"/>
<text x="243.94" y="653.38" font-size="7.20" text-anchor="end" fill="#1a1a1a" font-weight="normal" font-family='"Liberation Sans", sans-serif' stroke="#1a1a1a" stroke-width="0.20">0.6</text>
<line x1="245.34" y1="624.74" x2="247.14" y2="624.74" stroke="#666" stroke-width="0.7"/>
<text x="243.94" y="627.29" font-size="7.20" text-anchor="end" fill="#1a1a1a" font-weight="normal" font-family='"Liberation Sans", sans-serif' stroke="#1a1a1a" stroke-width="0.20">0.8</text>
<line x1="245.34" y1="598.65" x2="247.14" y2="598.65" stroke="#666" stroke-width="0.7"/>
<text x="243.94" y="601.20" font-size="7.20" text-anchor="end" fill="#1a1a1a" font-weight="normal" font-family='"Liberation Sans", sans-serif' stroke="#1a1a1a" stroke-width="0.20">1.0</text>
<polyline points="256.30,598.65 256.84,598.28 257.38,598.60 257.92,599.84 258.46,600.58 259.00,599.33 259.54,598.48 260.09,599.26 260.63,599.54 261.17,598.99 261.71,599.15 262.25,599.64 262.79,600.51 263.33,601.04 263.87,601.63 264.41,601.50 264.95,601.30 265.49,601.06 266.03,600.93 266.57,601.83 267.11,602.75 267.65,604.76 268.19,604.55 268.73,602.86 269.27,603.86 269.81,604.90 270.36,605.21 270.90,604.82 271.44,605.08 271.98,607.11 272.52,607.95 273.06,608.05 273.60,607.75 274.14,606.84 274.68,608.22 275.22,610.43 275.76,610.30 276.30,610.80 276.84,611.41 277.38,611.75 277.92,612.57 278.46,612.43 279.00,613.07 279.54,613.03 280.08,612.99 280.63,613.94 281.17,614.56 281.71,614.73 282.25,614.90 282.79,615.43 283.33,616.32 283.87,618.80 284.41,619.91 284.95,619.31 285.49,619.30 286.03,619.25 286.57,620.38 287.11,621.00 287.65,622.21 288.19,623.92 288.73,624.12 289.27,624.12 289.81,623.95 290.35,624.37 290.90,624.46 291.44,625.43 291.98,625.51 292.52,625.34 293.06,626.42 293.60,627.71 294.14,628.66 294.68,628.77 295.22,629.89 295.76,630.70 296.30,631.43 296.84,632.10 297.38,632.46 297.92,632.71 298.46,632.99 299.00,633.66 299.54,634.62 300.08,635.07 300.62,635.72 301.16,636.57 301.71,637.56 302.25,637.99 302.79,638.73 303.33,639.61 303.87,640.59 304.41,642.73 304.95,642.54 305.49,642.57 306.03,644.47 306.57,645.71 307.11,646.54 307.65,647.45 308.19,647.85 308.73,647.44 309.27,648.06 309.81,648.58 310.35,649.06 310.89,649.61 311.43,649.93 311.98,651.29 312.52,652.16 313.06,653.37 313.60,653.86 314.14,653.45 314.68,655.06 315.22,656.86 315.76,656.06 316.30,655.38 316.84,656.79 317.38,657.15 317.92,657.07 318.46,658.93 319.00,659.56 319.54,659.16 320.08,660.23 320.62,660.97 321.16,661.27 321.70,662.30 322.25,662.29 322.79,662.74 323.33,664.88 323.87,665.44 324.41,664.51 324.95,665.52 325.49,666.86 326.03,666.06 326.57,666.59 327.11,668.60 327.65,669.88 328.19,670.23 328.73,669.74 329.27,669.96 329.81,670.55 330.35,670.42 330.89,671.23 331.43,672.60 331.97,673.19 332.52,673.53 333.06,674.69 333.60,675.81 334.14,675.78 334.68,675.58 335.22,675.25 335.76,676.51 336.30,677.36 336.84,677.01 337.38,677.71 337.92,678.58 338.46,680.24 339.00,680.54 339.54,679.30 340.08,680.08 340.62,681.16 341.16,681.74 341.70,681.78 342.24,681.46 342.79,682.08 343.33,682.93 343.87,683.58 344.41,683.33 344.95,683.66 345.49,684.57 346.03,685.04 346.57,686.61 347.11,686.20 347.65,685.51 348.19,686.33 348.73,687.35 349.27,687.49 349.81,687.05 350.35,687.89 350.89,688.21 351.43,688.99 351.97,688.87 352.51,688.04 353.05,689.13 353.60,690.24 354.14,690.14 354.68,689.84 355.22,690.92 355.76,691.80 356.30,691.03 356.84,691.67 357.38,692.68 357.92,692.09 358.46,692.08 359.00,693.49 359.54,693.85 360.08,693.10 360.62,693.23 361.16,693.98 361.70,694.65 362.24,695.53 362.78,695.78 363.32,695.35 363.87,695.39 364.41,696.37 364.95,695.95 365.49,695.59 366.03,696.20 366.57,696.27 367.11,696.34 367.65,697.01 368.19,697.07 368.73,696.70 369.27,697.92 369.81,699.90 370.35,700.28 370.89,699.19 371.43,699.37 371.97,700.39 372.51,700.42 373.05,700.58 373.59,700.46 374.14,700.67 374.68,700.97 375.22,700.92 375.76,702.27 376.30,702.63 376.84,702.34 377.38,701.91 377.92,702.59 378.46,702.69 379.00,702.09 379.54,703.04 380.08,703.02 380.62,703.01 381.16,703.05 381.70,703.01 382.24,703.59 382.78,704.18 383.32,703.75 383.86,703.31 384.41,703.91 384.95,704.40 385.49,704.23 386.03,704.45 386.57,705.29 387.11,705.31 387.65,705.39 388.19,704.61 388.73,704.04 389.27,704.76 389.81,704.90 390.35,704.86 390.89,704.38 391.43,704.05 391.97,704.28 392.51,704.02 393.05,704.70 393.59,705.99 394.13,706.50 394.68,706.58 395.22,706.44 395.76,705.84 396.30,706.14 396.84,706.65 397.38,706.53 397.92,707.09 398.46,706.17 399.00,704.99 399.54,706.14 400.08,706.66 400.62,705.34 401.16,705.32 401.70,705.40 402.24,705.54 402.78,704.96 403.32,704.91 403.86,705.66 404.40,705.48 404.94,706.10 405.49,705.66 406.03,704.69 406.57,705.00 407.11,705.90 407.65,705.81 408.19,705.12 408.73,704.97 409.27,705.08 409.81,704.97 410.35,704.67 410.89,704.64 411.43,704.32 411.97,704.25 412.51,704.37 413.05,704.28 413.59,703.60 414.13,702.47 414.67,701.98 415.21,702.38 415.76,702.92 416.30,702.79 416.84,702.60 417.38,702.11 417.92,701.94 418.46,701.26 419.00,699.98 419.54,699.62 420.08,700.16 420.62,699.44 421.16,699.00 421.70,699.43 422.24,698.64 422.78,697.86 423.32,698.71 423.86,699.77 424.40,698.52 424.94,697.92 425.48,697.74 426.03,696.32 426.57,695.80 427.11,695.69 427.65,695.67 428.19,695.69 428.73,695.45 429.27,694.79 429.81,694.53 430.35,694.08 430.89,693.80 431.43,693.51 431.97,692.29 432.51,692.38 433.05,692.16 433.59,691.62 434.13,691.76 434.67,691.61 435.21,691.44 435.75,690.96 436.30,690.21 436.84,689.81 437.38,689.23 437.92,688.75 438.46,688.27 439.00,686.89 439.54,687.70" fill="none" stroke="#1f77b4" stroke-width="0.75" stroke-linejoin="round"/>
<polyline points="256.30,598.65 256.84,601.24 257.38,603.25 257.92,605.72 258.46,605.54 259.00,605.43 259.54,605.55 260.09,604.55 260.63,603.63 261.17,603.21 261.71,603.68 262.25,602.73 262.79,602.27 263.33,603.77 263.87,604.74 264.41,605.19 264.95,605.98 265.49,606.22 266.03,607.43 266.57,608.07 267.11,608.40 267.65,609.30 268.19,609.45 268.73,610.33 269.27,611.22 269.81,610.63 270.36,610.08 270.90,610.22 271.44,612.20 271.98,613.73 272.52,614.27 273.06,615.51 273.60,618.33 274.14,621.13 274.68,621.45 275.22,620.88 275.76,621.88 276.30,622.82 276.84,623.50 277.38,624.63 277.92,625.41 278.46,626.22 279.00,627.35 279.54,627.41 280.08,627.60 280.63,629.50 281.17,630.85 281.71,631.75 282.25,631.96 282.79,632.70 283.33,633.63 283.87,633.19 284.41,633.35 284.95,634.05 285.49,635.75 286.03,636.56 286.57,636.99 287.11,637.63 287.65,638.60 288.19,639.34 288.73,639.92 289.27,641.25 289.81,642.52 290.35,643.90 290.90,644.70 291.44,644.86 291.98,645.69 292.52,647.00 293.06,647.07 293.60,647.58 294.14,649.03 294.68,649.94 295.22,651.27 295.76,652.89 296.30,652.85 296.84,651.71 297.38,651.88 297.92,652.97 298.46,654.61 299.00,656.98 299.54,657.74 300.08,659.02 300.62,661.80 301.16,662.04 301.71,661.25 302.25,662.10 302.79,662.76 303.33,663.61 303.87,665.04 304.41,666.74 304.95,667.84 305.49,668.77 306.03,669.76 306.57,669.23 307.11,669.84 307.65,671.41 308.19,672.70 308.73,672.56 309.27,674.03 309.81,676.44 310.35,675.91 310.89,676.63 311.43,678.23 311.98,678.45 312.52,678.55 313.06,679.28 313.60,680.81 314.14,681.58 314.68,682.55 315.22,684.11 315.76,684.82 316.30,685.05 316.84,685.41 317.38,686.65 317.92,687.12 318.46,687.81 319.00,688.70 319.54,689.03 320.08,689.71 320.62,690.68 321.16,691.65 321.70,691.34 322.25,692.36 322.79,693.38 323.33,693.46 323.87,694.57 324.41,695.67 324.95,696.01 325.49,695.88 326.03,695.82 326.57,696.26 327.11,697.68 327.65,698.40 328.19,697.90 328.73,697.53 329.27,698.56 329.81,698.50 330.35,698.65 330.89,699.98 331.43,700.30 331.97,701.10 332.52,701.73 333.06,702.18 333.60,702.39 334.14,701.93 334.68,702.57 335.22,702.69 335.76,703.28 336.30,703.85 336.84,703.91 337.38,705.00 337.92,704.95 338.46,703.97 339.00,703.19 339.54,704.25 340.08,705.77 340.62,705.35 341.16,706.37 341.70,706.78 342.24,707.38 342.79,708.82 343.33,708.32 343.87,708.12 344.41,707.73 344.95,708.19 345.49,708.84 346.03,708.67 346.57,708.69 347.11,708.40 347.65,708.20 348.19,708.49 348.73,708.89 349.27,709.17 349.81,710.21 350.35,711.22 350.89,710.49 351.43,710.45 351.97,711.13 352.51,710.55 353.05,710.50 353.60,711.12 354.14,711.53 354.68,711.30 355.22,710.38 355.76,711.32 356.30,712.26 356.84,711.20 357.38,711.12 357.92,711.99 358.46,712.25 359.00,711.95 359.54,711.65 360.08,712.73 360.62,713.74 361.16,713.04 361.70,712.60 362.24,712.77 362.78,712.94 363.32,712.78 363.87,707.65 364.41,712.21 364.95,712.84 365.49,714.29 366.03,714.76 366.57,714.44 367.11,713.78 367.65,714.24 368.19,714.98 368.73,714.13 369.27,713.53 369.81,714.16 370.35,715.08 370.89,715.41 371.43,714.68 371.97,714.16 372.51,714.23 373.05,714.65 373.59,715.74 374.14,716.43 374.68,715.73 375.22,715.70 375.76,715.89 376.30,713.66 376.84,715.30 377.38,715.37 377.92,715.64 378.46,715.15 379.00,715.67 379.54,715.94 380.08,716.88 380.62,717.24 381.16,715.68 381.70,715.71 382.24,717.16 382.78,716.45 383.32,716.12 383.86,715.97 384.41,715.41 384.95,716.64 385.49,716.96 386.03,715.62 386.57,715.16 387.11,715.86 387.65,715.81 388.19,715.80 388.73,716.11 389.27,715.69 389.81,714.67 390.35,714.85 390.89,714.74 391.43,714.22 391.97,715.58 392.51,715.71 393.05,714.35 393.59,715.54 394.13,716.35 394.68,715.16 395.22,715.26 395.76,715.41 396.30,715.11 396.84,715.50 397.38,715.29 397.92,714.91 398.46,714.73 399.00,714.41 399.54,714.55 400.08,714.75 400.62,714.56 401.16,713.82 401.70,713.85 402.24,713.30 402.78,713.09 403.32,712.69 403.86,712.23 404.40,713.15 404.94,713.12 405.49,712.54 406.03,712.06 406.57,712.53 407.11,712.37 407.65,711.57 408.19,711.40 408.73,710.84 409.27,711.89 409.81,712.41 410.35,711.38 410.89,710.89 411.43,709.54 411.97,710.21 412.51,711.29 413.05,710.59 413.59,709.60 414.13,708.83 414.67,709.41 415.21,709.32 415.76,708.84 416.30,705.32 416.84,708.34 417.38,708.38 417.92,708.23 418.46,708.56 419.00,708.68 419.54,707.75 420.08,707.33 420.62,707.69 421.16,707.16 421.70,706.18 422.24,705.47 422.78,705.69 423.32,705.74 423.86,704.85 424.40,704.76 424.94,704.26 425.48,703.58 426.03,704.16 426.57,703.63 427.11,703.00 427.65,702.25 428.19,701.88 428.73,701.58 429.27,700.16 429.81,700.27 430.35,700.76 430.89,700.88 431.43,700.75 431.97,699.91 432.51,698.74 433.05,698.23 433.59,699.21 434.13,698.88 434.67,698.52 435.21,697.96 435.75,696.78 436.30,697.08 436.84,697.88 437.38,697.52 437.92,696.96 438.46,697.28 439.00,696.73 439.54,697.13" fill="none" stroke="#ff7f0e" stroke-width="0.75" stroke-linejoin="round"/>
<polyline points="256.30,598.65 256.84,604.34 257.38,608.79 257.92,612.10 258.46,612.19 259.00,611.92 259.54,610.66 260.09,610.08 260.63,609.60 261.17,608.73 261.71,608.38 262.25,607.61 262.79,607.78 263.33,607.75 263.87,608.93 264.41,609.21 264.95,608.81 265.49,609.23 266.03,609.30 266.57,610.89 267.11,613.61 267.65,616.53 268.19,620.54 268.73,619.32 269.27,618.21 269.81,617.74 270.36,617.71 270.90,617.40 271.44,620.33 271.98,622.84 272.52,623.47 273.06,626.89 273.60,630.41 274.14,631.58 274.68,633.28 275.22,633.84 275.76,633.93 276.30,634.53 276.84,635.15 277.38,636.08 277.92,636.31 278.46,637.37 279.00,639.41 279.54,639.42 280.08,640.44 280.63,642.88 281.17,644.77 281.71,645.63 282.25,646.49 282.79,648.26 283.33,648.66 283.87,649.27 284.41,651.12 284.95,652.28 285.49,652.92 286.03,654.40 286.57,656.20 287.11,657.08 287.65,658.53 288.19,659.73 288.73,660.13 289.27,661.95 289.81,663.51 290.35,662.87 290.90,664.39 291.44,666.57 291.98,666.85 292.52,667.74 293.06,668.51 293.60,669.37 294.14,670.26 294.68,671.76 295.22,673.80 295.76,675.01 296.30,675.21 296.84,675.91 297.38,676.70 297.92,678.10 298.46,680.24 299.00,681.48 299.54,681.90 300.08,682.27 300.62,683.01 301.16,684.18 301.71,686.28 302.25,687.90 302.79,687.86 303.33,688.22 303.87,688.78 304.41,690.20 304.95,691.01 305.49,692.42 306.03,693.64 306.57,693.05 307.11,693.69 307.65,694.03 308.19,694.67 308.73,695.76 309.27,696.06 309.81,697.17 310.35,697.51 310.89,698.10 311.43,699.03 311.98,699.06 312.52,699.97 313.06,700.45 313.60,700.55 314.14,701.24 314.68,700.81 315.22,701.49 315.76,702.93 316.30,702.38 316.84,702.58 317.38,703.04 317.92,704.40 318.46,705.43 319.00,705.15 319.54,704.90 320.08,705.60 320.62,706.47 321.16,705.50 321.70,705.57 322.25,706.49 322.79,706.96 323.33,706.88 323.87,707.98 324.41,709.16 324.95,708.83 325.49,708.66 326.03,708.67 326.57,709.96 327.11,710.18 327.65,709.86 328.19,708.89 328.73,708.87 329.27,709.90 329.81,710.26 330.35,711.08 330.89,711.44 331.43,711.17 331.97,710.40 332.52,711.59 333.06,712.18 333.60,711.47 334.14,711.30 334.68,712.10 335.22,712.23 335.76,712.74 336.30,713.53 336.84,713.41 337.38,713.86 337.92,713.36 338.46,713.21 339.00,712.54 339.54,712.98 340.08,714.82 340.62,714.41 341.16,714.11 341.70,715.02 342.24,714.70 342.79,713.99 343.33,715.44 343.87,716.44 344.41,715.39 344.95,715.73 345.49,715.66 346.03,715.53 346.57,716.28 347.11,716.31 347.65,717.17 348.19,717.49 348.73,717.47 349.27,717.75 349.81,717.10 350.35,716.77 350.89,717.54 351.43,717.88 351.97,717.20 352.51,717.42 353.05,718.37 353.60,718.10 354.14,718.25 354.68,719.23 355.22,718.18 355.76,718.20 356.30,719.07 356.84,718.43 357.38,718.72 357.92,718.13 358.46,717.16 359.00,717.91 359.54,719.59 360.08,719.68 360.62,719.85 361.16,719.84 361.70,718.72 362.24,718.91 362.78,718.79 363.32,718.90 363.87,716.03 364.41,720.27 364.95,719.37 365.49,720.21 366.03,720.65 366.57,720.28 367.11,719.38 367.65,719.53 368.19,721.72 368.73,720.62 369.27,719.19 369.81,720.01 370.35,720.55 370.89,720.89 371.43,720.94 371.97,719.95 372.51,719.75 373.05,720.19 373.59,720.63 374.14,720.09 374.68,718.94 375.22,718.75 375.76,720.18 376.30,720.74 376.84,720.49 377.38,720.72 377.92,720.11 378.46,718.66 379.00,718.69 379.54,719.94 380.08,720.32 380.62,720.04 381.16,720.56 381.70,720.49 382.24,719.30 382.78,720.07 383.32,719.72 383.86,718.19 384.41,719.30 384.95,720.00 385.49,719.85 386.03,720.53 386.57,719.87 387.11,719.34 387.65,720.31 388.19,721.16 388.73,720.41 389.27,720.33 389.81,721.00 390.35,720.41 390.89,720.00 391.43,719.65 391.97,718.44 392.51,719.18 393.05,719.39 393.59,719.40 394.13,720.05 394.68,718.85 395.22,717.70 395.76,718.97 396.30,719.25 396.84,718.46 397.38,719.03 397.92,718.55 398.46,717.55 399.00,716.48 399.54,717.00 400.08,718.27 400.62,718.66 401.16,719.26 401.70,719.46 402.24,717.74 402.78,717.65 403.32,718.58 403.86,717.87 404.40,717.44 404.94,717.42 405.49,717.40 406.03,717.09 406.57,715.74 407.11,714.94 407.65,715.38 408.19,715.88 408.73,715.71 409.27,715.06 409.81,715.36 410.35,715.86 410.89,715.16 411.43,714.80 411.97,715.11 412.51,714.61 413.05,714.11 413.59,714.40 414.13,713.43 414.67,712.64 415.21,713.31 415.76,712.94 416.30,710.07 416.84,712.19 417.38,713.89 417.92,714.31 418.46,712.85 419.00,711.93 419.54,710.95 420.08,710.50 420.62,711.02 421.16,710.59 421.70,710.48 422.24,710.13 422.78,710.29 423.32,709.74 423.86,708.81 424.40,708.86 424.94,708.62 425.48,709.41 426.03,709.12 426.57,708.17 427.11,707.68 427.65,707.37 428.19,707.01 428.73,707.05 429.27,707.76 429.81,707.36 430.35,706.86 430.89,706.39 431.43,705.52 431.97,705.05 432.51,704.81 433.05,704.19 433.59,703.31 434.13,702.93 434.67,702.67 435.21,702.29 435.75,701.67 436.30,701.63 436.84,702.75 437.38,702.74 437.92,700.60 438.46,700.97 439.00,701.32 439.54,700.57" fill="none" stroke="#2ca02c" stroke-width="0.75" stroke-linejoin="round"/>
<polyline points="256.30,598.65 256.84,606.44 257.38,615.20 257.92,622.05 258.46,625.29 259.00,624.04 259.54,622.37 260.09,620.24 260.63,618.52 261.17,615.03 261.71,612.42 262.25,610.76 262.79,610.88 263.33,611.58 263.87,612.63 264.41,613.54 264.95,613.29 265.49,612.73 266.03,614.20 266.57,615.57 267.11,618.91 267.65,622.09 268.19,625.84 268.73,625.58 269.27,625.35 269.81,625.79 270.36,625.60 270.90,624.22 271.44,626.37 271.98,629.79 272.52,631.51 273.06,633.03 273.60,635.63 274.14,637.23 274.68,639.22 275.22,640.95 275.76,642.37 276.30,642.51 276.84,641.61 277.38,642.21 277.92,643.00 278.46,644.20 279.00,645.64 279.54,647.51 280.08,649.37 280.63,651.21 281.17,652.33 281.71,653.98 282.25,656.28 282.79,656.68 283.33,656.73 283.87,656.58 284.41,656.49 284.95,656.93 285.49,658.66 286.03,660.81 286.57,661.72 287.11,662.78 287.65,664.48 288.19,664.83 288.73,665.98 289.27,668.24 289.81,669.38 290.35,670.34 290.90,671.96 291.44,672.34 291.98,672.88 292.52,673.07 293.06,674.95 293.60,677.47 294.14,677.85 294.68,678.32 295.22,679.71 295.76,680.67 296.30,681.55 296.84,683.67 297.38,684.89 297.92,685.65 298.46,686.71 299.00,688.03 299.54,689.14 300.08,689.50 300.62,690.07 301.16,690.73 301.71,692.59 302.25,695.01 302.79,694.40 303.33,694.39 303.87,695.82 304.41,697.03 304.95,697.68 305.49,697.91 306.03,698.73 306.57,698.87 307.11,699.90 307.65,701.02 308.19,702.10 308.73,702.62 309.27,702.98 309.81,703.01 310.35,703.77 310.89,704.50 311.43,704.84 311.98,706.86 312.52,706.91 313.06,706.62 313.60,707.69 314.14,708.91 314.68,710.11 315.22,710.22 315.76,709.51 316.30,710.82 316.84,711.46 317.38,710.34 317.92,711.74 318.46,712.75 319.00,712.24 319.54,713.31 320.08,713.73 320.62,714.16 321.16,714.31 321.70,713.28 322.25,713.85 322.79,715.08 323.33,716.05 323.87,715.12 324.41,713.56 324.95,714.85 325.49,715.87 326.03,715.90 326.57,715.53 327.11,716.41 327.65,716.93 328.19,717.45 328.73,717.63 329.27,717.05 329.81,716.87 330.35,716.40 330.89,717.39 331.43,718.09 331.97,718.47 332.52,717.48 333.06,716.57 333.60,717.73 334.14,718.94 334.68,718.55 335.22,718.05 335.76,718.62 336.30,718.69 336.84,718.28 337.38,718.46 337.92,718.59 338.46,718.70 339.00,718.98 339.54,719.34 340.08,719.22 340.62,719.01 341.16,719.56 341.70,719.59 342.24,719.60 342.79,719.82 343.33,719.51 343.87,719.07 344.41,720.10 344.95,720.63 345.49,719.89 346.03,720.36 346.57,720.24 347.11,719.88 347.65,720.37 348.19,721.12 348.73,721.57 349.27,720.77 349.81,719.33 350.35,719.61 350.89,721.43 351.43,720.72 351.97,719.73 352.51,719.80 353.05,720.21 353.60,720.40 354.14,719.99 354.68,721.00 355.22,721.37 355.76,720.78 356.30,721.07 356.84,720.62 357.38,720.45 357.92,720.63 358.46,720.60 359.00,720.75 359.54,720.43 360.08,721.64 360.62,722.06 361.16,720.89 361.70,720.98 362.24,720.66 362.78,719.96 363.32,721.03 363.87,719.97 364.41,720.92 364.95,721.31 365.49,720.80 366.03,720.13 366.57,720.85 367.11,721.57 367.65,722.00 368.19,721.98 368.73,721.23 369.27,721.29 369.81,721.24 370.35,719.78 370.89,720.80 371.43,722.16 371.97,721.04 372.51,720.61 373.05,721.52 373.59,721.68 374.14,721.31 374.68,720.94 375.22,721.32 375.76,721.78 376.30,721.45 376.84,721.16 377.38,721.20 377.92,722.04 378.46,722.54 379.00,721.31 379.54,720.93 380.08,721.44 380.62,721.20 381.16,721.08 381.70,720.47 382.24,720.62 382.78,720.88 383.32,720.66 383.86,720.90 384.41,721.64 384.95,721.97 385.49,721.04 386.03,720.92 386.57,721.43 387.11,721.34 387.65,721.66 388.19,721.83 388.73,721.12 389.27,721.07 389.81,721.67 390.35,720.86 390.89,719.83 391.43,720.11 391.97,720.87 392.51,720.32 393.05,719.59 393.59,720.69 394.13,721.24 394.68,721.11 395.22,721.55 395.76,720.23 396.30,718.57 396.84,720.05 397.38,720.35 397.92,719.35 398.46,719.38 399.00,718.82 399.54,718.45 400.08,718.71 400.62,719.25 401.16,718.85 401.70,717.67 402.24,718.44 402.78,719.48 403.32,718.87 403.86,718.80 404.40,718.79 404.94,717.88 405.49,717.41 406.03,717.78 406.57,717.86 407.11,718.01 407.65,717.55 408.19,717.33 408.73,718.04 409.27,717.91 409.81,717.28 410.35,716.22 410.89,716.10 411.43,716.84 411.97,715.71 412.51,715.39 413.05,715.63 413.59,715.26 414.13,715.42 414.67,716.01 415.21,716.01 415.76,715.58 416.30,716.12 416.84,715.60 417.38,715.04 417.92,715.03 418.46,714.31 419.00,715.18 419.54,715.31 420.08,714.82 420.62,715.54 421.16,714.65 421.70,713.91 422.24,714.75 422.78,714.40 423.32,713.10 423.86,712.30 424.40,711.72 424.94,712.11 425.48,713.07 426.03,712.95 426.57,711.86 427.11,711.26 427.65,710.83 428.19,710.86 428.73,710.90 429.27,710.99 429.81,711.05 430.35,710.30 430.89,709.46 431.43,709.98 431.97,710.33 432.51,709.61 433.05,708.84 433.59,708.46 434.13,707.37 434.67,707.03 435.21,708.18 435.75,708.08 436.30,707.72 436.84,707.43 437.38,706.79 437.92,705.80 438.46,705.04 439.00,705.18 439.54,706.28" fill="none" stroke="#d62728" stroke-width="0.75" stroke-linejoin="round"/>
<polyline points="256.30,598.65 256.84,607.24 257.38,616.85 257.92,624.68 258.46,628.29 259.00,626.35 259.54,623.46 260.09,620.52 260.63,619.38 261.17,617.27 261.71,614.08 262.25,611.17 262.79,611.45 263.33,612.67 263.87,613.74 264.41,613.81 264.95,613.33 265.49,613.64 266.03,614.64 266.57,615.29 267.11,620.11 267.65,624.22 268.19,627.10 268.73,627.00 269.27,627.19 269.81,626.22 270.36,625.88 270.90,625.30 271.44,627.44 271.98,630.02 272.52,632.67 273.06,635.21 273.60,636.57 274.14,639.72 274.68,641.30 275.22,642.25 275.76,643.56 276.30,642.92 276.84,643.73 277.38,644.49 277.92,644.25 278.46,645.80 279.00,648.82 279.54,650.14 280.08,650.32 280.63,652.18 281.17,654.21 281.71,655.79 282.25,658.07 282.79,658.41 283.33,657.02 283.87,656.50 284.41,657.09 284.95,658.15 285.49,659.97 286.03,660.84 286.57,661.98 287.11,663.58 287.65,665.23 288.19,666.36 288.73,667.78 289.27,669.46 289.81,670.09 290.35,672.04 290.90,673.30 291.44,673.98 291.98,676.40 292.52,677.53 293.06,677.93 293.60,678.00 294.14,678.08 294.68,678.54 295.22,680.23 295.76,682.45 296.30,683.38 296.84,683.57 297.38,684.26 297.92,686.03 298.46,687.81 299.00,688.00 299.54,689.43 300.08,691.51 300.62,691.92 301.16,692.59 301.71,694.19 302.25,694.95 302.79,695.14 303.33,696.85 303.87,697.76 304.41,697.98 304.95,698.58 305.49,698.81 306.03,699.64 306.57,700.49 307.11,699.79 307.65,700.49 308.19,701.59 308.73,701.98 309.27,703.93 309.81,704.42 310.35,704.27 310.89,705.10 311.43,705.08 311.98,705.76 312.52,706.68 313.06,707.98 313.60,708.21 314.14,708.09 314.68,708.75 315.22,708.84 315.76,710.07 316.30,710.58 316.84,709.94 317.38,711.07 317.92,713.01 318.46,712.38 319.00,711.78 319.54,713.02 320.08,713.64 320.62,714.37 321.16,714.90 321.70,714.78 322.25,714.67 322.79,715.12 323.33,715.79 323.87,715.78 324.41,716.13 324.95,717.17 325.49,717.52 326.03,717.76 326.57,717.07 327.11,716.90 327.65,717.05 328.19,716.75 328.73,716.49 329.27,716.46 329.81,717.02 330.35,717.74 330.89,719.03 331.43,718.62 331.97,717.40 332.52,718.00 333.06,718.90 333.60,719.02 334.14,719.23 334.68,718.64 335.22,718.51 335.76,718.83 336.30,718.73 336.84,719.61 337.38,719.02 337.92,718.84 338.46,720.19 339.00,719.57 339.54,719.04 340.08,719.97 340.62,720.86 341.16,721.42 341.70,721.45 342.24,720.62 342.79,720.62 343.33,720.39 343.87,720.22 344.41,720.34 344.95,720.57 345.49,720.93 346.03,720.54 346.57,720.72 347.11,720.80 347.65,721.00 348.19,717.85 348.73,720.08 349.27,719.94 349.81,718.23 350.35,719.68 350.89,720.10 351.43,720.23 351.97,720.31 352.51,720.89 353.05,721.27 353.60,721.63 354.14,721.94 354.68,720.80 355.22,720.44 355.76,721.34 356.30,720.95 356.84,722.33 357.38,722.65 357.92,721.25 358.46,721.41 359.00,721.83 359.54,722.11 360.08,721.39 360.62,720.59 361.16,720.81 361.70,721.42 362.24,721.73 362.78,721.95 363.32,722.53 363.87,722.28 364.41,722.11 364.95,723.05 365.49,722.73 366.03,722.12 366.57,722.18 367.11,722.09 367.65,722.53 368.19,722.64 368.73,722.33 369.27,722.81 369.81,722.35 370.35,721.20 370.89,721.44 371.43,721.91 371.97,721.84 372.51,721.63 373.05,722.11 373.59,722.22 374.14,721.90 374.68,722.34 375.22,722.20 375.76,722.13 376.30,722.21 376.84,721.40 377.38,720.43 377.92,721.00 378.46,722.33 379.00,721.54 379.54,721.44 380.08,721.80 380.62,721.28 381.16,721.32 381.70,721.47 382.24,722.14 382.78,721.67 383.32,721.16 383.86,721.91 384.41,721.71 384.95,721.60 385.49,720.63 386.03,719.97 386.57,721.34 387.11,721.58 387.65,721.40 388.19,721.67 388.73,721.70 389.27,721.35 389.81,720.74 390.35,720.54 390.89,720.75 391.43,720.50 391.97,719.80 392.51,720.12 393.05,719.88 393.59,718.90 394.13,719.88 394.68,720.42 395.22,720.00 395.76,719.74 396.30,718.85 396.84,718.58 397.38,719.49 397.92,719.50 398.46,718.93 399.00,718.17 399.54,718.03 400.08,718.88 400.62,718.70 401.16,718.40 401.70,718.85 402.24,718.94 402.78,718.62 403.32,718.68 403.86,718.70 404.40,717.98 404.94,717.26 405.49,716.57 406.03,716.87 406.57,717.60 407.11,717.25 407.65,716.08 408.19,715.80 408.73,715.75 409.27,716.75 409.81,717.62 410.35,715.14 410.89,714.82 411.43,715.24 411.97,715.19 412.51,716.06 413.05,715.28 413.59,714.40 414.13,714.38 414.67,713.30 415.21,713.52 415.76,714.39 416.30,713.32 416.84,712.49 417.38,713.16 417.92,713.29 418.46,712.62 419.00,713.18 419.54,712.60 420.08,711.89 420.62,712.16 421.16,711.90 421.70,711.17 422.24,711.61 422.78,711.57 423.32,710.75 423.86,711.18 424.40,710.88 424.94,710.08 425.48,709.56 426.03,709.69 426.57,709.32 427.11,708.67 427.65,709.12 428.19,708.75 428.73,707.73 429.27,707.89 429.81,707.05 430.35,705.43 430.89,706.80 431.43,707.28 431.97,706.36 432.51,706.63 433.05,705.34 433.59,704.43 434.13,704.66 434.67,703.97 435.21,703.59 435.75,704.15 436.30,703.86 436.84,702.25 437.38,701.69 437.92,701.60 438.46,701.33 439.00,702.03 439.54,702.59" fill="none" stroke="#9467bd" stroke-width="0.75" stroke-linejoin="round"/>
<text x="347.92" y="745.70" font-size="8.80" text-anchor="middle" fill="#1a1a1a" font-weight="normal" font-family='"Liberation Sans", sans-serif' stroke="#1a1a1a" stroke-width="0.26">Ring Number</text>
<rect x="406.50" y="589.25" width="38.80" height="53.75" rx="1.6" fill="#fff" fill-opacity="0.85" stroke="#e2e2e2" stroke-width="0.6"/>
<line x1="408.90" y1="594.70" x2="423.90" y2="594.70" stroke="#1f77b4" stroke-width="1.3" stroke-opacity="0.55"/>
<text x="430.00" y="597.25" font-size="7.30" text-anchor="start" fill="#1a1a1a" font-weight="normal" font-family='"Liberation Sans", sans-serif' stroke="#1a1a1a" stroke-width="0.20">2x</text>
<line x1="408.90" y1="605.12" x2="423.90" y2="605.12" stroke="#ff7f0e" stroke-width="1.3" stroke-opacity="0.55"/>
<text x="430.00" y="607.67" font-size="7.30" text-anchor="start" fill="#1a1a1a" font-weight="normal" font-family='"Liberation Sans", sans-serif' stroke="#1a1a1a" stroke-width="0.20">4x</text>
<line x1="408.90" y1="615.54" x2="423.90" y2="615.54" stroke="#2ca02c" stroke-width="1.3" stroke-opacity="0.55"/>
<text x="430.00" y="618.09" font-size="7.30" text-anchor="start" fill="#1a1a1a" font-weight="normal" font-family='"Liberation Sans", sans-serif' stroke="#1a1a1a" stroke-width="0.20">6x</text>
<line x1="408.90" y1="625.96" x2="423.90" y2="625.96" stroke="#d62728" stroke-width="1.3" stroke-opacity="0.55"/>
<text x="430.00" y="628.51" font-size="7.30" text-anchor="start" fill="#1a1a1a" font-weight="normal" font-family='"Liberation Sans", sans-serif' stroke="#1a1a1a" stroke-width="0.20">8x</text>
<line x1="408.90" y1="636.38" x2="423.90" y2="636.38" stroke="#9467bd" stroke-width="1.3" stroke-opacity="0.55"/>
<text x="430.00" y="638.93" font-size="7.30" text-anchor="start" fill="#1a1a1a" font-weight="normal" font-family='"Liberation Sans", sans-serif' stroke="#1a1a1a" stroke-width="0.20">10x</text>
<rect x="479.33" y="585.60" width="201.67" height="143.50" fill="none" stroke="#b4b4b4" stroke-width="1.2"/>
<line x1="488.50" y1="729.10" x2="488.50" y2="730.90" stroke="#666" stroke-width="0.7"/>
<text x="488.50" y="737.00" font-size="7.20" text-anchor="middle" fill="#1a1a1a" font-weight="normal" font-family='"Liberation Sans", sans-serif' stroke="#1a1a1a" stroke-width="0.20">0</text>
<line x1="515.54" y1="729.10" x2="515.54" y2="730.90" stroke="#666" stroke-width="0.7"/>
<text x="515.54" y="737.00" font-size="7.20" text-anchor="middle" fill="#1a1a1a" font-weight="normal" font-family='"Liberation Sans", sans-serif' stroke="#1a1a1a" stroke-width="0.20">50</text>
<line x1="542.58" y1="729.10" x2="542.58" y2="730.90" stroke="#666" stroke-width="0.7"/>
<text x="542.58" y="737.00" font-size="7.20" text-anchor="middle" fill="#1a1a1a" font-weight="normal" font-family='"Liberation Sans", sans-serif' stroke="#1a1a1a" stroke-width="0.20">100</text>
<line x1="569.62" y1="729.10" x2="569.62" y2="730.90" stroke="#666" stroke-width="0.7"/>
<text x="569.62" y="737.00" font-size="7.20" text-anchor="middle" fill="#1a1a1a" font-weight="normal" font-family='"Liberation Sans", sans-serif' stroke="#1a1a1a" stroke-width="0.20">150</text>
<line x1="596.66" y1="729.10" x2="596.66" y2="730.90" stroke="#666" stroke-width="0.7"/>
<text x="596.66" y="737.00" font-size="7.20" text-anchor="middle" fill="#1a1a1a" font-weight="normal" font-family='"Liberation Sans", sans-serif' stroke="#1a1a1a" stroke-width="0.20">200</text>
<line x1="623.70" y1="729.10" x2="623.70" y2="730.90" stroke="#666" stroke-width="0.7"/>
<text x="623.70" y="737.00" font-size="7.20" text-anchor="middle" fill="#1a1a1a" font-weight="normal" font-family='"Liberation Sans", sans-serif' stroke="#1a1a1a" stroke-width="0.20">250</text>
<line x1="650.74" y1="729.10" x2="650.74" y2="730.90" stroke="#666" stroke-width="0.7"/>
<text x="650.74" y="737.00" font-size="7.20" text-anchor="middle" fill="#1a1a1a" font-weight="normal" font-family='"Liberation Sans", sans-serif' stroke="#1a1a1a" stroke-width="0.20">300</text>
<line x1="677.78" y1="729.10" x2="677.78" y2="730.90" stroke="#666" stroke-width="0.7"/>
<text x="677.78" y="737.00" font-size="7.20" text-anchor="middle" fill="#1a1a1a" font-weight="normal" font-family='"Liberation Sans", sans-serif' stroke="#1a1a1a" stroke-width="0.20">350</text>
<line x1="477.53" y1="729.10" x2="479.33" y2="729.10" stroke="#666" stroke-width="0.7"/>
<text x="476.13" y="731.65" font-size="7.20" text-anchor="end" fill="#1a1a1a" font-weight="normal" font-family='"Liberation Sans", sans-serif' stroke="#1a1a1a" stroke-width="0.20">0.0</text>
<line x1="477.53" y1="703.01" x2="479.33" y2="703.01" stroke="#666" stroke-width="0.7"/>
<text x="476.13" y="705.56" font-size="7.20" text-anchor="end" fill="#1a1a1a" font-weight="normal" font-family='"Liberation Sans", sans-serif' stroke="#1a1a1a" stroke-width="0.20">0.2</text>
<line x1="477.53" y1="676.92" x2="479.33" y2="676.92" stroke="#666" stroke-width="0.7"/>
<text x="476.13" y="679.47" font-size="7.20" text-anchor="end" fill="#1a1a1a" font-weight="normal" font-family='"Liberation Sans", sans-serif' stroke="#1a1a1a" stroke-width="0.20">0.4</text>
<line x1="477.53" y1="650.83" x2="479.33" y2="650.83" stroke="#666" stroke-width="0.7"/>
<text x="476.13" y="653.38" font-size="7.20" text-anchor="end" fill="#1a1a1a" font-weight="normal" font-family='"Liberation Sans", sans-serif' stroke="#1a1a1a" stroke-width="0.20">0.6</text>
<line x1="477.53" y1="624.74" x2="479.33" y2="624.74" stroke="#666" stroke-width="0.7"/>
<text x="476.13" y="627.29" font-size="7.20" text-anchor="end" fill="#1a1a1a" font-weight="normal" font-family='"Liberation Sans", sans-serif' stroke="#1a1a1a" stroke-width="0.20">0.8</text>
<line x1="477.53" y1="598.65" x2="479.33" y2="598.65" stroke="#666" stroke-width="0.7"/>
<text x="476.13" y="601.20" font-size="7.20" text-anchor="end" fill="#1a1a1a" font-weight="normal" font-family='"Liberation Sans", sans-serif' stroke="#1a1a1a" stroke-width="0.20">1.0</text>
<polyline points="488.50,598.65 489.04,598.64 489.58,598.61 490.12,599.21 490.66,598.87 491.20,598.94 491.74,599.69 492.28,599.10 492.82,598.25 493.36,599.48 493.90,598.82 494.45,598.27 494.99,599.34 495.53,599.74 496.07,598.99 496.61,598.52 497.15,599.51 497.69,599.84 498.23,600.89 498.77,600.93 499.31,600.21 499.85,601.08 500.39,601.50 500.94,601.06 501.48,602.54 502.02,602.63 502.56,600.99 503.10,602.37 503.64,602.92 504.18,603.73 504.72,605.02 505.26,605.19 505.80,604.66 506.34,604.88 506.88,605.90 507.43,606.16 507.97,605.65 508.51,606.41 509.05,607.50 509.59,606.50 510.13,605.97 510.67,606.87 511.21,607.63 511.75,607.02 512.29,607.45 512.83,607.89 513.37,607.11 513.92,608.00 514.46,609.31 515.00,610.38 515.54,610.35 516.08,609.44 516.62,609.73 517.16,611.39 517.70,611.58 518.24,610.38 518.78,611.21 519.32,612.84 519.86,613.92 520.40,613.88 520.95,614.47 521.49,615.43 522.03,615.30 522.57,615.63 523.11,616.33 523.65,616.85 524.19,616.36 524.73,616.82 525.27,617.63 525.81,617.61 526.35,617.95 526.89,618.36 527.44,618.94 527.98,619.24 528.52,619.69 529.06,619.74 529.60,619.58 530.14,620.51 530.68,621.21 531.22,622.53 531.76,623.09 532.30,622.35 532.84,622.80 533.38,623.59 533.93,623.67 534.47,623.89 535.01,625.09 535.55,624.85 536.09,624.27 536.63,625.71 537.17,626.60 537.71,626.75 538.25,626.18 538.79,625.64 539.33,626.30 539.87,627.53 540.42,627.75 540.96,627.75 541.50,628.53 542.04,628.54 542.58,628.86 543.12,629.70 543.66,630.02 544.20,630.43 544.74,630.83 545.28,631.82 545.82,633.01 546.36,632.53 546.90,633.13 547.45,633.49 547.99,633.05 548.53,633.62 549.07,634.74 549.61,635.26 550.15,635.29 550.69,635.72 551.23,636.98 551.77,637.90 552.31,636.25 552.85,636.53 553.39,638.58 553.94,639.20 554.48,639.07 555.02,639.28 555.56,639.75 556.10,639.75 556.64,640.01 557.18,640.47 557.72,642.09 558.26,642.51 558.80,641.88 559.34,642.09 559.88,642.40 560.43,643.46 560.97,644.03 561.51,644.78 562.05,644.49 562.59,644.08 563.13,645.23 563.67,645.79 564.21,646.57 564.75,647.49 565.29,647.49 565.83,647.39 566.37,648.51 566.92,649.65 567.46,649.87 568.00,649.90 568.54,649.48 569.08,649.30 569.62,650.63 570.16,651.70 570.70,651.85 571.24,651.34 571.78,652.29 572.32,653.43 572.86,653.17 573.40,652.81 573.95,653.54 574.49,654.68 575.03,655.37 575.57,655.84 576.11,656.20 576.65,656.89 577.19,657.45 577.73,657.90 578.27,656.97 578.81,657.92 579.35,659.53 579.89,658.83 580.44,659.43 580.98,660.98 581.52,660.97 582.06,659.78 582.60,660.01 583.14,661.05 583.68,661.96 584.22,662.62 584.76,663.51 585.30,663.15 585.84,662.86 586.38,664.04 586.93,664.63 587.47,664.84 588.01,664.00 588.55,664.82 589.09,665.18 589.63,665.66 590.17,667.66 590.71,667.65 591.25,667.74 591.79,667.25 592.33,667.67 592.87,669.08 593.41,669.60 593.96,670.56 594.50,669.67 595.04,668.97 595.58,670.34 596.12,670.89 596.66,670.45 597.20,670.77 597.74,671.96 598.28,672.30 598.82,672.11 599.36,673.62 599.90,674.09 600.45,673.82 600.99,674.11 601.53,674.56 602.07,675.33 602.61,675.26 603.15,675.27 603.69,675.69 604.23,675.80 604.77,676.54 605.31,677.77 605.85,677.16 606.39,676.84 606.94,677.95 607.48,678.97 608.02,678.95 608.56,678.70 609.10,678.95 609.64,679.79 610.18,680.28 610.72,680.11 611.26,680.57 611.80,681.27 612.34,681.61 612.88,682.24 613.43,682.26 613.97,681.86 614.51,682.30 615.05,683.01 615.59,683.04 616.13,682.33 616.67,683.12 617.21,683.58 617.75,683.83 618.29,684.19 618.83,684.61 619.37,684.84 619.91,684.22 620.46,683.81 621.00,684.26 621.54,685.70 622.08,685.81 622.62,685.58 623.16,685.79 623.70,685.37 624.24,686.49 624.78,686.66 625.32,686.04 625.86,687.27 626.40,688.03 626.95,688.00 627.49,687.00 628.03,686.54 628.57,687.51 629.11,687.81 629.65,686.31 630.19,686.87 630.73,688.09 631.27,687.83 631.81,687.70 632.35,687.26 632.89,688.14 633.44,688.50 633.98,687.35 634.52,687.51 635.06,688.13 635.60,688.36 636.14,689.02 636.68,688.81 637.22,689.19 637.76,690.11 638.30,689.75 638.84,689.56 639.38,689.57 639.93,689.62 640.47,689.23 641.01,688.31 641.55,688.52 642.09,688.63 642.63,687.99 643.17,688.35 643.71,688.69 644.25,688.41 644.79,687.46 645.33,687.98 645.87,687.77 646.41,687.33 646.96,688.21 647.50,687.81 648.04,688.41 648.58,687.95 649.12,686.24 649.66,686.29 650.20,686.37 650.74,686.19 651.28,686.50 651.82,687.02 652.36,686.69 652.90,685.95 653.45,685.77 653.99,685.31 654.53,684.12 655.07,684.25 655.61,685.15 656.15,685.45 656.69,683.27 657.23,682.28 657.77,682.85 658.31,682.42 658.85,681.92 659.39,681.50 659.94,682.80 660.48,682.43 661.02,682.36 661.56,681.83 662.10,681.21 662.64,680.34 663.18,679.55 663.72,679.69 664.26,679.56 664.80,680.14 665.34,678.97 665.88,678.25 666.43,678.62 666.97,677.90 667.51,677.74 668.05,678.18 668.59,677.88 669.13,677.48 669.67,677.32 670.21,677.06 670.75,676.49 671.29,676.32 671.83,676.93" fill="none" stroke="#1f77b4" stroke-width="0.75" stroke-linejoin="round"/>
<polyline points="488.50,598.65 489.04,606.81 489.58,604.92 490.12,603.46 490.66,602.62 491.20,602.32 491.74,602.30 492.28,600.83 492.82,600.51 493.36,601.11 493.90,600.38 494.45,600.62 494.99,601.43 495.53,602.01 496.07,601.24 496.61,601.20 497.15,602.78 497.69,602.97 498.23,602.91 498.77,603.73 499.31,604.37 499.85,603.82 500.39,602.97 500.94,604.32 501.48,605.68 502.02,605.96 502.56,606.64 503.10,606.92 503.64,606.68 504.18,607.21 504.72,607.65 505.26,607.61 505.80,607.73 506.34,608.48 506.88,609.56 507.43,610.01 507.97,610.23 508.51,611.08 509.05,611.98 509.59,612.34 510.13,612.25 510.67,612.21 511.21,612.93 511.75,612.58 512.29,612.88 512.83,614.26 513.37,614.78 513.92,614.38 514.46,613.83 515.00,615.14 515.54,616.08 516.08,616.00 516.62,617.30 517.16,618.87 517.70,619.40 518.24,617.93 518.78,617.59 519.32,619.05 519.86,619.72 520.40,620.55 520.95,620.09 521.49,620.74 522.03,621.92 522.57,620.93 523.11,621.70 523.65,623.27 524.19,623.74 524.73,624.71 525.27,625.13 525.81,624.47 526.35,624.98 526.89,626.02 527.44,626.92 527.98,628.52 528.52,627.95 529.06,627.95 529.60,629.07 530.14,628.98 530.68,628.45 531.22,629.29 531.76,630.01 532.30,630.73 532.84,631.17 533.38,630.15 533.93,630.78 534.47,631.55 535.01,631.99 535.55,632.11 536.09,632.88 536.63,632.52 537.17,632.88 537.71,634.57 538.25,634.85 538.79,635.22 539.33,635.89 539.87,636.46 540.42,637.37 540.96,638.61 541.50,638.85 542.04,638.16 542.58,637.20 543.12,638.54 543.66,639.79 544.20,640.21 544.74,640.26 545.28,640.19 545.82,639.60 546.36,640.25 546.90,641.52 547.45,641.74 547.99,642.91 548.53,642.97 549.07,643.82 549.61,644.21 550.15,644.49 550.69,645.11 551.23,645.08 551.77,646.87 552.31,648.04 552.85,647.64 553.39,648.17 553.94,648.50 554.48,648.60 555.02,649.50 555.56,649.86 556.10,650.27 556.64,651.42 557.18,651.56 557.72,651.91 558.26,652.48 558.80,653.22 559.34,654.38 559.88,654.85 560.43,655.12 560.97,656.33 561.51,656.77 562.05,656.56 562.59,657.40 563.13,658.45 563.67,658.77 564.21,658.58 564.75,658.77 565.29,659.45 565.83,660.09 566.37,660.28 566.92,661.22 567.46,661.94 568.00,663.04 568.54,664.16 569.08,663.75 569.62,663.54 570.16,664.31 570.70,664.92 571.24,664.69 571.78,665.72 572.32,666.61 572.86,667.41 573.40,668.39 573.95,667.79 574.49,667.97 575.03,669.14 575.57,668.78 576.11,669.32 576.65,671.31 577.19,671.17 577.73,671.36 578.27,671.55 578.81,671.63 579.35,672.36 579.89,672.53 580.44,672.48 580.98,673.01 581.52,674.03 582.06,674.76 582.60,675.00 583.14,674.78 583.68,674.87 584.22,675.98 584.76,676.39 585.30,676.62 585.84,677.36 586.38,676.26 586.93,676.68 587.47,677.46 588.01,677.84 588.55,678.35 589.09,678.41 589.63,679.23 590.17,678.74 590.71,678.96 591.25,680.46 591.79,681.41 592.33,681.91 592.87,681.35 593.41,681.03 593.96,682.35 594.50,683.14 595.04,682.48 595.58,682.88 596.12,681.39 596.66,683.81 597.20,683.93 597.74,685.11 598.28,684.97 598.82,684.77 599.36,685.16 599.90,686.46 600.45,687.62 600.99,687.81 601.53,687.58 602.07,687.98 602.61,688.12 603.15,688.49 603.69,689.13 604.23,688.95 604.77,688.85 605.31,689.60 605.85,690.15 606.39,689.33 606.94,689.27 607.48,690.86 608.02,691.11 608.56,690.07 609.10,690.97 609.64,692.46 610.18,692.52 610.72,691.72 611.26,692.51 611.80,692.92 612.34,691.39 612.88,691.79 613.43,692.51 613.97,692.09 614.51,692.66 615.05,694.08 615.59,693.85 616.13,693.03 616.67,692.92 617.21,693.57 617.75,693.76 618.29,693.15 618.83,693.80 619.37,693.87 619.91,694.14 620.46,693.94 621.00,693.31 621.54,693.53 622.08,693.82 622.62,694.38 623.16,695.13 623.70,694.89 624.24,694.15 624.78,694.20 625.32,694.62 625.86,694.21 626.40,694.72 626.95,695.06 627.49,694.53 628.03,695.24 628.57,696.10 629.11,696.31 629.65,695.69 630.19,695.40 630.73,694.64 631.27,693.54 631.81,694.28 632.35,694.59 632.89,694.92 633.44,695.65 633.98,694.88 634.52,694.40 635.06,694.94 635.60,696.01 636.14,696.67 636.68,696.75 637.22,696.08 637.76,694.95 638.30,693.97 638.84,694.01 639.38,693.61 639.93,694.03 640.47,694.99 641.01,693.95 641.55,693.54 642.09,694.37 642.63,695.37 643.17,694.64 643.71,693.54 644.25,693.45 644.79,693.87 645.33,693.25 645.87,692.08 646.41,692.49 646.96,693.47 647.50,693.33 648.04,691.65 648.58,690.95 649.12,691.84 649.66,691.74 650.20,690.40 650.74,690.04 651.28,690.67 651.82,691.40 652.36,690.89 652.90,690.21 653.45,689.52 653.99,690.05 654.53,691.18 655.07,688.70 655.61,687.33 656.15,687.93 656.69,687.38 657.23,688.25 657.77,689.26 658.31,687.76 658.85,687.50 659.39,687.51 659.94,686.77 660.48,687.29 661.02,687.77 661.56,686.79 662.10,685.44 662.64,685.44 663.18,685.57 663.72,686.10 664.26,685.30 664.80,684.89 665.34,684.44 665.88,684.08 666.43,684.42 666.97,683.63 667.51,682.81 668.05,681.98 668.59,681.93 669.13,682.44 669.67,681.96 670.21,681.90 670.75,681.51 671.29,680.15 671.83,681.02" fill="none" stroke="#ff7f0e" stroke-width="0.75" stroke-linejoin="round"/>
<polyline points="488.50,598.65 489.04,610.62 489.58,607.43 490.12,605.08 490.66,603.41 491.20,602.77 491.74,602.05 492.28,601.16 492.82,601.55 493.36,602.22 493.90,602.02 494.45,601.10 494.99,600.25 495.53,601.21 496.07,602.58 496.61,603.02 497.15,602.35 497.69,602.67 498.23,603.92 498.77,604.18 499.31,604.43 499.85,605.73 500.39,606.30 500.94,606.61 501.48,607.17 502.02,607.62 502.56,608.27 503.10,608.84 503.64,608.51 504.18,608.20 504.72,609.58 505.26,609.74 505.80,608.11 506.34,609.45 506.88,611.54 507.43,612.41 507.97,612.66 508.51,612.06 509.05,611.78 509.59,612.66 510.13,613.34 510.67,613.75 511.21,614.68 511.75,614.79 512.29,615.93 512.83,616.72 513.37,617.06 513.92,616.64 514.46,616.28 515.00,617.04 515.54,617.50 516.08,618.61 516.62,619.05 517.16,619.10 517.70,620.25 518.24,620.78 518.78,619.96 519.32,619.69 519.86,621.13 520.40,622.38 520.95,623.64 521.49,624.20 522.03,624.38 522.57,625.19 523.11,624.69 523.65,625.39 524.19,625.42 524.73,625.25 525.27,625.93 525.81,625.92 526.35,627.29 526.89,628.41 527.44,628.98 527.98,629.14 528.52,629.36 529.06,630.14 529.60,629.70 530.14,629.23 530.68,629.58 531.22,630.56 531.76,632.02 532.30,632.06 532.84,632.20 533.38,633.10 533.93,632.87 534.47,632.98 535.01,634.63 535.55,636.24 536.09,636.41 536.63,636.30 537.17,636.36 537.71,635.90 538.25,636.33 538.79,637.37 539.33,638.60 539.87,639.28 540.42,638.47 540.96,638.61 541.50,640.16 542.04,640.44 542.58,640.99 543.12,642.08 543.66,642.42 544.20,642.20 544.74,642.63 545.28,643.14 545.82,642.54 546.36,643.45 546.90,644.90 547.45,646.02 547.99,645.51 548.53,645.53 549.07,646.71 549.61,647.21 550.15,648.16 550.69,648.56 551.23,649.55 551.77,649.41 552.31,649.61 552.85,651.03 553.39,651.30 553.94,651.91 554.48,651.85 555.02,653.13 555.56,654.09 556.10,653.11 556.64,653.99 557.18,655.42 557.72,655.17 558.26,655.58 558.80,657.44 559.34,657.13 559.88,656.34 560.43,658.14 560.97,658.78 561.51,658.63 562.05,659.99 562.59,661.87 563.13,662.02 563.67,660.78 564.21,661.75 564.75,663.29 565.29,663.69 565.83,664.07 566.37,664.20 566.92,663.77 567.46,664.94 568.00,666.04 568.54,665.65 569.08,666.46 569.62,667.07 570.16,667.50 570.70,668.11 571.24,668.87 571.78,670.11 572.32,669.81 572.86,669.36 573.40,670.57 573.95,671.39 574.49,672.56 575.03,673.48 575.57,673.40 576.11,672.44 576.65,672.79 577.19,674.25 577.73,673.98 578.27,674.70 578.81,675.83 579.35,676.27 579.89,676.35 580.44,676.63 580.98,677.55 581.52,678.49 582.06,679.16 582.60,679.27 583.14,679.37 583.68,680.28 584.22,680.15 584.76,679.71 585.30,680.39 585.84,680.33 586.38,680.18 586.93,680.74 587.47,681.51 588.01,682.11 588.55,682.37 589.09,681.59 589.63,682.30 590.17,683.73 590.71,683.96 591.25,684.41 591.79,684.29 592.33,684.67 592.87,685.47 593.41,686.39 593.96,687.28 594.50,687.22 595.04,687.13 595.58,687.15 596.12,686.27 596.66,688.69 597.20,687.98 597.74,689.08 598.28,689.66 598.82,688.24 599.36,688.70 599.90,690.92 600.45,690.99 600.99,691.28 601.53,691.62 602.07,691.04 602.61,691.10 603.15,690.97 603.69,691.23 604.23,691.81 604.77,692.33 605.31,693.14 605.85,692.95 606.39,692.93 606.94,694.04 607.48,693.39 608.02,693.28 608.56,694.91 609.10,694.66 609.64,694.39 610.18,695.24 610.72,694.65 611.26,694.13 611.80,694.90 612.34,695.37 612.88,696.01 613.43,696.74 613.97,696.13 614.51,695.67 615.05,695.87 615.59,696.53 616.13,696.81 616.67,696.84 617.21,697.06 617.75,697.75 618.29,698.39 618.83,698.78 619.37,699.10 619.91,699.54 620.46,699.16 621.00,698.73 621.54,699.89 622.08,699.83 622.62,699.26 623.16,698.92 623.70,700.15 624.24,699.91 624.78,699.52 625.32,700.51 625.86,700.77 626.40,699.54 626.95,699.23 627.49,701.19 628.03,701.62 628.57,701.76 629.11,701.05 629.65,700.21 630.19,701.08 630.73,702.51 631.27,702.21 631.81,701.47 632.35,701.11 632.89,701.22 633.44,701.69 633.98,701.52 634.52,701.86 635.06,701.45 635.60,700.87 636.14,701.33 636.68,701.84 637.22,700.59 637.76,701.60 638.30,701.74 638.84,700.94 639.38,701.05 639.93,702.11 640.47,702.17 641.01,701.67 641.55,702.25 642.09,702.79 642.63,702.24 643.17,701.46 643.71,701.46 644.25,701.12 644.79,700.40 645.33,701.26 645.87,701.80 646.41,701.22 646.96,700.60 647.50,700.30 648.04,700.10 648.58,699.57 649.12,699.67 649.66,699.47 650.20,699.28 650.74,700.36 651.28,700.46 651.82,699.73 652.36,699.43 652.90,700.32 653.45,700.46 653.99,699.27 654.53,698.95 655.07,699.13 655.61,699.35 656.15,697.95 656.69,697.72 657.23,698.74 657.77,698.26 658.31,697.77 658.85,697.22 659.39,696.47 659.94,696.49 660.48,696.01 661.02,695.98 661.56,697.02 662.10,696.08 662.64,695.56 663.18,695.98 663.72,696.07 664.26,695.93 664.80,695.03 665.34,694.27 665.88,695.54 666.43,695.97 666.97,694.61 667.51,695.13 668.05,695.19 668.59,694.61 669.13,693.36 669.67,692.69 670.21,693.68 670.75,693.09 671.29,691.89 671.83,692.23" fill="none" stroke="#2ca02c" stroke-width="0.75" stroke-linejoin="round"/>
<polyline points="488.50,598.65 489.04,617.00 489.58,613.07 490.12,608.11 490.66,605.04 491.20,604.20 491.74,603.71 492.28,602.44 492.82,601.96 493.36,602.22 493.90,601.82 494.45,602.73 494.99,603.07 495.53,602.73 496.07,603.65 496.61,605.57 497.15,605.94 497.69,604.98 498.23,605.43 498.77,606.09 499.31,605.36 499.85,605.63 500.39,607.70 500.94,608.31 501.48,608.14 502.02,608.87 502.56,609.61 503.10,609.88 503.64,609.42 504.18,610.21 504.72,611.70 505.26,612.50 505.80,611.54 506.34,611.55 506.88,613.14 507.43,613.17 507.97,613.64 508.51,614.58 509.05,615.15 509.59,615.21 510.13,615.09 510.67,614.99 511.21,615.46 511.75,616.79 512.29,617.66 512.83,617.58 513.37,617.82 513.92,618.49 514.46,618.82 515.00,618.52 515.54,619.18 516.08,621.09 516.62,621.07 517.16,620.95 517.70,621.63 518.24,621.60 518.78,621.57 519.32,622.16 519.86,622.09 520.40,623.10 520.95,623.91 521.49,624.35 522.03,625.11 522.57,626.59 523.11,627.57 523.65,626.53 524.19,626.29 524.73,627.06 525.27,628.49 525.81,628.46 526.35,627.69 526.89,629.49 527.44,630.69 527.98,630.09 528.52,630.43 529.06,631.79 529.60,632.27 530.14,631.98 530.68,632.69 531.22,632.79 531.76,632.68 532.30,633.70 532.84,633.85 533.38,634.59 533.93,634.80 534.47,635.25 535.01,635.98 535.55,636.43 536.09,637.26 536.63,636.76 537.17,637.75 537.71,638.23 538.25,638.79 538.79,639.81 539.33,639.72 539.87,639.84 540.42,640.13 540.96,640.33 541.50,639.72 542.04,640.04 542.58,641.71 543.12,642.67 543.66,643.29 544.20,643.69 544.74,644.52 545.28,644.42 545.82,644.56 546.36,646.32 546.90,647.36 547.45,647.10 547.99,647.13 548.53,648.37 549.07,649.51 549.61,650.18 550.15,650.11 550.69,650.39 551.23,651.86 551.77,652.04 552.31,653.00 552.85,654.09 553.39,652.74 553.94,652.60 554.48,654.86 555.02,656.09 555.56,656.03 556.10,655.79 556.64,655.75 557.18,656.10 557.72,656.47 558.26,657.35 558.80,658.72 559.34,659.78 559.88,660.05 560.43,661.01 560.97,660.70 561.51,660.42 562.05,662.44 562.59,662.73 563.13,662.81 563.67,663.45 564.21,663.87 564.75,665.27 565.29,666.07 565.83,666.86 566.37,667.21 566.92,667.83 567.46,667.82 568.00,667.95 568.54,668.83 569.08,668.82 569.62,669.84 570.16,671.32 570.70,670.39 571.24,670.94 571.78,672.64 572.32,672.05 572.86,671.92 573.40,672.78 573.95,674.04 574.49,673.77 575.03,673.36 575.57,674.43 576.11,675.24 576.65,675.26 577.19,675.08 577.73,675.91 578.27,676.96 578.81,677.16 579.35,678.78 579.89,678.78 580.44,678.62 580.98,679.88 581.52,679.44 582.06,679.83 582.60,679.92 583.14,679.30 583.68,680.26 584.22,681.27 584.76,681.42 585.30,681.60 585.84,682.28 586.38,683.30 586.93,683.82 587.47,684.10 588.01,683.92 588.55,684.89 589.09,685.40 589.63,685.37 590.17,686.29 590.71,687.48 591.25,688.18 591.79,687.27 592.33,687.51 592.87,687.70 593.41,688.28 593.96,690.04 594.50,689.89 595.04,690.15 595.58,690.46 596.12,688.22 596.66,690.05 597.20,690.79 597.74,691.73 598.28,691.77 598.82,691.35 599.36,691.98 599.90,692.55 600.45,692.97 600.99,693.07 601.53,693.03 602.07,693.49 602.61,693.58 603.15,693.47 603.69,693.78 604.23,694.30 604.77,694.84 605.31,694.73 605.85,694.87 606.39,695.02 606.94,695.05 607.48,695.03 608.02,695.57 608.56,696.65 609.10,696.63 609.64,696.64 610.18,697.06 610.72,697.39 611.26,697.28 611.80,697.52 612.34,698.66 612.88,699.30 613.43,698.18 613.97,698.30 614.51,699.28 615.05,699.34 615.59,699.62 616.13,699.71 616.67,699.29 617.21,699.47 617.75,700.37 618.29,700.55 618.83,700.24 619.37,701.17 619.91,700.83 620.46,700.81 621.00,701.59 621.54,700.49 622.08,700.35 622.62,700.61 623.16,700.86 623.70,701.70 624.24,701.17 624.78,699.48 625.32,700.25 625.86,701.88 626.40,702.24 626.95,702.45 627.49,702.68 628.03,702.34 628.57,702.68 629.11,702.54 629.65,702.71 630.19,704.15 630.73,704.06 631.27,703.46 631.81,703.49 632.35,703.52 632.89,703.63 633.44,704.10 633.98,704.13 634.52,704.42 635.06,704.66 635.60,704.43 636.14,705.04 636.68,704.19 637.22,702.78 637.76,705.18 638.30,703.98 638.84,703.76 639.38,703.38 639.93,703.21 640.47,703.87 641.01,703.78 641.55,703.06 642.09,702.45 642.63,702.86 643.17,703.10 643.71,702.92 644.25,703.80 644.79,704.75 645.33,704.49 645.87,703.99 646.41,704.68 646.96,701.45 647.50,702.52 648.04,702.23 648.58,703.07 649.12,703.55 649.66,703.48 650.20,703.10 650.74,702.45 651.28,702.27 651.82,702.18 652.36,701.40 652.90,700.99 653.45,701.41 653.99,701.29 654.53,700.33 655.07,700.27 655.61,700.57 656.15,700.71 656.69,700.42 657.23,699.78 657.77,700.83 658.31,700.18 658.85,699.82 659.39,700.63 659.94,699.57 660.48,698.56 661.02,698.60 661.56,698.77 662.10,698.74 662.64,698.56 663.18,698.46 663.72,698.62 664.26,697.66 664.80,697.19 665.34,696.94 665.88,695.92 666.43,695.97 666.97,696.21 667.51,696.83 668.05,697.19 668.59,696.84 669.13,696.53 669.67,695.59 670.21,695.63 670.75,695.39 671.29,694.02 671.83,694.08" fill="none" stroke="#d62728" stroke-width="0.75" stroke-linejoin="round"/>
<polyline points="488.50,598.65 489.04,624.97 489.58,618.17 490.12,610.42 490.66,605.82 491.20,605.71 491.74,604.94 492.28,603.42 492.82,602.86 493.36,602.62 493.90,602.01 494.45,602.90 494.99,604.02 495.53,604.43 496.07,604.67 496.61,604.10 497.15,605.40 497.69,606.21 498.23,606.36 498.77,607.41 499.31,607.18 499.85,608.10 500.39,608.58 500.94,607.86 501.48,608.41 502.02,608.79 502.56,609.53 503.10,610.78 503.64,610.44 504.18,611.26 504.72,612.71 505.26,612.39 505.80,612.27 506.34,612.38 506.88,613.39 507.43,614.40 507.97,613.92 508.51,614.32 509.05,614.97 509.59,615.89 510.13,616.53 510.67,617.06 511.21,617.88 511.75,617.68 512.29,618.52 512.83,619.43 513.37,619.22 513.92,619.56 514.46,620.81 515.00,620.87 515.54,620.03 516.08,621.08 516.62,622.31 517.16,622.69 517.70,623.65 518.24,623.91 518.78,623.55 519.32,624.27 519.86,624.71 520.40,625.46 520.95,625.56 521.49,624.94 522.03,626.83 522.57,628.26 523.11,627.56 523.65,627.98 524.19,629.11 524.73,629.39 525.27,628.86 525.81,629.43 526.35,630.67 526.89,630.50 527.44,631.00 527.98,631.80 528.52,632.27 529.06,632.89 529.60,633.61 530.14,633.33 530.68,633.16 531.22,633.71 531.76,634.61 532.30,636.17 532.84,636.57 533.38,637.18 533.93,637.94 534.47,638.42 535.01,638.63 535.55,638.76 536.09,639.10 536.63,639.37 537.17,639.66 537.71,640.09 538.25,640.92 538.79,641.03 539.33,641.53 539.87,643.15 540.42,642.82 540.96,642.18 541.50,643.47 542.04,643.86 542.58,644.22 543.12,645.60 543.66,646.70 544.20,646.65 544.74,647.03 545.28,647.89 545.82,648.67 546.36,649.25 546.90,649.86 547.45,650.31 547.99,650.19 548.53,650.83 549.07,651.80 549.61,652.02 550.15,652.02 550.69,653.37 551.23,654.92 551.77,655.01 552.31,655.16 552.85,656.75 553.39,656.97 553.94,656.31 554.48,656.23 555.02,656.61 555.56,657.72 556.10,658.96 556.64,659.45 557.18,658.66 557.72,659.14 558.26,660.96 558.80,661.73 559.34,661.40 559.88,661.37 560.43,662.39 560.97,663.65 561.51,664.39 562.05,664.27 562.59,664.73 563.13,664.67 563.67,664.59 564.21,665.92 564.75,667.05 565.29,666.50 565.83,666.73 566.37,667.76 566.92,668.62 567.46,669.41 568.00,669.79 568.54,669.87 569.08,669.99 569.62,671.35 570.16,671.85 570.70,671.36 571.24,673.22 571.78,674.19 572.32,673.57 572.86,673.34 573.40,673.67 573.95,676.50 574.49,676.62 575.03,675.27 575.57,676.33 576.11,676.65 576.65,676.87 577.19,677.90 577.73,678.66 578.27,679.86 578.81,680.44 579.35,684.32 579.89,681.40 580.44,684.13 580.98,680.54 581.52,681.61 582.06,683.39 582.60,684.02 583.14,683.94 583.68,684.21 584.22,684.84 584.76,684.84 585.30,684.65 585.84,685.33 586.38,685.82 586.93,685.35 587.47,686.68 588.01,688.46 588.55,688.33 589.09,688.16 589.63,687.63 590.17,687.49 590.71,688.15 591.25,688.34 591.79,688.83 592.33,689.95 592.87,690.60 593.41,690.64 593.96,691.60 594.50,691.67 595.04,691.84 595.58,693.07 596.12,691.52 596.66,692.50 597.20,692.00 597.74,692.40 598.28,693.99 598.82,693.95 599.36,694.17 599.90,694.41 600.45,694.68 600.99,695.24 601.53,695.50 602.07,697.16 602.61,698.33 603.15,697.22 603.69,696.35 604.23,697.28 604.77,697.62 605.31,697.64 605.85,697.99 606.39,698.07 606.94,699.57 607.48,700.21 608.02,699.53 608.56,699.35 609.10,699.13 609.64,699.06 610.18,699.16 610.72,700.45 611.26,700.27 611.80,699.30 612.34,700.09 612.88,699.91 613.43,700.48 613.97,701.70 614.51,702.61 615.05,702.02 615.59,701.70 616.13,702.06 616.67,702.30 617.21,703.14 617.75,702.67 618.29,703.40 618.83,703.87 619.37,704.11 619.91,703.31 620.46,701.94 621.00,703.48 621.54,704.23 622.08,704.20 622.62,704.37 623.16,704.85 623.70,705.04 624.24,704.99 624.78,705.20 625.32,704.47 625.86,705.08 626.40,705.80 626.95,705.90 627.49,706.37 628.03,706.36 628.57,707.40 629.11,708.75 629.65,707.48 630.19,706.31 630.73,706.60 631.27,706.25 631.81,706.76 632.35,707.28 632.89,707.29 633.44,707.84 633.98,708.20 634.52,707.23 635.06,706.15 635.60,706.80 636.14,707.80 636.68,707.38 637.22,707.27 637.76,708.14 638.30,708.13 638.84,707.67 639.38,707.52 639.93,707.10 640.47,707.34 641.01,707.16 641.55,706.77 642.09,707.43 642.63,707.37 643.17,707.11 643.71,706.94 644.25,707.24 644.79,707.15 645.33,707.14 645.87,706.81 646.41,706.66 646.96,705.98 647.50,706.45 648.04,706.55 648.58,707.18 649.12,706.43 649.66,705.68 650.20,704.66 650.74,705.03 651.28,705.98 651.82,705.32 652.36,705.31 652.90,705.83 653.45,705.78 653.99,705.28 654.53,704.38 655.07,703.82 655.61,704.00 656.15,704.37 656.69,703.77 657.23,703.90 657.77,705.05 658.31,705.07 658.85,703.69 659.39,703.41 659.94,703.09 660.48,702.81 661.02,703.87 661.56,703.84 662.10,703.04 662.64,702.25 663.18,702.65 663.72,703.03 664.26,701.65 664.80,702.06 665.34,702.25 665.88,701.60 666.43,701.81 666.97,701.86 667.51,701.47 668.05,700.62 668.59,701.51 669.13,701.15 669.67,701.21 670.21,701.42 670.75,700.30 671.29,699.95 671.83,699.78" fill="none" stroke="#9467bd" stroke-width="0.75" stroke-linejoin="round"/>
<text x="580.16" y="745.70" font-size="8.80" text-anchor="middle" fill="#1a1a1a" font-weight="normal" font-family='"Liberation Sans", sans-serif' stroke="#1a1a1a" stroke-width="0.26">Ring Number</text>
<rect x="638.60" y="589.25" width="38.40" height="53.75" rx="1.6" fill="#fff" fill-opacity="0.85" stroke="#e2e2e2" stroke-width="0.6"/>
<line x1="641.00" y1="594.70" x2="656.00" y2="594.70" stroke="#1f77b4" stroke-width="1.3" stroke-opacity="0.55"/>
<text x="662.10" y="597.25" font-size="7.30" text-anchor="start" fill="#1a1a1a" font-weight="normal" font-family='"Liberation Sans", sans-serif' stroke="#1a1a1a" stroke-width="0.20">2x</text>
<line x1="641.00" y1="605.12" x2="656.00" y2="605.12" stroke="#ff7f0e" stroke-width="1.3" stroke-opacity="0.55"/>
<text x="662.10" y="607.67" font-size="7.30" text-anchor="start" fill="#1a1a1a" font-weight="normal" font-family='"Liberation Sans", sans-serif' stroke="#1a1a1a" stroke-width="0.20">4x</text>
<line x1="641.00" y1="615.54" x2="656.00" y2="615.54" stroke="#2ca02c" stroke-width="1.3" stroke-opacity="0.55"/>
<text x="662.10" y="618.09" font-size="7.30" text-anchor="start" fill="#1a1a1a" font-weight="normal" font-family='"Liberation Sans", sans-serif' stroke="#1a1a1a" stroke-width="0.20">6x</text>
<line x1="641.00" y1="625.96" x2="656.00" y2="625.96" stroke="#d62728" stroke-width="1.3" stroke-opacity="0.55"/>
<text x="662.10" y="628.51" font-size="7.30" text-anchor="start" fill="#1a1a1a" font-weight="normal" font-family='"Liberation Sans", sans-serif' stroke="#1a1a1a" stroke-width="0.20">8x</text>
<line x1="641.00" y1="636.38" x2="656.00" y2="636.38" stroke="#9467bd" stroke-width="1.3" stroke-opacity="0.55"/>
<text x="662.10" y="638.93" font-size="7.30" text-anchor="start" fill="#1a1a1a" font-weight="normal" font-family='"Liberation Sans", sans-serif' stroke="#1a1a1a" stroke-width="0.20">10x</text>
</svg>
</body></html>
